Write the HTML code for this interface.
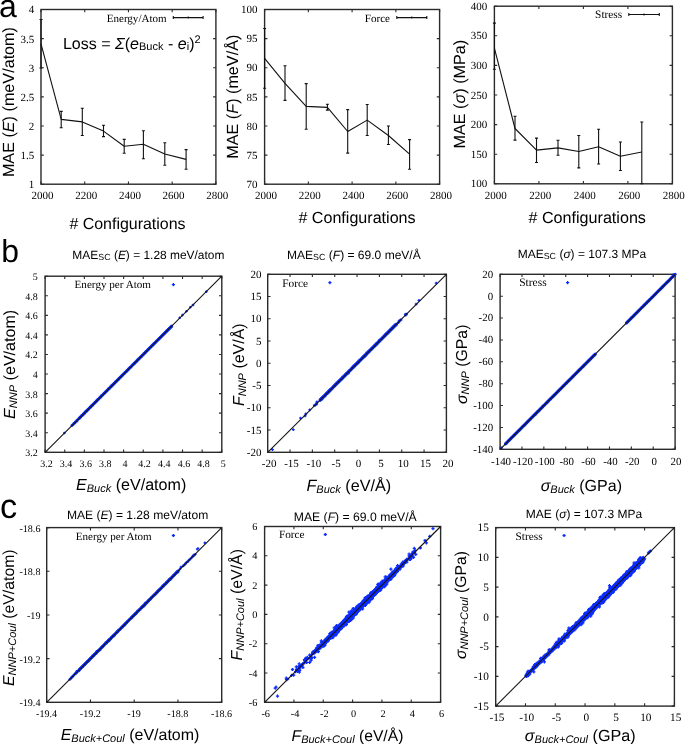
<!DOCTYPE html>
<html><head><meta charset="utf-8"><style>
html,body{margin:0;padding:0;background:#fff;width:685px;height:744px;overflow:hidden}
svg{display:block;will-change:transform} text{text-rendering:geometricPrecision}
</style></head><body>
<svg width="685" height="744" viewBox="0 0 685 744">
<rect width="685" height="744" fill="#fff"/>
<path d="M41.00 184.20v-2.80M41.00 9.50v2.80M84.72 184.20v-2.80M84.72 9.50v2.80M128.45 184.20v-2.80M128.45 9.50v2.80M172.18 184.20v-2.80M172.18 9.50v2.80M215.90 184.20v-2.80M215.90 9.50v2.80M41.00 184.20h2.80M215.90 184.20h-2.80M41.00 155.08h2.80M215.90 155.08h-2.80M41.00 125.97h2.80M215.90 125.97h-2.80M41.00 96.85h2.80M215.90 96.85h-2.80M41.00 67.73h2.80M215.90 67.73h-2.80M41.00 38.62h2.80M215.90 38.62h-2.80M41.00 9.50h2.80M215.90 9.50h-2.80" stroke="#2a2a2a" stroke-width="1.1" fill="none"/>
<rect x="41.00" y="9.50" width="174.90" height="174.70" fill="none" stroke="#2a2a2a" stroke-width="1.40"/>
<text id="a1_x0" x="42.45" y="199.05" font-family='"Liberation Serif", serif' font-size="11.00" text-anchor="middle">2000</text>
<text id="a1_x1" x="86.17" y="199.05" font-family='"Liberation Serif", serif' font-size="11.00" text-anchor="middle">2200</text>
<text id="a1_x2" x="129.90" y="199.05" font-family='"Liberation Serif", serif' font-size="11.00" text-anchor="middle">2400</text>
<text id="a1_x3" x="173.62" y="199.05" font-family='"Liberation Serif", serif' font-size="11.00" text-anchor="middle">2600</text>
<text id="a1_x4" x="217.35" y="199.05" font-family='"Liberation Serif", serif' font-size="11.00" text-anchor="middle">2800</text>
<text id="a1_y0" x="34.15" y="188.15" font-family='"Liberation Serif", serif' font-size="11.00" text-anchor="end">1</text>
<text id="a1_y1" x="34.15" y="159.03" font-family='"Liberation Serif", serif' font-size="11.00" text-anchor="end">1.5</text>
<text id="a1_y2" x="34.15" y="129.92" font-family='"Liberation Serif", serif' font-size="11.00" text-anchor="end">2</text>
<text id="a1_y3" x="34.15" y="100.80" font-family='"Liberation Serif", serif' font-size="11.00" text-anchor="end">2.5</text>
<text id="a1_y4" x="34.15" y="71.68" font-family='"Liberation Serif", serif' font-size="11.00" text-anchor="end">3</text>
<text id="a1_y5" x="34.15" y="42.57" font-family='"Liberation Serif", serif' font-size="11.00" text-anchor="end">3.5</text>
<text id="a1_y6" x="34.15" y="13.45" font-family='"Liberation Serif", serif' font-size="11.00" text-anchor="end">4</text>
<path d="M264.60 184.20v-2.80M264.60 9.50v2.80M308.35 184.20v-2.80M308.35 9.50v2.80M352.10 184.20v-2.80M352.10 9.50v2.80M395.85 184.20v-2.80M395.85 9.50v2.80M439.60 184.20v-2.80M439.60 9.50v2.80M264.60 184.20h2.80M439.60 184.20h-2.80M264.60 155.08h2.80M439.60 155.08h-2.80M264.60 125.97h2.80M439.60 125.97h-2.80M264.60 96.85h2.80M439.60 96.85h-2.80M264.60 67.73h2.80M439.60 67.73h-2.80M264.60 38.62h2.80M439.60 38.62h-2.80M264.60 9.50h2.80M439.60 9.50h-2.80" stroke="#2a2a2a" stroke-width="1.1" fill="none"/>
<rect x="264.60" y="9.50" width="175.00" height="174.70" fill="none" stroke="#2a2a2a" stroke-width="1.40"/>
<text id="a2_x0" x="266.05" y="199.05" font-family='"Liberation Serif", serif' font-size="11.00" text-anchor="middle">2000</text>
<text id="a2_x1" x="309.80" y="199.05" font-family='"Liberation Serif", serif' font-size="11.00" text-anchor="middle">2200</text>
<text id="a2_x2" x="353.55" y="199.05" font-family='"Liberation Serif", serif' font-size="11.00" text-anchor="middle">2400</text>
<text id="a2_x3" x="397.30" y="199.05" font-family='"Liberation Serif", serif' font-size="11.00" text-anchor="middle">2600</text>
<text id="a2_x4" x="441.05" y="199.05" font-family='"Liberation Serif", serif' font-size="11.00" text-anchor="middle">2800</text>
<text id="a2_y0" x="257.45" y="187.95" font-family='"Liberation Serif", serif' font-size="11.00" text-anchor="end">70</text>
<text id="a2_y1" x="257.45" y="158.83" font-family='"Liberation Serif", serif' font-size="11.00" text-anchor="end">75</text>
<text id="a2_y2" x="257.45" y="129.72" font-family='"Liberation Serif", serif' font-size="11.00" text-anchor="end">80</text>
<text id="a2_y3" x="257.45" y="100.60" font-family='"Liberation Serif", serif' font-size="11.00" text-anchor="end">85</text>
<text id="a2_y4" x="257.45" y="71.48" font-family='"Liberation Serif", serif' font-size="11.00" text-anchor="end">90</text>
<text id="a2_y5" x="257.45" y="42.37" font-family='"Liberation Serif", serif' font-size="11.00" text-anchor="end">95</text>
<text id="a2_y6" x="257.45" y="13.25" font-family='"Liberation Serif", serif' font-size="11.00" text-anchor="end">100</text>
<path d="M494.40 183.80v-2.80M494.40 6.20v2.80M538.90 183.80v-2.80M538.90 6.20v2.80M583.40 183.80v-2.80M583.40 6.20v2.80M627.90 183.80v-2.80M627.90 6.20v2.80M672.40 183.80v-2.80M672.40 6.20v2.80M494.40 183.80h2.80M672.40 183.80h-2.80M494.40 154.20h2.80M672.40 154.20h-2.80M494.40 124.60h2.80M672.40 124.60h-2.80M494.40 95.00h2.80M672.40 95.00h-2.80M494.40 65.40h2.80M672.40 65.40h-2.80M494.40 35.80h2.80M672.40 35.80h-2.80M494.40 6.20h2.80M672.40 6.20h-2.80" stroke="#2a2a2a" stroke-width="1.1" fill="none"/>
<rect x="494.40" y="6.20" width="178.00" height="177.60" fill="none" stroke="#2a2a2a" stroke-width="1.40"/>
<text id="a3_x0" x="495.85" y="198.66" font-family='"Liberation Serif", serif' font-size="11.00" text-anchor="middle">2000</text>
<text id="a3_x1" x="540.35" y="198.66" font-family='"Liberation Serif", serif' font-size="11.00" text-anchor="middle">2200</text>
<text id="a3_x2" x="584.85" y="198.66" font-family='"Liberation Serif", serif' font-size="11.00" text-anchor="middle">2400</text>
<text id="a3_x3" x="629.35" y="198.66" font-family='"Liberation Serif", serif' font-size="11.00" text-anchor="middle">2600</text>
<text id="a3_x4" x="673.85" y="198.66" font-family='"Liberation Serif", serif' font-size="11.00" text-anchor="middle">2800</text>
<text id="a3_y0" x="487.30" y="187.35" font-family='"Liberation Serif", serif' font-size="11.00" text-anchor="end">100</text>
<text id="a3_y1" x="487.30" y="157.75" font-family='"Liberation Serif", serif' font-size="11.00" text-anchor="end">150</text>
<text id="a3_y2" x="487.30" y="128.15" font-family='"Liberation Serif", serif' font-size="11.00" text-anchor="end">200</text>
<text id="a3_y3" x="487.30" y="98.55" font-family='"Liberation Serif", serif' font-size="11.00" text-anchor="end">250</text>
<text id="a3_y4" x="487.30" y="68.95" font-family='"Liberation Serif", serif' font-size="11.00" text-anchor="end">300</text>
<text id="a3_y5" x="487.30" y="39.35" font-family='"Liberation Serif", serif' font-size="11.00" text-anchor="end">350</text>
<text id="a3_y6" x="487.30" y="9.75" font-family='"Liberation Serif", serif' font-size="11.00" text-anchor="end">400</text>
<text id="a1_xl" x="127.47" y="228.80" font-family='"Liberation Sans", sans-serif' font-size="15.96" text-anchor="middle"># Configurations</text>
<text id="a2_xl" x="357.02" y="223.10" font-family='"Liberation Sans", sans-serif' font-size="16.10" text-anchor="middle"># Configurations</text>
<text id="a3_xl" x="587.23" y="223.10" font-family='"Liberation Sans", sans-serif' font-size="16.14" text-anchor="middle"># Configurations</text>
<path d="M41.00 19.50V68.00M39.50 19.50h3M39.50 68.00h3M61.20 111.40V127.70M59.70 111.40h3M59.70 127.70h3M82.30 108.20V135.50M80.80 108.20h3M80.80 135.50h3M103.50 125.30V136.60M102.00 125.30h3M102.00 136.60h3M124.20 139.40V153.20M122.70 139.40h3M122.70 153.20h3M143.40 130.70V158.70M141.90 130.70h3M141.90 158.70h3M164.80 142.80V165.30M163.30 142.80h3M163.30 165.30h3M186.10 149.60V169.30M184.60 149.60h3M184.60 169.30h3" stroke="#111" stroke-width="1.1" fill="none"/>
<polyline points="41.00,43.80 61.20,119.40 82.30,121.90 103.50,131.10 124.20,146.30 143.40,144.20 164.80,154.00 186.10,159.40" stroke="#111" stroke-width="1.1" fill="none" stroke-linejoin="round"/>
<path d="M264.60 28.50V88.30M263.10 28.50h3M263.10 88.30h3M285.00 65.80V100.40M283.50 65.80h3M283.50 100.40h3M306.20 83.60V129.30M304.70 83.60h3M304.70 129.30h3M327.40 104.20V110.10M325.90 104.20h3M325.90 110.10h3M347.70 109.60V153.10M346.20 109.60h3M346.20 153.10h3M367.20 104.50V135.50M365.70 104.50h3M365.70 135.50h3M388.40 126.00V144.50M386.90 126.00h3M386.90 144.50h3M409.60 139.60V169.30M408.10 139.60h3M408.10 169.30h3" stroke="#111" stroke-width="1.1" fill="none"/>
<polyline points="264.60,58.40 285.00,83.30 306.20,106.40 327.40,107.40 347.70,131.50 367.20,120.10 388.40,135.50 409.60,154.20" stroke="#111" stroke-width="1.1" fill="none" stroke-linejoin="round"/>
<path d="M494.40 23.10V69.30M492.90 23.10h3M492.90 69.30h3M515.00 116.20V140.10M513.50 116.20h3M513.50 140.10h3M536.50 138.10V162.50M535.00 138.10h3M535.00 162.50h3M558.00 140.30V155.20M556.50 140.30h3M556.50 155.20h3M578.80 135.50V167.90M577.30 135.50h3M577.30 167.90h3M598.60 129.20V164.00M597.10 129.20h3M597.10 164.00h3M620.40 142.00V170.50M618.90 142.00h3M618.90 170.50h3M641.80 122.00V183.80M640.30 122.00h3M640.30 183.80h3" stroke="#111" stroke-width="1.1" fill="none"/>
<polyline points="494.40,48.20 515.00,128.50 536.50,150.10 558.00,147.90 578.80,151.50 598.60,146.70 620.40,156.20 641.80,152.00" stroke="#111" stroke-width="1.1" fill="none" stroke-linejoin="round"/>
<text id="a1_lg" x="166.54" y="21.64" font-family='"Liberation Serif", serif' font-size="11.03" text-anchor="end">Energy/Atom</text>
<path d="M173.30 17.60H203.10 M173.30 16.10v3 M203.10 16.10v3 M188.20 16.60v2" stroke="#111" stroke-width="1.1" fill="none"/>
<text id="a2_lg" x="390.05" y="22.03" font-family='"Liberation Serif", serif' font-size="11.11" text-anchor="end">Force</text>
<path d="M396.80 17.60H426.80 M396.80 16.10v3 M426.80 16.10v3 M411.80 16.60v2" stroke="#111" stroke-width="1.1" fill="none"/>
<text id="a3_lg" x="622.16" y="18.49" font-family='"Liberation Serif", serif' font-size="11.34" text-anchor="end">Stress</text>
<path d="M628.80 14.50H659.30 M628.80 13.00v3 M659.30 13.00v3 M644.05 13.50v2" stroke="#111" stroke-width="1.1" fill="none"/>
<text id="loss" x="62.92" y="48.70" font-family='"Liberation Sans", sans-serif' font-size="16.06" text-anchor="start">Loss = <tspan font-style="italic">&#931;</tspan>(<tspan font-style="italic">e</tspan><tspan font-size="11" dy="1.5">Buck</tspan><tspan dy="-1.5"> - </tspan><tspan font-style="italic">e</tspan><tspan font-size="11" dy="1.5">i</tspan><tspan dy="-1.5">)</tspan><tspan font-size="11" dy="-6">2</tspan></text>
<text id="a1_yl" transform="translate(13.93 177.11) rotate(-90)" font-family='"Liberation Sans", sans-serif' font-size="16.18" text-anchor="start">MAE (<tspan font-style="italic">E</tspan>) (meV/atom)</text>
<text id="a2_yl" transform="translate(237.70 96.70) rotate(-90)" font-family='"Liberation Sans", sans-serif' font-size="16.18" text-anchor="middle">MAE (<tspan font-style="italic">F</tspan>) (meV/&#197;)</text>
<text id="a3_yl" transform="translate(464.56 94.11) rotate(-90)" font-family='"Liberation Sans", sans-serif' font-size="16.21" text-anchor="middle">MAE (<tspan font-style="italic">&#963;</tspan>) (MPa)</text>
<text id="pa" x="-1.00" y="17.00" font-family='"Liberation Sans", sans-serif' font-size="32.00" text-anchor="start">a</text>
<text id="pb" x="1.34" y="262.40" font-family='"Liberation Sans", sans-serif' font-size="31.93" text-anchor="start">b</text>
<text id="pc" x="0.09" y="517.59" font-family='"Liberation Sans", sans-serif' font-size="34.37" text-anchor="start">c</text>
<path d="M45.10 452.30v-2.80M45.10 276.20v2.80M64.73 452.30v-2.80M64.73 276.20v2.80M84.37 452.30v-2.80M84.37 276.20v2.80M104.00 452.30v-2.80M104.00 276.20v2.80M123.63 452.30v-2.80M123.63 276.20v2.80M143.27 452.30v-2.80M143.27 276.20v2.80M162.90 452.30v-2.80M162.90 276.20v2.80M182.53 452.30v-2.80M182.53 276.20v2.80M202.17 452.30v-2.80M202.17 276.20v2.80M221.80 452.30v-2.80M221.80 276.20v2.80M45.10 452.30h2.80M221.80 452.30h-2.80M45.10 432.73h2.80M221.80 432.73h-2.80M45.10 413.17h2.80M221.80 413.17h-2.80M45.10 393.60h2.80M221.80 393.60h-2.80M45.10 374.03h2.80M221.80 374.03h-2.80M45.10 354.47h2.80M221.80 354.47h-2.80M45.10 334.90h2.80M221.80 334.90h-2.80M45.10 315.33h2.80M221.80 315.33h-2.80M45.10 295.77h2.80M221.80 295.77h-2.80M45.10 276.20h2.80M221.80 276.20h-2.80" stroke="#2a2a2a" stroke-width="1.1" fill="none"/>
<rect x="45.10" y="276.20" width="176.70" height="176.10" fill="none" stroke="#2a2a2a" stroke-width="1.40"/>
<path d="M267.70 452.30v-2.80M267.70 274.30v2.80M290.04 452.30v-2.80M290.04 274.30v2.80M312.38 452.30v-2.80M312.38 274.30v2.80M334.71 452.30v-2.80M334.71 274.30v2.80M357.05 452.30v-2.80M357.05 274.30v2.80M379.39 452.30v-2.80M379.39 274.30v2.80M401.72 452.30v-2.80M401.72 274.30v2.80M424.06 452.30v-2.80M424.06 274.30v2.80M446.40 452.30v-2.80M446.40 274.30v2.80M267.70 452.30h2.80M446.40 452.30h-2.80M267.70 430.05h2.80M446.40 430.05h-2.80M267.70 407.80h2.80M446.40 407.80h-2.80M267.70 385.55h2.80M446.40 385.55h-2.80M267.70 363.30h2.80M446.40 363.30h-2.80M267.70 341.05h2.80M446.40 341.05h-2.80M267.70 318.80h2.80M446.40 318.80h-2.80M267.70 296.55h2.80M446.40 296.55h-2.80M267.70 274.30h2.80M446.40 274.30h-2.80" stroke="#2a2a2a" stroke-width="1.1" fill="none"/>
<rect x="267.70" y="274.30" width="178.70" height="178.00" fill="none" stroke="#2a2a2a" stroke-width="1.40"/>
<path d="M500.10 449.30v-2.80M500.10 274.30v2.80M521.98 449.30v-2.80M521.98 274.30v2.80M543.85 449.30v-2.80M543.85 274.30v2.80M565.73 449.30v-2.80M565.73 274.30v2.80M587.60 449.30v-2.80M587.60 274.30v2.80M609.48 449.30v-2.80M609.48 274.30v2.80M631.35 449.30v-2.80M631.35 274.30v2.80M653.23 449.30v-2.80M653.23 274.30v2.80M675.10 449.30v-2.80M675.10 274.30v2.80M500.10 449.30h2.80M675.10 449.30h-2.80M500.10 427.43h2.80M675.10 427.43h-2.80M500.10 405.55h2.80M675.10 405.55h-2.80M500.10 383.68h2.80M675.10 383.68h-2.80M500.10 361.80h2.80M675.10 361.80h-2.80M500.10 339.93h2.80M675.10 339.93h-2.80M500.10 318.05h2.80M675.10 318.05h-2.80M500.10 296.18h2.80M675.10 296.18h-2.80M500.10 274.30h2.80M675.10 274.30h-2.80" stroke="#2a2a2a" stroke-width="1.1" fill="none"/>
<rect x="500.10" y="274.30" width="175.00" height="175.00" fill="none" stroke="#2a2a2a" stroke-width="1.40"/>
<path d="M46.70 702.30v-2.80M46.70 527.60v2.80M90.45 702.30v-2.80M90.45 527.60v2.80M134.20 702.30v-2.80M134.20 527.60v2.80M177.95 702.30v-2.80M177.95 527.60v2.80M221.70 702.30v-2.80M221.70 527.60v2.80M46.70 702.30h2.80M221.70 702.30h-2.80M46.70 658.62h2.80M221.70 658.62h-2.80M46.70 614.95h2.80M221.70 614.95h-2.80M46.70 571.27h2.80M221.70 571.27h-2.80M46.70 527.60h2.80M221.70 527.60h-2.80" stroke="#2a2a2a" stroke-width="1.1" fill="none"/>
<rect x="46.70" y="527.60" width="175.00" height="174.70" fill="none" stroke="#2a2a2a" stroke-width="1.40"/>
<path d="M264.60 702.30v-2.80M264.60 526.50v2.80M293.93 702.30v-2.80M293.93 526.50v2.80M323.27 702.30v-2.80M323.27 526.50v2.80M352.60 702.30v-2.80M352.60 526.50v2.80M381.93 702.30v-2.80M381.93 526.50v2.80M411.27 702.30v-2.80M411.27 526.50v2.80M440.60 702.30v-2.80M440.60 526.50v2.80M264.60 702.30h2.80M440.60 702.30h-2.80M264.60 673.00h2.80M440.60 673.00h-2.80M264.60 643.70h2.80M440.60 643.70h-2.80M264.60 614.40h2.80M440.60 614.40h-2.80M264.60 585.10h2.80M440.60 585.10h-2.80M264.60 555.80h2.80M440.60 555.80h-2.80M264.60 526.50h2.80M440.60 526.50h-2.80" stroke="#2a2a2a" stroke-width="1.1" fill="none"/>
<rect x="264.60" y="526.50" width="176.00" height="175.80" fill="none" stroke="#2a2a2a" stroke-width="1.40"/>
<path d="M495.70 706.10v-2.80M495.70 527.60v2.80M525.48 706.10v-2.80M525.48 527.60v2.80M555.27 706.10v-2.80M555.27 527.60v2.80M585.05 706.10v-2.80M585.05 527.60v2.80M614.83 706.10v-2.80M614.83 527.60v2.80M644.62 706.10v-2.80M644.62 527.60v2.80M674.40 706.10v-2.80M674.40 527.60v2.80M495.70 706.10h2.80M674.40 706.10h-2.80M495.70 676.35h2.80M674.40 676.35h-2.80M495.70 646.60h2.80M674.40 646.60h-2.80M495.70 616.85h2.80M674.40 616.85h-2.80M495.70 587.10h2.80M674.40 587.10h-2.80M495.70 557.35h2.80M674.40 557.35h-2.80M495.70 527.60h2.80M674.40 527.60h-2.80" stroke="#2a2a2a" stroke-width="1.1" fill="none"/>
<rect x="495.70" y="527.60" width="178.70" height="178.50" fill="none" stroke="#2a2a2a" stroke-width="1.40"/>
<polygon points="312.22,653.18 322.06,642.50 333.23,630.21 377.02,586.05 389.11,574.68 399.94,564.99 407.56,557.95 409.11,559.51 402.06,567.12 392.36,577.94 380.98,590.01 336.77,633.75 324.47,644.90 313.78,654.73" fill="#0c2cff" stroke="#0c2cff" stroke-width="0.8" stroke-linejoin="round"/>
<polygon points="524.63,675.50 548.25,651.49 571.58,627.19 595.05,603.04 630.65,567.20 640.47,557.96 643.38,556.11 645.85,558.59 644.00,561.50 634.75,571.30 598.87,606.86 574.69,630.31 550.37,653.61 526.33,677.20" fill="#0c2cff" stroke="#0c2cff" stroke-width="0.8" stroke-linejoin="round"/>
<line x1="79.46" y1="418.06" x2="171.74" y2="326.09" stroke="#0c2cff" stroke-width="3.00" stroke-linecap="round"/>
<line x1="320.19" y1="400.01" x2="396.36" y2="324.14" stroke="#0c2cff" stroke-width="3.20" stroke-linecap="round"/>
<line x1="505.57" y1="443.83" x2="595.26" y2="354.14" stroke="#0c2cff" stroke-width="3.00" stroke-linecap="round"/>
<line x1="626.43" y1="322.97" x2="675.10" y2="274.30" stroke="#0c2cff" stroke-width="3.00" stroke-linecap="round"/>
<line x1="79.51" y1="669.54" x2="177.95" y2="571.27" stroke="#0c2cff" stroke-width="3.00" stroke-linecap="round"/>
<path d="M102.8 393.7h2.6M104.1 392.4v2.6M77.7 418.8h2.6M79.0 417.5v2.6M123.9 372.4h2.6M125.2 371.1v2.6M121.1 375.3h2.6M122.4 374.0v2.6M74.0 422.1h2.6M75.3 420.8v2.6M79.4 416.8h2.6M80.7 415.5v2.6M112.8 383.5h2.6M114.1 382.2v2.6M92.6 403.6h2.6M93.9 402.3v2.6M133.3 363.4h2.6M134.6 362.1v2.6M110.0 386.3h2.6M111.3 385.0v2.6M168.3 328.7h2.6M169.6 327.4v2.6M99.4 397.0h2.6M100.7 395.7v2.6M84.8 411.6h2.6M86.1 410.3v2.6M152.1 344.5h2.6M153.4 343.2v2.6M88.3 407.7h2.6M89.6 406.4v2.6M107.5 388.6h2.6M108.8 387.3v2.6M125.2 371.3h2.6M126.5 370.0v2.6M90.9 405.3h2.6M92.2 404.0v2.6M138.4 357.9h2.6M139.7 356.6v2.6M129.0 367.5h2.6M130.3 366.2v2.6M115.6 380.6h2.6M116.9 379.3v2.6M140.5 356.3h2.6M141.8 355.0v2.6M94.6 401.4h2.6M95.9 400.1v2.6M157.9 338.5h2.6M159.2 337.2v2.6M143.3 353.0h2.6M144.6 351.7v2.6M82.4 414.4h2.6M83.7 413.1v2.6M112.2 384.2h2.6M113.5 382.9v2.6M119.2 377.0h2.6M120.5 375.7v2.6M74.1 421.9h2.6M75.4 420.6v2.6M127.5 368.5h2.6M128.8 367.2v2.6M157.9 338.5h2.6M159.2 337.2v2.6M130.0 366.7h2.6M131.3 365.4v2.6M128.2 367.8h2.6M129.5 366.5v2.6M165.0 331.7h2.6M166.3 330.4v2.6M117.8 378.6h2.6M119.1 377.3v2.6M140.5 355.9h2.6M141.8 354.6v2.6M135.3 361.5h2.6M136.6 360.2v2.6M98.8 397.5h2.6M100.1 396.2v2.6M108.9 387.4h2.6M110.2 386.1v2.6M116.5 379.8h2.6M117.8 378.5v2.6M87.2 409.1h2.6M88.5 407.8v2.6M147.3 349.2h2.6M148.6 347.9v2.6M83.3 413.0h2.6M84.6 411.7v2.6M157.7 339.0h2.6M159.0 337.7v2.6M78.2 417.7h2.6M79.5 416.4v2.6M158.8 337.8h2.6M160.1 336.5v2.6M152.4 344.2h2.6M153.7 342.9v2.6M111.8 384.4h2.6M113.1 383.1v2.6M106.4 390.3h2.6M107.7 389.0v2.6M85.2 410.6h2.6M86.5 409.3v2.6M88.0 408.3h2.6M89.3 407.0v2.6M118.9 377.6h2.6M120.2 376.3v2.6M129.3 367.1h2.6M130.6 365.8v2.6M112.3 384.1h2.6M113.6 382.8v2.6M107.0 388.8h2.6M108.3 387.5v2.6M139.3 356.9h2.6M140.6 355.6v2.6M121.8 374.3h2.6M123.1 373.0v2.6M75.6 420.4h2.6M76.9 419.1v2.6M160.4 336.2h2.6M161.7 334.9v2.6M150.0 346.1h2.6M151.3 344.8v2.6M109.6 386.7h2.6M110.9 385.4v2.6M133.8 362.6h2.6M135.1 361.3v2.6M76.6 419.7h2.6M77.9 418.4v2.6M86.6 409.7h2.6M87.9 408.4v2.6M104.4 392.0h2.6M105.7 390.7v2.6M85.5 410.8h2.6M86.8 409.5v2.6M80.4 415.7h2.6M81.7 414.4v2.6M157.9 338.7h2.6M159.2 337.4v2.6M131.8 364.7h2.6M133.1 363.4v2.6M105.2 391.3h2.6M106.5 390.0v2.6M106.9 389.7h2.6M108.2 388.4v2.6M169.9 326.9h2.6M171.2 325.6v2.6M116.9 379.3h2.6M118.2 378.0v2.6M80.5 415.7h2.6M81.8 414.4v2.6M104.6 391.7h2.6M105.9 390.4v2.6M86.7 410.0h2.6M88.0 408.7v2.6M72.7 423.7h2.6M74.0 422.4v2.6M84.9 411.2h2.6M86.2 409.9v2.6M124.8 371.8h2.6M126.1 370.5v2.6M168.3 328.3h2.6M169.6 327.0v2.6M156.7 339.7h2.6M158.0 338.4v2.6M106.9 389.2h2.6M108.2 387.9v2.6M87.0 409.2h2.6M88.3 407.9v2.6M148.2 348.0h2.6M149.5 346.7v2.6M103.3 393.0h2.6M104.6 391.7v2.6M169.1 327.8h2.6M170.4 326.5v2.6M155.7 340.9h2.6M157.0 339.6v2.6M144.2 351.9h2.6M145.5 350.6v2.6M92.9 403.2h2.6M94.2 401.9v2.6M73.2 423.0h2.6M74.5 421.7v2.6M73.1 423.1h2.6M74.4 421.8v2.6M139.7 356.9h2.6M141.0 355.6v2.6M165.8 330.2h2.6M167.1 328.9v2.6M169.3 327.4h2.6M170.6 326.1v2.6M165.9 330.5h2.6M167.2 329.2v2.6M93.1 403.3h2.6M94.4 402.0v2.6M90.0 406.3h2.6M91.3 405.0v2.6M160.6 336.2h2.6M161.9 334.9v2.6M154.3 341.9h2.6M155.6 340.6v2.6M150.4 346.1h2.6M151.7 344.8v2.6M78.7 417.3h2.6M80.0 416.0v2.6M148.4 347.6h2.6M149.7 346.3v2.6M145.4 351.0h2.6M146.7 349.7v2.6M149.3 347.1h2.6M150.6 345.8v2.6M103.7 392.8h2.6M105.0 391.5v2.6M109.7 386.1h2.6M111.0 384.8v2.6M110.7 386.0h2.6M112.0 384.7v2.6M87.3 408.9h2.6M88.6 407.6v2.6M83.2 413.3h2.6M84.5 412.0v2.6M151.2 345.6h2.6M152.5 344.3v2.6M85.1 411.4h2.6M86.4 410.1v2.6M135.9 360.0h2.6M137.2 358.7v2.6M105.3 390.9h2.6M106.6 389.6v2.6M71.7 424.4h2.6M73.0 423.1v2.6M167.4 328.9h2.6M168.7 327.6v2.6M163.7 332.6h2.6M165.0 331.3v2.6M113.9 382.7h2.6M115.2 381.4v2.6M91.3 404.7h2.6M92.6 403.4v2.6M95.5 400.7h2.6M96.8 399.4v2.6M129.1 367.4h2.6M130.4 366.1v2.6M96.2 400.0h2.6M97.5 398.7v2.6M161.5 335.1h2.6M162.8 333.8v2.6M105.6 390.4h2.6M106.9 389.1v2.6M160.9 335.7h2.6M162.2 334.4v2.6M112.5 384.0h2.6M113.8 382.7v2.6M123.5 372.8h2.6M124.8 371.5v2.6M122.8 373.8h2.6M124.1 372.5v2.6M88.7 407.6h2.6M90.0 406.3v2.6M70.7 425.5h2.6M72.0 424.2v2.6M117.7 378.6h2.6M119.0 377.3v2.6M142.8 353.4h2.6M144.1 352.1v2.6M122.2 374.1h2.6M123.5 372.8v2.6M125.9 370.5h2.6M127.2 369.2v2.6M126.4 369.9h2.6M127.7 368.6v2.6M95.2 401.1h2.6M96.5 399.8v2.6M121.3 375.4h2.6M122.6 374.1v2.6M126.6 369.8h2.6M127.9 368.5v2.6M114.5 381.4h2.6M115.8 380.1v2.6M131.5 364.6h2.6M132.8 363.3v2.6M139.7 356.8h2.6M141.0 355.5v2.6M115.5 380.6h2.6M116.8 379.3v2.6M164.6 331.9h2.6M165.9 330.6v2.6M140.5 356.3h2.6M141.8 355.0v2.6M96.1 399.8h2.6M97.4 398.5v2.6M126.5 370.2h2.6M127.8 368.9v2.6M84.0 412.1h2.6M85.3 410.8v2.6M82.4 413.7h2.6M83.7 412.4v2.6M94.4 401.9h2.6M95.7 400.6v2.6M77.5 418.5h2.6M78.8 417.2v2.6M160.0 336.2h2.6M161.3 334.9v2.6M85.7 410.4h2.6M87.0 409.1v2.6M84.5 411.5h2.6M85.8 410.2v2.6M158.8 337.9h2.6M160.1 336.6v2.6M165.7 330.8h2.6M167.0 329.5v2.6M109.9 385.8h2.6M111.2 384.5v2.6M153.7 342.8h2.6M155.0 341.5v2.6M86.4 409.7h2.6M87.7 408.4v2.6M104.3 392.1h2.6M105.6 390.8v2.6M89.8 406.3h2.6M91.1 405.0v2.6M72.4 424.1h2.6M73.7 422.8v2.6M125.8 370.6h2.6M127.1 369.3v2.6M103.5 392.8h2.6M104.8 391.5v2.6M132.7 363.6h2.6M134.0 362.3v2.6M168.9 327.6h2.6M170.2 326.3v2.6M149.3 347.3h2.6M150.6 346.0v2.6M96.9 399.4h2.6M98.2 398.1v2.6M74.3 421.9h2.6M75.6 420.6v2.6M83.2 412.9h2.6M84.5 411.6v2.6M112.8 383.9h2.6M114.1 382.6v2.6M96.1 400.0h2.6M97.4 398.7v2.6M85.4 411.1h2.6M86.7 409.8v2.6M140.4 355.9h2.6M141.7 354.6v2.6M79.4 417.1h2.6M80.7 415.8v2.6M112.9 383.5h2.6M114.2 382.2v2.6M77.7 418.8h2.6M79.0 417.5v2.6M150.5 345.8h2.6M151.8 344.5v2.6M78.7 417.6h2.6M80.0 416.3v2.6M156.7 339.8h2.6M158.0 338.5v2.6M115.7 380.5h2.6M117.0 379.2v2.6M163.2 333.5h2.6M164.5 332.2v2.6M97.2 399.2h2.6M98.5 397.9v2.6M94.3 402.2h2.6M95.6 400.9v2.6M81.3 415.0h2.6M82.6 413.7v2.6M90.5 405.8h2.6M91.8 404.5v2.6M101.5 394.7h2.6M102.8 393.4v2.6M99.5 397.1h2.6M100.8 395.8v2.6M120.4 376.0h2.6M121.7 374.7v2.6M72.2 424.2h2.6M73.5 422.9v2.6M95.6 401.1h2.6M96.9 399.8v2.6M125.5 370.9h2.6M126.8 369.6v2.6M89.0 406.7h2.6M90.3 405.4v2.6M81.0 415.3h2.6M82.3 414.0v2.6M152.2 344.1h2.6M153.5 342.8v2.6M153.9 342.7h2.6M155.2 341.4v2.6M109.5 386.5h2.6M110.8 385.2v2.6M168.7 327.8h2.6M170.0 326.5v2.6M104.7 391.8h2.6M106.0 390.5v2.6M133.8 362.3h2.6M135.1 361.0v2.6M110.8 385.5h2.6M112.1 384.2v2.6M83.3 413.0h2.6M84.6 411.7v2.6M77.4 418.8h2.6M78.7 417.5v2.6M86.6 409.5h2.6M87.9 408.2v2.6M78.9 417.6h2.6M80.2 416.3v2.6M137.3 358.8h2.6M138.6 357.5v2.6M98.5 397.8h2.6M99.8 396.5v2.6M116.4 380.1h2.6M117.7 378.8v2.6M86.0 410.1h2.6M87.3 408.8v2.6M166.6 329.9h2.6M167.9 328.6v2.6M167.6 328.8h2.6M168.9 327.5v2.6M167.0 329.5h2.6M168.3 328.2v2.6M101.3 395.0h2.6M102.6 393.7v2.6M108.5 387.8h2.6M109.8 386.5v2.6M117.8 378.4h2.6M119.1 377.1v2.6M120.8 375.5h2.6M122.1 374.2v2.6M70.8 425.4h2.6M72.1 424.1v2.6M110.4 386.1h2.6M111.7 384.8v2.6M74.6 421.8h2.6M75.9 420.5v2.6M93.6 402.7h2.6M94.9 401.4v2.6M128.8 367.3h2.6M130.1 366.0v2.6M136.1 360.2h2.6M137.4 358.9v2.6M142.1 354.5h2.6M143.4 353.2v2.6M102.9 393.3h2.6M104.2 392.0v2.6M169.0 327.7h2.6M170.3 326.4v2.6M134.8 361.8h2.6M136.1 360.5v2.6M74.8 421.6h2.6M76.1 420.3v2.6M132.9 363.1h2.6M134.2 361.8v2.6M143.8 352.7h2.6M145.1 351.4v2.6M122.7 373.6h2.6M124.0 372.3v2.6M120.9 375.7h2.6M122.2 374.4v2.6M152.9 343.3h2.6M154.2 342.0v2.6M128.9 367.7h2.6M130.2 366.4v2.6M139.6 356.6h2.6M140.9 355.3v2.6M93.4 403.0h2.6M94.7 401.7v2.6M106.4 389.9h2.6M107.7 388.6v2.6M80.9 415.5h2.6M82.2 414.2v2.6M133.0 363.1h2.6M134.3 361.8v2.6M133.0 363.3h2.6M134.3 362.0v2.6M70.5 425.4h2.6M71.8 424.1v2.6M150.2 346.3h2.6M151.5 345.0v2.6M123.8 372.4h2.6M125.1 371.1v2.6M136.5 360.3h2.6M137.8 359.0v2.6M95.6 400.8h2.6M96.9 399.5v2.6M77.7 418.4h2.6M79.0 417.1v2.6M91.0 405.6h2.6M92.3 404.3v2.6M144.5 352.2h2.6M145.8 350.9v2.6M108.6 387.7h2.6M109.9 386.4v2.6M118.2 378.0h2.6M119.5 376.7v2.6M131.9 364.2h2.6M133.2 362.9v2.6M134.7 361.8h2.6M136.0 360.5v2.6M95.8 400.6h2.6M97.1 399.3v2.6M144.7 351.7h2.6M146.0 350.4v2.6M71.7 424.8h2.6M73.0 423.5v2.6M76.4 419.8h2.6M77.7 418.5v2.6M139.8 357.0h2.6M141.1 355.7v2.6M137.9 358.4h2.6M139.2 357.1v2.6M117.0 379.6h2.6M118.3 378.3v2.6M117.2 379.5h2.6M118.5 378.2v2.6M90.4 406.2h2.6M91.7 404.9v2.6M168.3 328.3h2.6M169.6 327.0v2.6M116.3 380.1h2.6M117.6 378.8v2.6M152.5 344.2h2.6M153.8 342.9v2.6M97.2 399.1h2.6M98.5 397.8v2.6M91.4 405.0h2.6M92.7 403.7v2.6M128.5 367.8h2.6M129.8 366.5v2.6M84.2 411.5h2.6M85.5 410.2v2.6M83.5 412.6h2.6M84.8 411.3v2.6M152.2 343.8h2.6M153.5 342.5v2.6M140.7 355.7h2.6M142.0 354.4v2.6M93.6 402.9h2.6M94.9 401.6v2.6M72.7 423.3h2.6M74.0 422.0v2.6M70.5 425.4h2.6M71.8 424.1v2.6M100.5 395.8h2.6M101.8 394.5v2.6M84.3 411.8h2.6M85.6 410.5v2.6M154.5 342.1h2.6M155.8 340.8v2.6M70.5 425.7h2.6M71.8 424.4v2.6M82.1 413.7h2.6M83.4 412.4v2.6M163.0 333.4h2.6M164.3 332.1v2.6M99.1 396.7h2.6M100.4 395.4v2.6M107.3 388.4h2.6M108.6 387.1v2.6M129.5 367.3h2.6M130.8 366.0v2.6M106.3 389.8h2.6M107.6 388.5v2.6M75.2 421.1h2.6M76.5 419.8v2.6M80.5 415.8h2.6M81.8 414.5v2.6M163.9 332.4h2.6M165.2 331.1v2.6M95.3 401.0h2.6M96.6 399.7v2.6M89.4 407.1h2.6M90.7 405.8v2.6M107.9 388.8h2.6M109.2 387.5v2.6M151.5 344.8h2.6M152.8 343.5v2.6M133.7 363.1h2.6M135.0 361.8v2.6M125.2 370.9h2.6M126.5 369.6v2.6M142.5 354.2h2.6M143.8 352.9v2.6M115.5 380.9h2.6M116.8 379.6v2.6M145.6 350.7h2.6M146.9 349.4v2.6M75.1 420.9h2.6M76.4 419.6v2.6M163.2 333.5h2.6M164.5 332.2v2.6M104.8 391.7h2.6M106.1 390.4v2.6M100.1 396.2h2.6M101.4 394.9v2.6M96.1 399.6h2.6M97.4 398.3v2.6M135.9 360.4h2.6M137.2 359.1v2.6M109.9 386.7h2.6M111.2 385.4v2.6M87.1 409.2h2.6M88.4 407.9v2.6M161.1 335.5h2.6M162.4 334.2v2.6M120.1 376.3h2.6M121.4 375.0v2.6M170.3 326.7h2.6M171.6 325.4v2.6M115.4 381.0h2.6M116.7 379.7v2.6M79.4 416.9h2.6M80.7 415.6v2.6M104.6 391.8h2.6M105.9 390.5v2.6M96.2 400.1h2.6M97.5 398.8v2.6M127.5 369.2h2.6M128.8 367.9v2.6M111.5 384.6h2.6M112.8 383.3v2.6M111.6 384.5h2.6M112.9 383.2v2.6M104.2 392.1h2.6M105.5 390.8v2.6M76.5 419.6h2.6M77.8 418.3v2.6M83.2 413.6h2.6M84.5 412.3v2.6M120.6 375.5h2.6M121.9 374.2v2.6M91.8 404.2h2.6M93.1 402.9v2.6M97.4 398.8h2.6M98.7 397.5v2.6M115.1 381.5h2.6M116.4 380.2v2.6M165.9 330.8h2.6M167.2 329.5v2.6M72.3 423.5h2.6M73.6 422.2v2.6M73.5 422.6h2.6M74.8 421.3v2.6M117.5 378.4h2.6M118.8 377.1v2.6M129.2 367.4h2.6M130.5 366.1v2.6M163.1 333.4h2.6M164.4 332.1v2.6M153.1 343.7h2.6M154.4 342.4v2.6M95.0 400.9h2.6M96.3 399.6v2.6M81.3 415.1h2.6M82.6 413.8v2.6M138.7 357.9h2.6M140.0 356.6v2.6M164.5 331.9h2.6M165.8 330.6v2.6M146.7 349.4h2.6M148.0 348.1v2.6M116.1 380.2h2.6M117.4 378.9v2.6M148.6 347.8h2.6M149.9 346.5v2.6M93.7 402.8h2.6M95.0 401.5v2.6M100.6 395.5h2.6M101.9 394.2v2.6M83.1 413.1h2.6M84.4 411.8v2.6M140.4 356.3h2.6M141.7 355.0v2.6M81.6 414.8h2.6M82.9 413.5v2.6M128.7 367.8h2.6M130.0 366.5v2.6M109.2 387.2h2.6M110.5 385.9v2.6M71.5 425.0h2.6M72.8 423.7v2.6M100.2 395.5h2.6M101.5 394.2v2.6M134.9 361.6h2.6M136.2 360.3v2.6M158.7 337.6h2.6M160.0 336.3v2.6M95.1 401.2h2.6M96.4 399.9v2.6M166.5 330.0h2.6M167.8 328.7v2.6M72.4 423.6h2.6M73.7 422.3v2.6M120.2 376.1h2.6M121.5 374.8v2.6M96.0 400.1h2.6M97.3 398.8v2.6M137.2 359.4h2.6M138.5 358.1v2.6M73.7 422.4h2.6M75.0 421.1v2.6M104.0 392.0h2.6M105.3 390.7v2.6M90.2 406.2h2.6M91.5 404.9v2.6M150.1 346.3h2.6M151.4 345.0v2.6M90.7 405.3h2.6M92.0 404.0v2.6M167.3 329.0h2.6M168.6 327.7v2.6M93.6 403.0h2.6M94.9 401.7v2.6M92.5 403.8h2.6M93.8 402.5v2.6M165.5 330.8h2.6M166.8 329.5v2.6M120.0 376.4h2.6M121.3 375.1v2.6M112.1 384.3h2.6M113.4 383.0v2.6M137.0 359.6h2.6M138.3 358.3v2.6M109.7 386.6h2.6M111.0 385.3v2.6M91.7 404.7h2.6M93.0 403.4v2.6M75.5 420.7h2.6M76.8 419.4v2.6M76.1 419.7h2.6M77.4 418.4v2.6M158.9 337.9h2.6M160.2 336.6v2.6M143.9 353.0h2.6M145.2 351.7v2.6M103.3 393.0h2.6M104.6 391.7v2.6M89.0 407.5h2.6M90.3 406.2v2.6M73.4 422.6h2.6M74.7 421.3v2.6M136.8 359.5h2.6M138.1 358.2v2.6M103.6 392.9h2.6M104.9 391.6v2.6M87.3 409.1h2.6M88.6 407.8v2.6M105.5 390.8h2.6M106.8 389.5v2.6M166.2 330.7h2.6M167.5 329.4v2.6M91.3 405.4h2.6M92.6 404.1v2.6M106.1 390.4h2.6M107.4 389.1v2.6M113.4 382.6h2.6M114.7 381.3v2.6M75.1 420.9h2.6M76.4 419.6v2.6M162.4 334.1h2.6M163.7 332.8v2.6M89.5 406.5h2.6M90.8 405.2v2.6M73.5 423.0h2.6M74.8 421.7v2.6M111.5 385.0h2.6M112.8 383.7v2.6M74.2 421.7h2.6M75.5 420.4v2.6M74.0 422.6h2.6M75.3 421.3v2.6M96.1 400.3h2.6M97.4 399.0v2.6M145.2 351.4h2.6M146.5 350.1v2.6M97.5 398.7h2.6M98.8 397.4v2.6M166.1 330.3h2.6M167.4 329.0v2.6M142.0 354.3h2.6M143.3 353.0v2.6M102.0 394.3h2.6M103.3 393.0v2.6M146.0 350.5h2.6M147.3 349.2v2.6M161.9 334.3h2.6M163.2 333.0v2.6M72.5 423.3h2.6M73.8 422.0v2.6M93.5 402.3h2.6M94.8 401.0v2.6M165.9 330.7h2.6M167.2 329.4v2.6M109.0 387.3h2.6M110.3 386.0v2.6M119.8 376.8h2.6M121.1 375.5v2.6M163.3 333.3h2.6M164.6 332.0v2.6M144.4 352.4h2.6M145.7 351.1v2.6M152.7 343.8h2.6M154.0 342.5v2.6M103.0 393.0h2.6M104.3 391.7v2.6M102.2 393.9h2.6M103.5 392.6v2.6M78.4 418.1h2.6M79.7 416.8v2.6M90.1 406.2h2.6M91.4 404.9v2.6M76.7 419.3h2.6M78.0 418.0v2.6M73.6 422.4h2.6M74.9 421.1v2.6M168.4 328.0h2.6M169.7 326.7v2.6M158.9 337.8h2.6M160.2 336.5v2.6M78.7 417.5h2.6M80.0 416.2v2.6M79.8 416.1h2.6M81.1 414.8v2.6M115.1 381.3h2.6M116.4 380.0v2.6M93.6 402.4h2.6M94.9 401.1v2.6M137.9 358.7h2.6M139.2 357.4v2.6M145.3 351.3h2.6M146.6 350.0v2.6M82.3 413.7h2.6M83.6 412.4v2.6M154.5 341.9h2.6M155.8 340.6v2.6M107.8 388.8h2.6M109.1 387.5v2.6M144.2 352.3h2.6M145.5 351.0v2.6M94.9 401.5h2.6M96.2 400.2v2.6M85.8 410.7h2.6M87.1 409.4v2.6M102.9 393.2h2.6M104.2 391.9v2.6M110.1 386.5h2.6M111.4 385.2v2.6M93.5 402.8h2.6M94.8 401.5v2.6M151.1 345.0h2.6M152.4 343.7v2.6M80.3 415.4h2.6M81.6 414.1v2.6M117.9 378.6h2.6M119.2 377.3v2.6M161.7 334.5h2.6M163.0 333.2v2.6M74.3 421.8h2.6M75.6 420.5v2.6M89.3 407.0h2.6M90.6 405.7v2.6M167.5 328.6h2.6M168.8 327.3v2.6M107.5 388.6h2.6M108.8 387.3v2.6M157.0 339.4h2.6M158.3 338.1v2.6M148.2 348.3h2.6M149.5 347.0v2.6M165.1 331.6h2.6M166.4 330.3v2.6M132.5 364.1h2.6M133.8 362.8v2.6M92.1 404.1h2.6M93.4 402.8v2.6M90.8 405.6h2.6M92.1 404.3v2.6M95.7 400.3h2.6M97.0 399.0v2.6M90.6 405.5h2.6M91.9 404.2v2.6M71.4 424.7h2.6M72.7 423.4v2.6M89.0 407.6h2.6M90.3 406.3v2.6M101.6 394.8h2.6M102.9 393.5v2.6M125.4 371.4h2.6M126.7 370.1v2.6M76.7 419.7h2.6M78.0 418.4v2.6M125.5 371.1h2.6M126.8 369.8v2.6M134.4 362.2h2.6M135.7 360.9v2.6M140.0 356.5h2.6M141.3 355.2v2.6M111.3 385.0h2.6M112.6 383.7v2.6M165.8 330.9h2.6M167.1 329.6v2.6M63.1 433.0h2.6M64.4 431.7v2.6M71.0 425.1h2.6M72.3 423.8v2.6M73.2 423.2h2.6M74.5 421.9v2.6M75.8 421.2h2.6M77.1 419.9v2.6M178.4 317.8h2.6M179.7 316.5v2.6M181.1 315.1h2.6M182.4 313.8v2.6M185.1 311.3h2.6M186.4 310.0v2.6M189.0 307.2h2.6M190.3 305.9v2.6M191.7 305.0h2.6M193.0 303.7v2.6M205.0 291.6h2.6M206.3 290.3v2.6" stroke="#0c2cff" stroke-width="1.3" fill="none"/>
<path d="M342.4 376.2h2.8M343.8 374.8v2.8M350.4 368.3h2.8M351.8 366.9v2.8M384.8 334.6h2.8M386.2 333.2v2.8M333.8 385.0h2.8M335.2 383.6v2.8M374.3 344.8h2.8M375.7 343.4v2.8M387.5 331.6h2.8M388.9 330.2v2.8M351.1 367.9h2.8M352.5 366.5v2.8M385.9 332.9h2.8M387.3 331.5v2.8M353.9 365.1h2.8M355.3 363.7v2.8M360.8 358.2h2.8M362.2 356.8v2.8M367.7 351.5h2.8M369.1 350.1v2.8M366.1 352.8h2.8M367.5 351.4v2.8M346.9 371.8h2.8M348.3 370.4v2.8M340.4 378.5h2.8M341.8 377.1v2.8M358.6 360.5h2.8M360.0 359.1v2.8M356.1 362.8h2.8M357.5 361.4v2.8M380.2 339.1h2.8M381.6 337.7v2.8M328.4 390.4h2.8M329.8 389.0v2.8M390.8 328.7h2.8M392.2 327.3v2.8M322.8 395.9h2.8M324.2 394.5v2.8M389.0 329.5h2.8M390.4 328.1v2.8M366.3 353.2h2.8M367.7 351.8v2.8M381.8 337.6h2.8M383.2 336.2v2.8M336.0 383.4h2.8M337.4 382.0v2.8M349.8 369.5h2.8M351.2 368.1v2.8M332.5 385.9h2.8M333.9 384.5v2.8M335.2 383.3h2.8M336.6 381.9v2.8M348.1 371.0h2.8M349.5 369.6v2.8M328.2 390.7h2.8M329.6 389.3v2.8M387.4 332.2h2.8M388.8 330.8v2.8M321.6 396.6h2.8M323.0 395.2v2.8M321.6 397.0h2.8M323.0 395.6v2.8M382.8 336.6h2.8M384.2 335.2v2.8M360.9 358.4h2.8M362.3 357.0v2.8M366.5 352.4h2.8M367.9 351.0v2.8M363.3 356.0h2.8M364.7 354.6v2.8M351.1 367.6h2.8M352.5 366.2v2.8M352.0 366.6h2.8M353.4 365.2v2.8M320.4 398.1h2.8M321.8 396.7v2.8M336.6 382.0h2.8M338.0 380.6v2.8M377.0 342.1h2.8M378.4 340.7v2.8M332.3 386.2h2.8M333.7 384.8v2.8M354.9 364.2h2.8M356.3 362.8v2.8M351.7 367.4h2.8M353.1 366.0v2.8M325.6 392.9h2.8M327.0 391.5v2.8M322.0 397.0h2.8M323.4 395.6v2.8M367.5 352.0h2.8M368.9 350.6v2.8M378.2 341.2h2.8M379.6 339.8v2.8M358.0 361.4h2.8M359.4 360.0v2.8M347.6 371.4h2.8M349.0 370.0v2.8M391.5 328.1h2.8M392.9 326.7v2.8M394.9 324.7h2.8M396.3 323.3v2.8M374.6 344.5h2.8M376.0 343.1v2.8M393.5 325.4h2.8M394.9 324.0v2.8M356.6 363.1h2.8M358.0 361.7v2.8M331.3 387.4h2.8M332.7 386.0v2.8M378.9 340.3h2.8M380.3 338.9v2.8M345.5 373.4h2.8M346.9 372.0v2.8M376.6 342.8h2.8M378.0 341.4v2.8M340.1 379.5h2.8M341.5 378.1v2.8M381.0 338.3h2.8M382.4 336.9v2.8M389.0 330.4h2.8M390.4 329.0v2.8M334.6 384.2h2.8M336.0 382.8v2.8M343.3 376.0h2.8M344.7 374.6v2.8M321.6 397.3h2.8M323.0 395.9v2.8M390.2 329.1h2.8M391.6 327.7v2.8M370.7 348.5h2.8M372.1 347.1v2.8M378.5 340.4h2.8M379.9 339.0v2.8M327.3 391.0h2.8M328.7 389.6v2.8M346.1 372.7h2.8M347.5 371.3v2.8M385.1 333.6h2.8M386.5 332.2v2.8M385.9 333.0h2.8M387.3 331.6v2.8M327.0 392.3h2.8M328.4 390.9v2.8M348.8 370.1h2.8M350.2 368.7v2.8M379.5 339.4h2.8M380.9 338.0v2.8M363.3 356.7h2.8M364.7 355.3v2.8M346.3 372.7h2.8M347.7 371.3v2.8M332.1 386.4h2.8M333.5 385.0v2.8M375.7 343.9h2.8M377.1 342.5v2.8M338.2 380.9h2.8M339.6 379.5v2.8M367.7 351.7h2.8M369.1 350.3v2.8M369.3 349.6h2.8M370.7 348.2v2.8M342.7 376.3h2.8M344.1 374.9v2.8M330.2 388.7h2.8M331.6 387.3v2.8M365.5 353.1h2.8M366.9 351.7v2.8M387.1 332.2h2.8M388.5 330.8v2.8M328.9 390.0h2.8M330.3 388.6v2.8M320.7 398.6h2.8M322.1 397.2v2.8M318.9 399.8h2.8M320.3 398.4v2.8M346.1 373.0h2.8M347.5 371.6v2.8M335.7 382.8h2.8M337.1 381.4v2.8M334.2 384.4h2.8M335.6 383.0v2.8M366.2 352.6h2.8M367.6 351.2v2.8M390.1 329.0h2.8M391.5 327.6v2.8M337.4 381.6h2.8M338.8 380.2v2.8M367.5 351.7h2.8M368.9 350.3v2.8M385.2 333.9h2.8M386.6 332.5v2.8M338.7 379.8h2.8M340.1 378.4v2.8M319.5 399.0h2.8M320.9 397.6v2.8M345.3 373.3h2.8M346.7 371.9v2.8M367.6 350.6h2.8M369.0 349.2v2.8M374.8 344.5h2.8M376.2 343.1v2.8M337.8 381.2h2.8M339.2 379.8v2.8M359.2 359.7h2.8M360.6 358.3v2.8M349.7 369.2h2.8M351.1 367.8v2.8M378.2 341.0h2.8M379.6 339.6v2.8M319.3 398.7h2.8M320.7 397.3v2.8M329.5 389.1h2.8M330.9 387.7v2.8M333.8 384.7h2.8M335.2 383.3v2.8M367.5 351.2h2.8M368.9 349.8v2.8M380.8 338.4h2.8M382.2 337.0v2.8M341.8 377.4h2.8M343.2 376.0v2.8M322.7 396.6h2.8M324.1 395.2v2.8M373.1 345.5h2.8M374.5 344.1v2.8M319.4 399.7h2.8M320.8 398.3v2.8M354.0 364.5h2.8M355.4 363.1v2.8M375.2 343.6h2.8M376.6 342.2v2.8M326.8 392.1h2.8M328.2 390.7v2.8M336.6 382.5h2.8M338.0 381.1v2.8M375.9 343.2h2.8M377.3 341.8v2.8M371.9 347.4h2.8M373.3 346.0v2.8M338.8 379.6h2.8M340.2 378.2v2.8M360.7 357.7h2.8M362.1 356.3v2.8M358.8 360.4h2.8M360.2 359.0v2.8M338.7 379.6h2.8M340.1 378.2v2.8M335.0 383.2h2.8M336.4 381.8v2.8M386.0 333.4h2.8M387.4 332.0v2.8M336.8 382.1h2.8M338.2 380.7v2.8M375.7 343.8h2.8M377.1 342.4v2.8M343.6 375.1h2.8M345.0 373.7v2.8M385.8 333.2h2.8M387.2 331.8v2.8M388.0 331.3h2.8M389.4 329.9v2.8M366.7 352.1h2.8M368.1 350.7v2.8M393.1 325.5h2.8M394.5 324.1v2.8M354.7 364.5h2.8M356.1 363.1v2.8M383.9 334.7h2.8M385.3 333.3v2.8M352.1 366.8h2.8M353.5 365.4v2.8M342.0 376.4h2.8M343.4 375.0v2.8M334.9 383.9h2.8M336.3 382.5v2.8M388.1 330.9h2.8M389.5 329.5v2.8M329.9 389.1h2.8M331.3 387.7v2.8M389.6 329.5h2.8M391.0 328.1v2.8M345.1 373.9h2.8M346.5 372.5v2.8M322.0 396.9h2.8M323.4 395.5v2.8M371.4 347.3h2.8M372.8 345.9v2.8M374.7 343.9h2.8M376.1 342.5v2.8M323.7 394.9h2.8M325.1 393.5v2.8M381.0 337.9h2.8M382.4 336.5v2.8M381.3 337.9h2.8M382.7 336.5v2.8M384.9 334.1h2.8M386.3 332.7v2.8M388.5 330.7h2.8M389.9 329.3v2.8M334.4 384.4h2.8M335.8 383.0v2.8M327.7 391.9h2.8M329.1 390.5v2.8M380.7 338.5h2.8M382.1 337.1v2.8M367.2 352.0h2.8M368.6 350.6v2.8M340.5 378.0h2.8M341.9 376.6v2.8M326.6 392.7h2.8M328.0 391.3v2.8M334.6 384.6h2.8M336.0 383.2v2.8M343.1 375.8h2.8M344.5 374.4v2.8M338.4 380.6h2.8M339.8 379.2v2.8M340.3 378.5h2.8M341.7 377.1v2.8M343.1 375.5h2.8M344.5 374.1v2.8M391.9 326.5h2.8M393.3 325.1v2.8M365.9 353.1h2.8M367.3 351.7v2.8M321.0 397.5h2.8M322.4 396.1v2.8M377.8 341.5h2.8M379.2 340.1v2.8M345.1 373.6h2.8M346.5 372.2v2.8M335.1 383.4h2.8M336.5 382.0v2.8M384.7 334.9h2.8M386.1 333.5v2.8M331.9 387.3h2.8M333.3 385.9v2.8M319.0 400.0h2.8M320.4 398.6v2.8M393.6 326.1h2.8M395.0 324.7v2.8M318.9 399.5h2.8M320.3 398.1v2.8M379.5 339.6h2.8M380.9 338.2v2.8M332.7 385.8h2.8M334.1 384.4v2.8M382.2 336.9h2.8M383.6 335.5v2.8M338.8 380.4h2.8M340.2 379.0v2.8M335.1 383.7h2.8M336.5 382.3v2.8M372.0 346.9h2.8M373.4 345.5v2.8M367.3 351.7h2.8M368.7 350.3v2.8M325.0 393.9h2.8M326.4 392.5v2.8M378.5 340.0h2.8M379.9 338.6v2.8M366.5 352.3h2.8M367.9 350.9v2.8M349.0 370.2h2.8M350.4 368.8v2.8M386.9 332.8h2.8M388.3 331.4v2.8M320.9 398.3h2.8M322.3 396.9v2.8M334.5 384.3h2.8M335.9 382.9v2.8M357.3 362.4h2.8M358.7 361.0v2.8M347.8 371.3h2.8M349.2 369.9v2.8M353.8 365.0h2.8M355.2 363.6v2.8M359.3 359.7h2.8M360.7 358.3v2.8M367.7 350.7h2.8M369.1 349.3v2.8M345.3 373.5h2.8M346.7 372.1v2.8M383.1 336.1h2.8M384.5 334.7v2.8M369.2 349.8h2.8M370.6 348.4v2.8M352.1 366.6h2.8M353.5 365.2v2.8M377.6 341.2h2.8M379.0 339.8v2.8M353.9 364.9h2.8M355.3 363.5v2.8M386.2 332.9h2.8M387.6 331.5v2.8M341.9 377.3h2.8M343.3 375.9v2.8M372.4 346.7h2.8M373.8 345.3v2.8M330.6 388.1h2.8M332.0 386.7v2.8M337.6 381.1h2.8M339.0 379.7v2.8M331.2 388.0h2.8M332.6 386.6v2.8M344.0 375.3h2.8M345.4 373.9v2.8M374.7 345.2h2.8M376.1 343.8v2.8M326.6 392.4h2.8M328.0 391.0v2.8M348.0 370.8h2.8M349.4 369.4v2.8M393.8 325.4h2.8M395.2 324.0v2.8M351.6 366.7h2.8M353.0 365.3v2.8M333.7 385.1h2.8M335.1 383.7v2.8M334.5 384.3h2.8M335.9 382.9v2.8M348.5 370.7h2.8M349.9 369.3v2.8M379.1 340.0h2.8M380.5 338.6v2.8M371.4 347.1h2.8M372.8 345.7v2.8M354.1 364.9h2.8M355.5 363.5v2.8M329.5 389.1h2.8M330.9 387.7v2.8M375.1 343.7h2.8M376.5 342.3v2.8M387.7 330.9h2.8M389.1 329.5v2.8M376.0 343.3h2.8M377.4 341.9v2.8M350.9 368.1h2.8M352.3 366.7v2.8M386.1 333.5h2.8M387.5 332.1v2.8M377.6 341.2h2.8M379.0 339.8v2.8M370.2 348.1h2.8M371.6 346.7v2.8M367.5 351.2h2.8M368.9 349.8v2.8M366.7 352.4h2.8M368.1 351.0v2.8M326.0 392.3h2.8M327.4 390.9v2.8M373.3 346.1h2.8M374.7 344.7v2.8M366.8 352.2h2.8M368.2 350.8v2.8M353.7 365.7h2.8M355.1 364.3v2.8M365.9 352.6h2.8M367.3 351.2v2.8M389.8 329.6h2.8M391.2 328.2v2.8M332.6 385.9h2.8M334.0 384.5v2.8M348.1 370.3h2.8M349.5 368.9v2.8M356.2 362.9h2.8M357.6 361.5v2.8M360.2 358.8h2.8M361.6 357.4v2.8M331.1 387.9h2.8M332.5 386.5v2.8M357.9 360.2h2.8M359.3 358.8v2.8M326.3 392.1h2.8M327.7 390.7v2.8M373.3 345.5h2.8M374.7 344.1v2.8M357.6 360.9h2.8M359.0 359.5v2.8M358.3 360.2h2.8M359.7 358.8v2.8M350.2 369.0h2.8M351.6 367.6v2.8M370.9 348.0h2.8M372.3 346.6v2.8M348.7 370.2h2.8M350.1 368.8v2.8M393.7 325.2h2.8M395.1 323.8v2.8M346.0 373.2h2.8M347.4 371.8v2.8M349.3 369.7h2.8M350.7 368.3v2.8M319.6 398.8h2.8M321.0 397.4v2.8M372.1 347.1h2.8M373.5 345.7v2.8M345.6 373.3h2.8M347.0 371.9v2.8M375.4 343.9h2.8M376.8 342.5v2.8M390.3 328.6h2.8M391.7 327.2v2.8M379.8 339.2h2.8M381.2 337.8v2.8M348.7 370.3h2.8M350.1 368.9v2.8M378.0 341.2h2.8M379.4 339.8v2.8M380.3 338.5h2.8M381.7 337.1v2.8M361.5 357.2h2.8M362.9 355.8v2.8M336.2 383.0h2.8M337.6 381.6v2.8M367.4 351.5h2.8M368.8 350.1v2.8M381.2 338.0h2.8M382.6 336.6v2.8M341.0 377.5h2.8M342.4 376.1v2.8M360.8 358.7h2.8M362.2 357.3v2.8M346.1 373.3h2.8M347.5 371.9v2.8M383.6 335.5h2.8M385.0 334.1v2.8M338.3 380.9h2.8M339.7 379.5v2.8M351.3 367.7h2.8M352.7 366.3v2.8M373.8 345.3h2.8M375.2 343.9v2.8M340.2 378.7h2.8M341.6 377.3v2.8M355.5 363.8h2.8M356.9 362.4v2.8M351.3 367.3h2.8M352.7 365.9v2.8M346.2 372.3h2.8M347.6 370.9v2.8M389.6 329.6h2.8M391.0 328.2v2.8M381.8 337.1h2.8M383.2 335.7v2.8M387.8 331.3h2.8M389.2 329.9v2.8M382.0 336.8h2.8M383.4 335.4v2.8M367.0 352.0h2.8M368.4 350.6v2.8M391.3 327.8h2.8M392.7 326.4v2.8M368.8 350.2h2.8M370.2 348.8v2.8M329.7 389.3h2.8M331.1 387.9v2.8M336.6 382.3h2.8M338.0 380.9v2.8M330.3 388.3h2.8M331.7 386.9v2.8M387.7 331.4h2.8M389.1 330.0v2.8M386.6 332.3h2.8M388.0 330.9v2.8M365.2 353.9h2.8M366.6 352.5v2.8M386.6 331.9h2.8M388.0 330.5v2.8M378.9 340.3h2.8M380.3 338.9v2.8M371.5 347.3h2.8M372.9 345.9v2.8M359.2 359.7h2.8M360.6 358.3v2.8M385.8 332.9h2.8M387.2 331.5v2.8M361.1 357.9h2.8M362.5 356.5v2.8M329.5 389.6h2.8M330.9 388.2v2.8M356.5 362.8h2.8M357.9 361.4v2.8M329.9 389.1h2.8M331.3 387.7v2.8M356.0 362.5h2.8M357.4 361.1v2.8M384.5 334.5h2.8M385.9 333.1v2.8M319.4 399.6h2.8M320.8 398.2v2.8M361.5 357.2h2.8M362.9 355.8v2.8M369.6 349.6h2.8M371.0 348.2v2.8M350.6 368.1h2.8M352.0 366.7v2.8M392.2 327.4h2.8M393.6 326.0v2.8M367.4 351.9h2.8M368.8 350.5v2.8M320.8 397.6h2.8M322.2 396.2v2.8M389.6 329.2h2.8M391.0 327.8v2.8M344.2 375.1h2.8M345.6 373.7v2.8M355.7 363.2h2.8M357.1 361.8v2.8M387.4 332.2h2.8M388.8 330.8v2.8M366.5 352.6h2.8M367.9 351.2v2.8M344.7 374.4h2.8M346.1 373.0v2.8M354.8 363.9h2.8M356.2 362.5v2.8M358.8 360.2h2.8M360.2 358.8v2.8M351.8 366.9h2.8M353.2 365.5v2.8M350.7 367.7h2.8M352.1 366.3v2.8M341.0 377.7h2.8M342.4 376.3v2.8M381.7 337.0h2.8M383.1 335.6v2.8M339.6 379.5h2.8M341.0 378.1v2.8M357.6 361.8h2.8M359.0 360.4v2.8M379.1 339.9h2.8M380.5 338.5v2.8M343.9 374.8h2.8M345.3 373.4v2.8M363.6 355.7h2.8M365.0 354.3v2.8M367.2 351.9h2.8M368.6 350.5v2.8M373.8 345.1h2.8M375.2 343.7v2.8M386.2 332.8h2.8M387.6 331.4v2.8M341.7 377.2h2.8M343.1 375.8v2.8M319.4 399.7h2.8M320.8 398.3v2.8M365.5 354.2h2.8M366.9 352.8v2.8M369.0 350.2h2.8M370.4 348.8v2.8M365.0 353.2h2.8M366.4 351.8v2.8M365.6 353.0h2.8M367.0 351.6v2.8M364.0 354.6h2.8M365.4 353.2v2.8M370.7 348.4h2.8M372.1 347.0v2.8M353.9 365.5h2.8M355.3 364.1v2.8M377.0 342.2h2.8M378.4 340.8v2.8M321.7 397.3h2.8M323.1 395.9v2.8M378.0 341.5h2.8M379.4 340.1v2.8M346.8 371.9h2.8M348.2 370.5v2.8M381.5 337.7h2.8M382.9 336.3v2.8M338.2 380.2h2.8M339.6 378.8v2.8M341.7 377.0h2.8M343.1 375.6v2.8M351.7 367.4h2.8M353.1 366.0v2.8M367.7 351.4h2.8M369.1 350.0v2.8M362.0 356.9h2.8M363.4 355.5v2.8M322.0 397.3h2.8M323.4 395.9v2.8M362.8 356.6h2.8M364.2 355.2v2.8M388.7 330.3h2.8M390.1 328.9v2.8M348.3 370.6h2.8M349.7 369.2v2.8M364.3 355.6h2.8M365.7 354.2v2.8M354.8 363.7h2.8M356.2 362.3v2.8M350.4 368.9h2.8M351.8 367.5v2.8M335.1 384.1h2.8M336.5 382.7v2.8M330.4 388.5h2.8M331.8 387.1v2.8M370.9 348.1h2.8M372.3 346.7v2.8M328.1 390.9h2.8M329.5 389.5v2.8M385.0 334.0h2.8M386.4 332.6v2.8M328.9 390.5h2.8M330.3 389.1v2.8M337.3 381.7h2.8M338.7 380.3v2.8M374.7 344.4h2.8M376.1 343.0v2.8M377.8 341.3h2.8M379.2 339.9v2.8M373.3 346.0h2.8M374.7 344.6v2.8M325.0 393.4h2.8M326.4 392.0v2.8M366.6 352.3h2.8M368.0 350.9v2.8M389.6 329.1h2.8M391.0 327.7v2.8M338.4 381.0h2.8M339.8 379.6v2.8M319.6 399.1h2.8M321.0 397.7v2.8M319.7 398.7h2.8M321.1 397.3v2.8M324.6 393.7h2.8M326.0 392.3v2.8M342.5 376.4h2.8M343.9 375.0v2.8M384.3 334.6h2.8M385.7 333.2v2.8M356.0 363.3h2.8M357.4 361.9v2.8M362.7 356.5h2.8M364.1 355.1v2.8M352.2 366.7h2.8M353.6 365.3v2.8M379.4 339.4h2.8M380.8 338.0v2.8M346.3 372.3h2.8M347.7 370.9v2.8M350.4 368.1h2.8M351.8 366.7v2.8M348.3 370.8h2.8M349.7 369.4v2.8M378.1 340.1h2.8M379.5 338.7v2.8M362.0 357.0h2.8M363.4 355.6v2.8M393.0 326.2h2.8M394.4 324.8v2.8M372.4 346.7h2.8M373.8 345.3v2.8M364.8 353.9h2.8M366.2 352.5v2.8M393.4 326.0h2.8M394.8 324.6v2.8M342.1 376.4h2.8M343.5 375.0v2.8M351.6 367.6h2.8M353.0 366.2v2.8M370.8 347.9h2.8M372.2 346.5v2.8M364.9 354.6h2.8M366.3 353.2v2.8M340.2 378.3h2.8M341.6 376.9v2.8M318.9 399.9h2.8M320.3 398.5v2.8M363.7 355.7h2.8M365.1 354.3v2.8M381.0 338.1h2.8M382.4 336.7v2.8M382.2 336.8h2.8M383.6 335.4v2.8M380.8 338.6h2.8M382.2 337.2v2.8M339.5 379.1h2.8M340.9 377.7v2.8M383.7 335.5h2.8M385.1 334.1v2.8M388.1 330.4h2.8M389.5 329.0v2.8M345.4 373.9h2.8M346.8 372.5v2.8M379.6 339.6h2.8M381.0 338.2v2.8M334.1 384.8h2.8M335.5 383.4v2.8M336.2 381.8h2.8M337.6 380.4v2.8M364.9 353.9h2.8M366.3 352.5v2.8M334.4 384.2h2.8M335.8 382.8v2.8M338.2 380.7h2.8M339.6 379.3v2.8M353.5 364.8h2.8M354.9 363.4v2.8M325.6 393.5h2.8M327.0 392.1v2.8M336.2 382.1h2.8M337.6 380.7v2.8M363.2 356.3h2.8M364.6 354.9v2.8M358.3 360.2h2.8M359.7 358.8v2.8M355.0 363.8h2.8M356.4 362.4v2.8M333.4 385.4h2.8M334.8 384.0v2.8M332.5 386.3h2.8M333.9 384.9v2.8M361.6 357.0h2.8M363.0 355.6v2.8M349.4 369.4h2.8M350.8 368.0v2.8M322.2 396.6h2.8M323.6 395.2v2.8M394.7 324.3h2.8M396.1 322.9v2.8M367.0 352.1h2.8M368.4 350.7v2.8M378.9 340.4h2.8M380.3 339.0v2.8M345.3 374.0h2.8M346.7 372.6v2.8M358.4 360.6h2.8M359.8 359.2v2.8M394.2 324.9h2.8M395.6 323.5v2.8M384.5 334.1h2.8M385.9 332.7v2.8M338.7 380.2h2.8M340.1 378.8v2.8M377.8 340.5h2.8M379.2 339.1v2.8M377.4 342.0h2.8M378.8 340.6v2.8M381.3 338.0h2.8M382.7 336.6v2.8M321.6 397.1h2.8M323.0 395.7v2.8M334.1 384.8h2.8M335.5 383.4v2.8M322.7 396.2h2.8M324.1 394.8v2.8M361.4 357.9h2.8M362.8 356.5v2.8M390.8 328.0h2.8M392.2 326.6v2.8M388.3 331.2h2.8M389.7 329.8v2.8M349.2 370.0h2.8M350.6 368.6v2.8M328.1 391.0h2.8M329.5 389.6v2.8M361.8 357.1h2.8M363.2 355.7v2.8M367.8 351.7h2.8M369.2 350.3v2.8M348.7 370.1h2.8M350.1 368.7v2.8M353.2 366.2h2.8M354.6 364.8v2.8M394.7 325.2h2.8M396.1 323.8v2.8M335.8 383.3h2.8M337.2 381.9v2.8M345.6 373.3h2.8M347.0 371.9v2.8M387.8 331.8h2.8M389.2 330.4v2.8M322.2 396.3h2.8M323.6 394.9v2.8M378.6 340.3h2.8M380.0 338.9v2.8M393.6 325.0h2.8M395.0 323.6v2.8M323.2 396.0h2.8M324.6 394.6v2.8M390.6 329.0h2.8M392.0 327.6v2.8M370.3 348.6h2.8M371.7 347.2v2.8M376.7 342.7h2.8M378.1 341.3v2.8M326.8 392.0h2.8M328.2 390.6v2.8M328.4 390.7h2.8M329.8 389.3v2.8M355.5 363.6h2.8M356.9 362.2v2.8M329.8 389.3h2.8M331.2 387.9v2.8M370.7 348.9h2.8M372.1 347.5v2.8M333.7 385.2h2.8M335.1 383.8v2.8M321.6 397.4h2.8M323.0 396.0v2.8M389.9 329.1h2.8M391.3 327.7v2.8M384.9 334.3h2.8M386.3 332.9v2.8M352.8 366.0h2.8M354.2 364.6v2.8M326.5 393.0h2.8M327.9 391.6v2.8M366.5 352.2h2.8M367.9 350.8v2.8M353.1 365.5h2.8M354.5 364.1v2.8M355.4 364.1h2.8M356.8 362.7v2.8M366.7 352.4h2.8M368.1 351.0v2.8M323.2 395.8h2.8M324.6 394.4v2.8M373.1 345.8h2.8M374.5 344.4v2.8M385.1 333.9h2.8M386.5 332.5v2.8M339.0 379.7h2.8M340.4 378.3v2.8M339.5 379.5h2.8M340.9 378.1v2.8M382.7 336.3h2.8M384.1 334.9v2.8M356.3 362.9h2.8M357.7 361.5v2.8M343.1 376.0h2.8M344.5 374.6v2.8M393.3 325.7h2.8M394.7 324.3v2.8M323.3 395.9h2.8M324.7 394.5v2.8M334.7 383.8h2.8M336.1 382.4v2.8M355.1 363.8h2.8M356.5 362.4v2.8M334.3 384.8h2.8M335.7 383.4v2.8M347.2 373.0h2.8M348.6 371.6v2.8M389.2 329.8h2.8M390.6 328.4v2.8M326.1 392.5h2.8M327.5 391.1v2.8M323.5 396.0h2.8M324.9 394.6v2.8M374.0 344.8h2.8M375.4 343.4v2.8M320.5 399.3h2.8M321.9 397.9v2.8M380.2 338.7h2.8M381.6 337.3v2.8M319.0 399.9h2.8M320.4 398.5v2.8M382.1 336.8h2.8M383.5 335.4v2.8M351.9 367.0h2.8M353.3 365.6v2.8M388.3 330.9h2.8M389.7 329.5v2.8M329.5 389.8h2.8M330.9 388.4v2.8M332.5 386.4h2.8M333.9 385.0v2.8M333.5 384.8h2.8M334.9 383.4v2.8M325.0 394.2h2.8M326.4 392.8v2.8M356.7 362.5h2.8M358.1 361.1v2.8M339.7 379.3h2.8M341.1 377.9v2.8M372.9 346.5h2.8M374.3 345.1v2.8M380.5 338.3h2.8M381.9 336.9v2.8M323.7 395.0h2.8M325.1 393.6v2.8M374.4 344.2h2.8M375.8 342.8v2.8M323.2 396.0h2.8M324.6 394.6v2.8M380.4 338.3h2.8M381.8 336.9v2.8M384.9 334.7h2.8M386.3 333.3v2.8M356.7 363.0h2.8M358.1 361.6v2.8M355.1 363.9h2.8M356.5 362.5v2.8M385.2 333.8h2.8M386.6 332.4v2.8M382.3 337.0h2.8M383.7 335.6v2.8M346.8 372.2h2.8M348.2 370.8v2.8M364.3 355.0h2.8M365.7 353.6v2.8M319.0 399.5h2.8M320.4 398.1v2.8M358.0 360.9h2.8M359.4 359.5v2.8M327.9 390.8h2.8M329.3 389.4v2.8M384.4 334.0h2.8M385.8 332.6v2.8M343.2 375.6h2.8M344.6 374.2v2.8M375.9 342.8h2.8M377.3 341.4v2.8M323.8 395.7h2.8M325.2 394.3v2.8M356.2 362.2h2.8M357.6 360.8v2.8M357.7 360.9h2.8M359.1 359.5v2.8M320.3 398.4h2.8M321.7 397.0v2.8M392.5 326.6h2.8M393.9 325.2v2.8M326.7 392.3h2.8M328.1 390.9v2.8M337.9 381.0h2.8M339.3 379.6v2.8M326.1 392.7h2.8M327.5 391.3v2.8M372.0 347.0h2.8M373.4 345.6v2.8M364.5 354.6h2.8M365.9 353.2v2.8M362.4 356.0h2.8M363.8 354.6v2.8M326.6 392.2h2.8M328.0 390.8v2.8M385.0 334.0h2.8M386.4 332.6v2.8M328.1 390.6h2.8M329.5 389.2v2.8M356.2 362.4h2.8M357.6 361.0v2.8M328.1 390.8h2.8M329.5 389.4v2.8M349.8 369.4h2.8M351.2 368.0v2.8M384.6 334.9h2.8M386.0 333.5v2.8M329.7 388.6h2.8M331.1 387.2v2.8M331.2 387.4h2.8M332.6 386.0v2.8M381.9 337.5h2.8M383.3 336.1v2.8M350.8 368.0h2.8M352.2 366.6v2.8M382.6 336.1h2.8M384.0 334.7v2.8M390.5 328.6h2.8M391.9 327.2v2.8M377.9 341.0h2.8M379.3 339.6v2.8M344.4 374.7h2.8M345.8 373.3v2.8M352.3 367.3h2.8M353.7 365.9v2.8M388.3 330.7h2.8M389.7 329.3v2.8M380.9 338.2h2.8M382.3 336.8v2.8M358.2 360.7h2.8M359.6 359.3v2.8M391.9 327.5h2.8M393.3 326.1v2.8M350.9 367.9h2.8M352.3 366.5v2.8M366.8 351.9h2.8M368.2 350.5v2.8M324.2 394.9h2.8M325.6 393.5v2.8M351.7 367.1h2.8M353.1 365.7v2.8M329.4 389.4h2.8M330.8 388.0v2.8M392.7 326.5h2.8M394.1 325.1v2.8M366.6 351.6h2.8M368.0 350.2v2.8M380.7 338.9h2.8M382.1 337.5v2.8M321.2 397.2h2.8M322.6 395.8v2.8M367.6 351.3h2.8M369.0 349.9v2.8M339.9 379.5h2.8M341.3 378.1v2.8M360.3 359.1h2.8M361.7 357.7v2.8M337.8 380.9h2.8M339.2 379.5v2.8M358.0 360.1h2.8M359.4 358.7v2.8M340.9 378.4h2.8M342.3 377.0v2.8M342.0 376.8h2.8M343.4 375.4v2.8M364.0 354.9h2.8M365.4 353.5v2.8M391.5 327.3h2.8M392.9 325.9v2.8M354.3 364.6h2.8M355.7 363.2v2.8M359.5 359.6h2.8M360.9 358.2v2.8M328.9 390.1h2.8M330.3 388.7v2.8M341.0 377.6h2.8M342.4 376.2v2.8M337.4 381.6h2.8M338.8 380.2v2.8M325.2 393.0h2.8M326.6 391.6v2.8M365.2 353.6h2.8M366.6 352.2v2.8M362.2 356.7h2.8M363.6 355.3v2.8M372.8 346.0h2.8M374.2 344.6v2.8M353.7 364.8h2.8M355.1 363.4v2.8M354.4 364.4h2.8M355.8 363.0v2.8M342.5 376.5h2.8M343.9 375.1v2.8M358.0 361.3h2.8M359.4 359.9v2.8M348.0 370.9h2.8M349.4 369.5v2.8M345.6 373.2h2.8M347.0 371.8v2.8M384.5 334.6h2.8M385.9 333.2v2.8M356.4 363.0h2.8M357.8 361.6v2.8M340.6 378.6h2.8M342.0 377.2v2.8M377.6 341.4h2.8M379.0 340.0v2.8M331.2 388.3h2.8M332.6 386.9v2.8M352.5 366.8h2.8M353.9 365.4v2.8M323.4 395.2h2.8M324.8 393.8v2.8M374.9 344.3h2.8M376.3 342.9v2.8M327.2 391.8h2.8M328.6 390.4v2.8M375.5 344.4h2.8M376.9 343.0v2.8M330.5 388.2h2.8M331.9 386.8v2.8M370.4 348.9h2.8M371.8 347.5v2.8M365.9 353.4h2.8M367.3 352.0v2.8M358.0 360.5h2.8M359.4 359.1v2.8M375.1 343.9h2.8M376.5 342.5v2.8M354.7 363.7h2.8M356.1 362.3v2.8M378.5 340.4h2.8M379.9 339.0v2.8M328.1 390.0h2.8M329.5 388.6v2.8M385.4 334.2h2.8M386.8 332.8v2.8M363.4 355.6h2.8M364.8 354.2v2.8M356.9 362.5h2.8M358.3 361.1v2.8M350.6 368.3h2.8M352.0 366.9v2.8M378.7 340.7h2.8M380.1 339.3v2.8M347.5 371.0h2.8M348.9 369.6v2.8M353.0 365.4h2.8M354.4 364.0v2.8M341.2 377.9h2.8M342.6 376.5v2.8M348.4 370.2h2.8M349.8 368.8v2.8M343.3 375.5h2.8M344.7 374.1v2.8M378.9 340.4h2.8M380.3 339.0v2.8M352.4 366.2h2.8M353.8 364.8v2.8M332.8 386.0h2.8M334.2 384.6v2.8M362.7 356.4h2.8M364.1 355.0v2.8M363.4 356.2h2.8M364.8 354.8v2.8M343.7 375.6h2.8M345.1 374.2v2.8M383.3 336.3h2.8M384.7 334.9v2.8M334.0 384.1h2.8M335.4 382.7v2.8M351.3 367.7h2.8M352.7 366.3v2.8M322.4 396.4h2.8M323.8 395.0v2.8M361.4 356.8h2.8M362.8 355.4v2.8M377.7 341.3h2.8M379.1 339.9v2.8M360.0 359.4h2.8M361.4 358.0v2.8M358.2 360.8h2.8M359.6 359.4v2.8M370.9 347.9h2.8M372.3 346.5v2.8M364.2 355.0h2.8M365.6 353.6v2.8M345.8 373.6h2.8M347.2 372.2v2.8M358.7 360.1h2.8M360.1 358.7v2.8M326.2 392.4h2.8M327.6 391.0v2.8M361.7 357.5h2.8M363.1 356.1v2.8M362.9 356.8h2.8M364.3 355.4v2.8M355.6 362.8h2.8M357.0 361.4v2.8M351.9 366.2h2.8M353.3 364.8v2.8M344.5 373.6h2.8M345.9 372.2v2.8M359.2 359.8h2.8M360.6 358.4v2.8M342.9 375.8h2.8M344.3 374.4v2.8M393.4 325.9h2.8M394.8 324.5v2.8M327.0 391.4h2.8M328.4 390.0v2.8M386.8 332.0h2.8M388.2 330.6v2.8M393.9 324.6h2.8M395.3 323.2v2.8M386.4 332.5h2.8M387.8 331.1v2.8M340.9 378.1h2.8M342.3 376.7v2.8M357.6 361.1h2.8M359.0 359.7v2.8M332.7 386.2h2.8M334.1 384.8v2.8M366.7 352.1h2.8M368.1 350.7v2.8M394.4 324.5h2.8M395.8 323.1v2.8M367.5 351.9h2.8M368.9 350.5v2.8M378.8 340.3h2.8M380.2 338.9v2.8M342.2 376.7h2.8M343.6 375.3v2.8M342.0 376.9h2.8M343.4 375.5v2.8M382.7 335.9h2.8M384.1 334.5v2.8M333.6 385.0h2.8M335.0 383.6v2.8M356.6 362.1h2.8M358.0 360.7v2.8M368.0 350.9h2.8M369.4 349.5v2.8M359.5 359.9h2.8M360.9 358.5v2.8M350.1 368.8h2.8M351.5 367.4v2.8M328.2 391.0h2.8M329.6 389.6v2.8M327.2 392.2h2.8M328.6 390.8v2.8M326.5 392.5h2.8M327.9 391.1v2.8M381.7 337.7h2.8M383.1 336.3v2.8M365.5 353.5h2.8M366.9 352.1v2.8M319.7 399.0h2.8M321.1 397.6v2.8M377.4 341.4h2.8M378.8 340.0v2.8M346.0 373.4h2.8M347.4 372.0v2.8M331.7 387.2h2.8M333.1 385.8v2.8M387.7 331.5h2.8M389.1 330.1v2.8M363.0 355.7h2.8M364.4 354.3v2.8M348.3 370.9h2.8M349.7 369.5v2.8M323.1 396.0h2.8M324.5 394.6v2.8M391.7 327.1h2.8M393.1 325.7v2.8M352.2 366.6h2.8M353.6 365.2v2.8M322.1 396.6h2.8M323.5 395.2v2.8M389.8 329.5h2.8M391.2 328.1v2.8M387.1 331.7h2.8M388.5 330.3v2.8M380.9 338.0h2.8M382.3 336.6v2.8M392.1 327.4h2.8M393.5 326.0v2.8M356.7 362.5h2.8M358.1 361.1v2.8M348.4 370.4h2.8M349.8 369.0v2.8M373.5 345.5h2.8M374.9 344.1v2.8M385.6 333.8h2.8M387.0 332.4v2.8M355.7 363.3h2.8M357.1 361.9v2.8M331.9 386.7h2.8M333.3 385.3v2.8M346.3 373.0h2.8M347.7 371.6v2.8M341.4 378.4h2.8M342.8 377.0v2.8M361.7 357.6h2.8M363.1 356.2v2.8M348.3 370.9h2.8M349.7 369.5v2.8M349.6 369.5h2.8M351.0 368.1v2.8M381.7 337.4h2.8M383.1 336.0v2.8M345.6 373.4h2.8M347.0 372.0v2.8M340.5 378.6h2.8M341.9 377.2v2.8M337.1 382.3h2.8M338.5 380.9v2.8M344.9 374.2h2.8M346.3 372.8v2.8M330.6 388.2h2.8M332.0 386.8v2.8M339.3 379.5h2.8M340.7 378.1v2.8M382.5 336.8h2.8M383.9 335.4v2.8M382.6 336.7h2.8M384.0 335.3v2.8M380.2 339.0h2.8M381.6 337.6v2.8M374.0 345.3h2.8M375.4 343.9v2.8M347.6 371.5h2.8M349.0 370.1v2.8M391.2 327.8h2.8M392.6 326.4v2.8M357.3 361.7h2.8M358.7 360.3v2.8M329.0 390.3h2.8M330.4 388.9v2.8M372.6 346.4h2.8M374.0 345.0v2.8M363.9 355.8h2.8M365.3 354.4v2.8M346.8 372.1h2.8M348.2 370.7v2.8M335.2 384.1h2.8M336.6 382.7v2.8M385.4 334.0h2.8M386.8 332.6v2.8M360.3 359.0h2.8M361.7 357.6v2.8M339.4 379.5h2.8M340.8 378.1v2.8M368.7 350.0h2.8M370.1 348.6v2.8M362.0 356.9h2.8M363.4 355.5v2.8M325.5 393.6h2.8M326.9 392.2v2.8M332.4 386.7h2.8M333.8 385.3v2.8M369.1 349.6h2.8M370.5 348.2v2.8M326.9 391.6h2.8M328.3 390.2v2.8M356.8 362.0h2.8M358.2 360.6v2.8M341.6 377.6h2.8M343.0 376.2v2.8M336.1 382.9h2.8M337.5 381.5v2.8M328.4 390.4h2.8M329.8 389.0v2.8M349.4 369.3h2.8M350.8 367.9v2.8M388.1 331.1h2.8M389.5 329.7v2.8M384.0 334.3h2.8M385.4 332.9v2.8M328.9 390.0h2.8M330.3 388.6v2.8M370.6 348.5h2.8M372.0 347.1v2.8M369.2 349.6h2.8M370.6 348.2v2.8M369.1 350.2h2.8M370.5 348.8v2.8M372.1 347.0h2.8M373.5 345.6v2.8M346.0 373.6h2.8M347.4 372.2v2.8M366.7 352.3h2.8M368.1 350.9v2.8M388.4 330.8h2.8M389.8 329.4v2.8M374.7 344.3h2.8M376.1 342.9v2.8M321.8 396.9h2.8M323.2 395.5v2.8M331.2 387.8h2.8M332.6 386.4v2.8M347.9 371.3h2.8M349.3 369.9v2.8M321.7 396.9h2.8M323.1 395.5v2.8M332.7 386.6h2.8M334.1 385.2v2.8M382.5 336.1h2.8M383.9 334.7v2.8M338.1 380.6h2.8M339.5 379.2v2.8M351.9 366.9h2.8M353.3 365.5v2.8M318.7 399.8h2.8M320.1 398.4v2.8M382.4 336.7h2.8M383.8 335.3v2.8M321.9 396.6h2.8M323.3 395.2v2.8M383.8 335.2h2.8M385.2 333.8v2.8M337.4 381.4h2.8M338.8 380.0v2.8M327.3 391.6h2.8M328.7 390.2v2.8M388.3 330.5h2.8M389.7 329.1v2.8M376.1 343.4h2.8M377.5 342.0v2.8M348.9 370.3h2.8M350.3 368.9v2.8M375.8 343.4h2.8M377.2 342.0v2.8M325.5 393.1h2.8M326.9 391.7v2.8M390.5 327.8h2.8M391.9 326.4v2.8M371.7 347.7h2.8M373.1 346.3v2.8M375.2 344.1h2.8M376.6 342.7v2.8M353.1 365.4h2.8M354.5 364.0v2.8M322.9 395.8h2.8M324.3 394.4v2.8M357.6 361.0h2.8M359.0 359.6v2.8M389.7 329.8h2.8M391.1 328.4v2.8M322.3 396.9h2.8M323.7 395.5v2.8M372.4 346.7h2.8M373.8 345.3v2.8M360.3 358.4h2.8M361.7 357.0v2.8M392.5 326.3h2.8M393.9 324.9v2.8M337.6 380.9h2.8M339.0 379.5v2.8M323.2 395.4h2.8M324.6 394.0v2.8M334.3 384.9h2.8M335.7 383.5v2.8M342.6 376.6h2.8M344.0 375.2v2.8M370.1 349.4h2.8M371.5 348.0v2.8M336.9 382.0h2.8M338.3 380.6v2.8M352.9 366.5h2.8M354.3 365.1v2.8M390.0 328.9h2.8M391.4 327.5v2.8M386.3 333.0h2.8M387.7 331.6v2.8M329.5 389.1h2.8M330.9 387.7v2.8M380.8 338.1h2.8M382.2 336.7v2.8M360.6 358.4h2.8M362.0 357.0v2.8M369.5 349.3h2.8M370.9 347.9v2.8M364.1 354.3h2.8M365.5 352.9v2.8M382.2 337.0h2.8M383.6 335.6v2.8M327.5 391.3h2.8M328.9 389.9v2.8M334.7 384.5h2.8M336.1 383.1v2.8M323.4 395.4h2.8M324.8 394.0v2.8M372.4 346.9h2.8M373.8 345.5v2.8M353.0 366.1h2.8M354.4 364.7v2.8M354.6 364.6h2.8M356.0 363.2v2.8M346.5 372.5h2.8M347.9 371.1v2.8M319.7 399.3h2.8M321.1 397.9v2.8M394.4 324.7h2.8M395.8 323.3v2.8M373.3 345.5h2.8M374.7 344.1v2.8M393.4 325.6h2.8M394.8 324.2v2.8M356.0 362.9h2.8M357.4 361.5v2.8M352.0 367.1h2.8M353.4 365.7v2.8M319.6 399.6h2.8M321.0 398.2v2.8M388.7 330.1h2.8M390.1 328.7v2.8M389.8 328.9h2.8M391.2 327.5v2.8M368.5 350.5h2.8M369.9 349.1v2.8M329.5 389.6h2.8M330.9 388.2v2.8M321.0 398.0h2.8M322.4 396.6v2.8M341.0 377.2h2.8M342.4 375.8v2.8M332.7 385.7h2.8M334.1 384.3v2.8M389.1 329.4h2.8M390.5 328.0v2.8M331.7 387.3h2.8M333.1 385.9v2.8M375.0 343.4h2.8M376.4 342.0v2.8M343.8 375.4h2.8M345.2 374.0v2.8M343.5 376.0h2.8M344.9 374.6v2.8M346.7 371.9h2.8M348.1 370.5v2.8M382.1 336.9h2.8M383.5 335.5v2.8M337.2 382.1h2.8M338.6 380.7v2.8M366.7 352.4h2.8M368.1 351.0v2.8M381.1 337.7h2.8M382.5 336.3v2.8M390.4 327.9h2.8M391.8 326.5v2.8M314.7 403.9h2.8M316.1 402.5v2.8M314.1 404.6h2.8M315.5 403.2v2.8M315.3 404.0h2.8M316.7 402.6v2.8M313.9 405.2h2.8M315.3 403.8v2.8M314.7 404.3h2.8M316.1 402.9v2.8M313.3 405.4h2.8M314.7 404.0v2.8M398.2 321.1h2.8M399.6 319.7v2.8M397.0 322.6h2.8M398.4 321.2v2.8M399.6 319.9h2.8M401.0 318.5v2.8M397.8 320.8h2.8M399.2 319.4v2.8M397.5 321.4h2.8M398.9 320.0v2.8M397.9 320.9h2.8M399.3 319.5v2.8M397.6 321.1h2.8M399.0 319.7v2.8M399.4 319.9h2.8M400.8 318.5v2.8M405.2 314.1h2.8M406.6 312.7v2.8M404.6 314.8h2.8M406.0 313.4v2.8M404.6 314.4h2.8M406.0 313.0v2.8M404.1 315.2h2.8M405.5 313.8v2.8M403.9 314.4h2.8M405.3 313.0v2.8M271.1 449.7h2.8M272.5 448.3v2.8M291.9 429.6h2.8M293.3 428.2v2.8M299.1 418.1h2.8M300.5 416.7v2.8M303.7 415.8h2.8M305.1 414.4v2.8M304.4 413.9h2.8M305.8 412.5v2.8M308.3 409.9h2.8M309.7 408.5v2.8M312.9 405.3h2.8M314.3 403.9v2.8M315.5 402.0h2.8M316.9 400.6v2.8M399.0 320.0h2.8M400.4 318.6v2.8M404.9 314.1h2.8M406.3 312.7v2.8M414.7 304.2h2.8M416.1 302.8v2.8M417.6 300.3h2.8M419.0 298.9v2.8M434.8 283.2h2.8M436.2 281.8v2.8" stroke="#0c2cff" stroke-width="1.3" fill="none"/>
<path d="M585.8 362.4h2.6M587.1 361.1v2.6M582.2 366.5h2.6M583.5 365.2v2.6M559.8 388.2h2.6M561.1 386.9v2.6M577.2 371.2h2.6M578.5 369.9v2.6M559.0 389.3h2.6M560.3 388.0v2.6M530.7 417.0h2.6M532.0 415.7v2.6M547.3 400.6h2.6M548.6 399.3v2.6M562.3 385.7h2.6M563.6 384.4v2.6M583.7 364.5h2.6M585.0 363.2v2.6M506.8 441.4h2.6M508.1 440.1v2.6M544.5 403.9h2.6M545.8 402.6v2.6M511.9 436.1h2.6M513.2 434.8v2.6M556.3 391.7h2.6M557.6 390.4v2.6M541.5 406.4h2.6M542.8 405.1v2.6M539.8 408.3h2.6M541.1 407.0v2.6M514.6 433.7h2.6M515.9 432.4v2.6M553.6 394.9h2.6M554.9 393.6v2.6M514.4 433.8h2.6M515.7 432.5v2.6M512.7 435.3h2.6M514.0 434.0v2.6M551.9 396.2h2.6M553.2 394.9v2.6M554.1 394.3h2.6M555.4 393.0v2.6M524.5 423.5h2.6M525.8 422.2v2.6M550.3 397.8h2.6M551.6 396.5v2.6M557.1 391.1h2.6M558.4 389.8v2.6M510.9 437.3h2.6M512.2 436.0v2.6M543.8 404.5h2.6M545.1 403.2v2.6M568.3 379.6h2.6M569.6 378.3v2.6M572.4 376.2h2.6M573.7 374.9v2.6M569.2 379.3h2.6M570.5 378.0v2.6M513.5 434.7h2.6M514.8 433.4v2.6M519.5 428.4h2.6M520.8 427.1v2.6M590.2 357.6h2.6M591.5 356.3v2.6M516.5 431.5h2.6M517.8 430.2v2.6M574.0 374.3h2.6M575.3 373.0v2.6M537.7 410.5h2.6M539.0 409.2v2.6M505.6 442.4h2.6M506.9 441.1v2.6M531.1 416.9h2.6M532.4 415.6v2.6M567.5 380.2h2.6M568.8 378.9v2.6M560.1 388.2h2.6M561.4 386.9v2.6M582.3 365.4h2.6M583.6 364.1v2.6M582.3 365.6h2.6M583.6 364.3v2.6M519.3 428.8h2.6M520.6 427.5v2.6M572.7 375.2h2.6M574.0 373.9v2.6M565.3 382.8h2.6M566.6 381.5v2.6M537.7 410.3h2.6M539.0 409.0v2.6M570.6 377.9h2.6M571.9 376.6v2.6M508.1 439.9h2.6M509.4 438.6v2.6M558.5 389.8h2.6M559.8 388.5v2.6M576.4 371.9h2.6M577.7 370.6v2.6M514.5 433.8h2.6M515.8 432.5v2.6M527.0 420.9h2.6M528.3 419.6v2.6M521.4 426.3h2.6M522.7 425.0v2.6M556.5 391.8h2.6M557.8 390.5v2.6M514.5 433.7h2.6M515.8 432.4v2.6M576.1 372.0h2.6M577.4 370.7v2.6M520.8 427.1h2.6M522.1 425.8v2.6M565.9 382.2h2.6M567.2 380.9v2.6M538.6 409.8h2.6M539.9 408.5v2.6M552.7 395.7h2.6M554.0 394.4v2.6M566.2 382.1h2.6M567.5 380.8v2.6M505.3 442.4h2.6M506.6 441.1v2.6M535.0 413.2h2.6M536.3 411.9v2.6M582.7 365.6h2.6M584.0 364.3v2.6M576.1 372.1h2.6M577.4 370.8v2.6M577.7 370.5h2.6M579.0 369.2v2.6M565.1 382.8h2.6M566.4 381.5v2.6M518.5 429.7h2.6M519.8 428.4v2.6M579.9 367.9h2.6M581.2 366.6v2.6M559.2 389.2h2.6M560.5 387.9v2.6M511.0 437.0h2.6M512.3 435.7v2.6M584.5 363.7h2.6M585.8 362.4v2.6M557.2 391.0h2.6M558.5 389.7v2.6M536.7 411.5h2.6M538.0 410.2v2.6M546.1 401.8h2.6M547.4 400.5v2.6M535.9 412.1h2.6M537.2 410.8v2.6M504.7 443.2h2.6M506.0 441.9v2.6M506.1 441.9h2.6M507.4 440.6v2.6M545.5 402.7h2.6M546.8 401.4v2.6M517.3 430.7h2.6M518.6 429.4v2.6M564.4 383.6h2.6M565.7 382.3v2.6M549.2 399.1h2.6M550.5 397.8v2.6M527.7 420.2h2.6M529.0 418.9v2.6M590.0 357.9h2.6M591.3 356.6v2.6M593.4 355.0h2.6M594.7 353.7v2.6M573.4 374.7h2.6M574.7 373.4v2.6M582.5 365.6h2.6M583.8 364.3v2.6M561.0 386.8h2.6M562.3 385.5v2.6M536.8 411.2h2.6M538.1 409.9v2.6M582.7 365.7h2.6M584.0 364.4v2.6M588.4 359.6h2.6M589.7 358.3v2.6M572.6 375.3h2.6M573.9 374.0v2.6M570.4 377.4h2.6M571.7 376.1v2.6M535.7 412.4h2.6M537.0 411.1v2.6M553.6 394.4h2.6M554.9 393.1v2.6M534.5 413.6h2.6M535.8 412.3v2.6M533.4 415.0h2.6M534.7 413.7v2.6M537.2 410.9h2.6M538.5 409.6v2.6M526.1 422.0h2.6M527.4 420.7v2.6M516.5 431.8h2.6M517.8 430.5v2.6M505.0 443.3h2.6M506.3 442.0v2.6M544.1 403.8h2.6M545.4 402.5v2.6M555.3 392.8h2.6M556.6 391.5v2.6M510.3 437.9h2.6M511.6 436.6v2.6M531.2 416.7h2.6M532.5 415.4v2.6M553.9 394.5h2.6M555.2 393.2v2.6M588.2 359.6h2.6M589.5 358.3v2.6M556.8 391.7h2.6M558.1 390.4v2.6M511.5 436.7h2.6M512.8 435.4v2.6M593.0 355.4h2.6M594.3 354.1v2.6M536.3 411.8h2.6M537.6 410.5v2.6M582.0 365.8h2.6M583.3 364.5v2.6M510.1 437.5h2.6M511.4 436.2v2.6M529.0 419.1h2.6M530.3 417.8v2.6M527.4 420.8h2.6M528.7 419.5v2.6M528.3 419.8h2.6M529.6 418.5v2.6M567.5 380.7h2.6M568.8 379.4v2.6M522.3 426.0h2.6M523.6 424.7v2.6M558.4 389.9h2.6M559.7 388.6v2.6M521.8 426.1h2.6M523.1 424.8v2.6M570.2 378.2h2.6M571.5 376.9v2.6M511.3 436.7h2.6M512.6 435.4v2.6M576.9 371.3h2.6M578.2 370.0v2.6M516.5 431.5h2.6M517.8 430.2v2.6M520.9 426.7h2.6M522.2 425.4v2.6M561.6 386.4h2.6M562.9 385.1v2.6M587.1 361.1h2.6M588.4 359.8v2.6M571.6 376.7h2.6M572.9 375.4v2.6M562.3 385.5h2.6M563.6 384.2v2.6M534.7 413.6h2.6M536.0 412.3v2.6M509.4 438.7h2.6M510.7 437.4v2.6M560.5 387.7h2.6M561.8 386.4v2.6M534.1 413.7h2.6M535.4 412.4v2.6M527.3 420.8h2.6M528.6 419.5v2.6M546.1 402.5h2.6M547.4 401.2v2.6M554.9 393.3h2.6M556.2 392.0v2.6M593.0 355.4h2.6M594.3 354.1v2.6M569.3 378.9h2.6M570.6 377.6v2.6M533.8 414.4h2.6M535.1 413.1v2.6M517.1 431.1h2.6M518.4 429.8v2.6M573.2 375.2h2.6M574.5 373.9v2.6M542.3 406.0h2.6M543.6 404.7v2.6M552.5 395.4h2.6M553.8 394.1v2.6M563.2 384.8h2.6M564.5 383.5v2.6M558.1 389.8h2.6M559.4 388.5v2.6M527.5 420.9h2.6M528.8 419.6v2.6M568.1 380.0h2.6M569.4 378.7v2.6M531.8 415.9h2.6M533.1 414.6v2.6M573.7 374.7h2.6M575.0 373.4v2.6M529.2 418.9h2.6M530.5 417.6v2.6M551.3 396.9h2.6M552.6 395.6v2.6M505.1 443.0h2.6M506.4 441.7v2.6M546.8 401.1h2.6M548.1 399.8v2.6M536.6 411.2h2.6M537.9 409.9v2.6M593.0 355.1h2.6M594.3 353.8v2.6M512.5 435.9h2.6M513.8 434.6v2.6M506.8 441.3h2.6M508.1 440.0v2.6M549.3 398.8h2.6M550.6 397.5v2.6M554.2 394.1h2.6M555.5 392.8v2.6M537.3 411.3h2.6M538.6 410.0v2.6M517.7 430.5h2.6M519.0 429.2v2.6M587.1 361.3h2.6M588.4 360.0v2.6M519.0 429.5h2.6M520.3 428.2v2.6M526.1 422.1h2.6M527.4 420.8v2.6M592.2 355.6h2.6M593.5 354.3v2.6M535.1 413.0h2.6M536.4 411.7v2.6M576.0 371.9h2.6M577.3 370.6v2.6M585.3 362.8h2.6M586.6 361.5v2.6M513.9 434.2h2.6M515.2 432.9v2.6M562.1 385.9h2.6M563.4 384.6v2.6M540.3 407.8h2.6M541.6 406.5v2.6M554.8 393.2h2.6M556.1 391.9v2.6M541.3 407.3h2.6M542.6 406.0v2.6M560.4 387.5h2.6M561.7 386.2v2.6M524.4 423.7h2.6M525.7 422.4v2.6M543.3 405.0h2.6M544.6 403.7v2.6M525.1 423.1h2.6M526.4 421.8v2.6M562.1 386.4h2.6M563.4 385.1v2.6M531.1 417.1h2.6M532.4 415.8v2.6M555.3 392.7h2.6M556.6 391.4v2.6M518.5 429.9h2.6M519.8 428.6v2.6M528.1 419.7h2.6M529.4 418.4v2.6M571.7 376.5h2.6M573.0 375.2v2.6M533.9 414.0h2.6M535.2 412.7v2.6M547.9 400.3h2.6M549.2 399.0v2.6M565.5 382.6h2.6M566.8 381.3v2.6M557.7 390.1h2.6M559.0 388.8v2.6M583.5 364.7h2.6M584.8 363.4v2.6M523.2 425.1h2.6M524.5 423.8v2.6M574.1 373.8h2.6M575.4 372.5v2.6M581.8 366.5h2.6M583.1 365.2v2.6M593.7 354.8h2.6M595.0 353.5v2.6M531.0 417.2h2.6M532.3 415.9v2.6M591.7 356.5h2.6M593.0 355.2v2.6M505.2 443.0h2.6M506.5 441.7v2.6M570.2 377.8h2.6M571.5 376.5v2.6M513.1 435.2h2.6M514.4 433.9v2.6M512.5 435.9h2.6M513.8 434.6v2.6M534.9 413.5h2.6M536.2 412.2v2.6M583.3 364.6h2.6M584.6 363.3v2.6M592.2 356.0h2.6M593.5 354.7v2.6M575.3 372.8h2.6M576.6 371.5v2.6M566.2 382.1h2.6M567.5 380.8v2.6M525.1 423.1h2.6M526.4 421.8v2.6M542.9 405.2h2.6M544.2 403.9v2.6M593.1 355.0h2.6M594.4 353.7v2.6M532.7 415.5h2.6M534.0 414.2v2.6M547.9 400.1h2.6M549.2 398.8v2.6M516.4 431.6h2.6M517.7 430.3v2.6M565.8 382.4h2.6M567.1 381.1v2.6M517.5 430.6h2.6M518.8 429.3v2.6M514.2 433.6h2.6M515.5 432.3v2.6M535.7 411.9h2.6M537.0 410.6v2.6M535.6 412.5h2.6M536.9 411.2v2.6M523.8 424.8h2.6M525.1 423.5v2.6M569.8 378.2h2.6M571.1 376.9v2.6M528.8 419.4h2.6M530.1 418.1v2.6M510.5 437.7h2.6M511.8 436.4v2.6M508.0 439.8h2.6M509.3 438.5v2.6M554.2 393.9h2.6M555.5 392.6v2.6M537.0 411.5h2.6M538.3 410.2v2.6M562.9 385.3h2.6M564.2 384.0v2.6M552.9 394.9h2.6M554.2 393.6v2.6M592.3 355.7h2.6M593.6 354.4v2.6M582.6 365.4h2.6M583.9 364.1v2.6M532.7 415.2h2.6M534.0 413.9v2.6M542.0 406.3h2.6M543.3 405.0v2.6M538.8 409.2h2.6M540.1 407.9v2.6M541.3 407.3h2.6M542.6 406.0v2.6M505.0 443.7h2.6M506.3 442.4v2.6M558.9 389.4h2.6M560.2 388.1v2.6M559.0 389.0h2.6M560.3 387.7v2.6M538.1 410.0h2.6M539.4 408.7v2.6M514.8 433.5h2.6M516.1 432.2v2.6M579.9 368.3h2.6M581.2 367.0v2.6M508.5 439.2h2.6M509.8 437.9v2.6M566.5 381.5h2.6M567.8 380.2v2.6M553.6 394.7h2.6M554.9 393.4v2.6M532.6 415.5h2.6M533.9 414.2v2.6M571.2 376.9h2.6M572.5 375.6v2.6M580.7 367.1h2.6M582.0 365.8v2.6M593.5 354.6h2.6M594.8 353.3v2.6M525.2 422.7h2.6M526.5 421.4v2.6M538.1 409.7h2.6M539.4 408.4v2.6M568.0 379.9h2.6M569.3 378.6v2.6M559.3 388.9h2.6M560.6 387.6v2.6M564.9 383.0h2.6M566.2 381.7v2.6M553.1 395.3h2.6M554.4 394.0v2.6M524.2 423.7h2.6M525.5 422.4v2.6M585.7 362.3h2.6M587.0 361.0v2.6M546.7 401.4h2.6M548.0 400.1v2.6M546.9 401.0h2.6M548.2 399.7v2.6M524.3 424.1h2.6M525.6 422.8v2.6M551.9 396.6h2.6M553.2 395.3v2.6M551.1 396.6h2.6M552.4 395.3v2.6M525.6 422.4h2.6M526.9 421.1v2.6M519.8 428.4h2.6M521.1 427.1v2.6M561.6 386.3h2.6M562.9 385.0v2.6M578.6 369.8h2.6M579.9 368.5v2.6M508.0 439.8h2.6M509.3 438.5v2.6M538.6 409.7h2.6M539.9 408.4v2.6M515.1 432.6h2.6M516.4 431.3v2.6M518.1 430.0h2.6M519.4 428.7v2.6M536.3 411.9h2.6M537.6 410.6v2.6M576.2 371.7h2.6M577.5 370.4v2.6M512.1 435.9h2.6M513.4 434.6v2.6M539.9 408.5h2.6M541.2 407.2v2.6M544.6 403.5h2.6M545.9 402.2v2.6M547.2 401.0h2.6M548.5 399.7v2.6M517.5 430.2h2.6M518.8 428.9v2.6M565.2 382.7h2.6M566.5 381.4v2.6M525.7 422.6h2.6M527.0 421.3v2.6M537.5 410.5h2.6M538.8 409.2v2.6M505.9 442.3h2.6M507.2 441.0v2.6M522.2 425.8h2.6M523.5 424.5v2.6M520.3 427.8h2.6M521.6 426.5v2.6M568.7 379.4h2.6M570.0 378.1v2.6M526.1 422.2h2.6M527.4 420.9v2.6M579.2 369.1h2.6M580.5 367.8v2.6M581.4 366.9h2.6M582.7 365.6v2.6M522.2 425.6h2.6M523.5 424.3v2.6M559.8 388.5h2.6M561.1 387.2v2.6M537.7 410.6h2.6M539.0 409.3v2.6M537.2 410.9h2.6M538.5 409.6v2.6M568.1 379.9h2.6M569.4 378.6v2.6M562.5 385.8h2.6M563.8 384.5v2.6M576.9 371.0h2.6M578.2 369.7v2.6M556.3 392.0h2.6M557.6 390.7v2.6M587.3 361.0h2.6M588.6 359.7v2.6M568.4 380.2h2.6M569.7 378.9v2.6M537.6 410.4h2.6M538.9 409.1v2.6M510.5 437.4h2.6M511.8 436.1v2.6M572.0 375.9h2.6M573.3 374.6v2.6M548.9 399.4h2.6M550.2 398.1v2.6M585.1 363.0h2.6M586.4 361.7v2.6M557.4 390.6h2.6M558.7 389.3v2.6M545.6 402.1h2.6M546.9 400.8v2.6M541.5 406.7h2.6M542.8 405.4v2.6M546.8 401.4h2.6M548.1 400.1v2.6M548.3 399.7h2.6M549.6 398.4v2.6M550.2 398.0h2.6M551.5 396.7v2.6M570.5 377.3h2.6M571.8 376.0v2.6M540.4 408.0h2.6M541.7 406.7v2.6M554.0 394.2h2.6M555.3 392.9v2.6M573.3 374.8h2.6M574.6 373.5v2.6M524.0 424.0h2.6M525.3 422.7v2.6M511.2 436.9h2.6M512.5 435.6v2.6M512.1 435.9h2.6M513.4 434.6v2.6M571.8 376.2h2.6M573.1 374.9v2.6M565.3 382.7h2.6M566.6 381.4v2.6M568.0 380.0h2.6M569.3 378.7v2.6M566.2 381.9h2.6M567.5 380.6v2.6M541.4 406.0h2.6M542.7 404.7v2.6M577.3 370.4h2.6M578.6 369.1v2.6M582.5 365.7h2.6M583.8 364.4v2.6M550.8 397.4h2.6M552.1 396.1v2.6M504.9 443.4h2.6M506.2 442.1v2.6M527.8 420.3h2.6M529.1 419.0v2.6M532.3 415.7h2.6M533.6 414.4v2.6M554.3 394.2h2.6M555.6 392.9v2.6M550.1 398.0h2.6M551.4 396.7v2.6M531.6 416.5h2.6M532.9 415.2v2.6M582.1 366.2h2.6M583.4 364.9v2.6M527.1 420.6h2.6M528.4 419.3v2.6M522.5 425.8h2.6M523.8 424.5v2.6M537.8 410.3h2.6M539.1 409.0v2.6M545.8 402.1h2.6M547.1 400.8v2.6M537.1 411.0h2.6M538.4 409.7v2.6M576.2 372.0h2.6M577.5 370.7v2.6M554.4 394.2h2.6M555.7 392.9v2.6M508.8 439.2h2.6M510.1 437.9v2.6M541.1 407.3h2.6M542.4 406.0v2.6M554.9 393.1h2.6M556.2 391.8v2.6M575.7 372.5h2.6M577.0 371.2v2.6M530.4 417.6h2.6M531.7 416.3v2.6M557.2 390.5h2.6M558.5 389.2v2.6M545.1 403.2h2.6M546.4 401.9v2.6M583.0 365.0h2.6M584.3 363.7v2.6M509.3 438.5h2.6M510.6 437.2v2.6M508.7 439.5h2.6M510.0 438.2v2.6M581.8 366.6h2.6M583.1 365.3v2.6M520.5 427.7h2.6M521.8 426.4v2.6M586.8 360.9h2.6M588.1 359.6v2.6M548.9 399.1h2.6M550.2 397.8v2.6M564.7 383.4h2.6M566.0 382.1v2.6M523.1 424.8h2.6M524.4 423.5v2.6M579.6 368.8h2.6M580.9 367.5v2.6M523.0 425.5h2.6M524.3 424.2v2.6M513.5 434.9h2.6M514.8 433.6v2.6M589.7 358.7h2.6M591.0 357.4v2.6M541.4 406.6h2.6M542.7 405.3v2.6M585.4 362.5h2.6M586.7 361.2v2.6M565.8 382.3h2.6M567.1 381.0v2.6M566.7 381.5h2.6M568.0 380.2v2.6M508.1 440.1h2.6M509.4 438.8v2.6M525.1 422.9h2.6M526.4 421.6v2.6M556.4 391.6h2.6M557.7 390.3v2.6M518.2 430.1h2.6M519.5 428.8v2.6M586.0 362.0h2.6M587.3 360.7v2.6M518.1 430.4h2.6M519.4 429.1v2.6M576.1 372.2h2.6M577.4 370.9v2.6M507.2 440.9h2.6M508.5 439.6v2.6M538.3 409.7h2.6M539.6 408.4v2.6M553.2 394.8h2.6M554.5 393.5v2.6M512.5 435.3h2.6M513.8 434.0v2.6M542.9 405.3h2.6M544.2 404.0v2.6M565.3 383.1h2.6M566.6 381.8v2.6M515.4 433.0h2.6M516.7 431.7v2.6M587.3 361.3h2.6M588.6 360.0v2.6M551.5 396.6h2.6M552.8 395.3v2.6M530.2 417.7h2.6M531.5 416.4v2.6M548.9 399.4h2.6M550.2 398.1v2.6M587.8 360.5h2.6M589.1 359.2v2.6M581.8 366.4h2.6M583.1 365.1v2.6M557.8 390.2h2.6M559.1 388.9v2.6M516.8 431.3h2.6M518.1 430.0v2.6M528.8 419.7h2.6M530.1 418.4v2.6M524.5 423.3h2.6M525.8 422.0v2.6M587.3 361.0h2.6M588.6 359.7v2.6M591.1 357.1h2.6M592.4 355.8v2.6M535.3 413.1h2.6M536.6 411.8v2.6M508.7 439.3h2.6M510.0 438.0v2.6M534.1 413.9h2.6M535.4 412.6v2.6M570.9 377.3h2.6M572.2 376.0v2.6M520.3 427.8h2.6M521.6 426.5v2.6M510.4 437.5h2.6M511.7 436.2v2.6M554.5 393.8h2.6M555.8 392.5v2.6M575.0 373.2h2.6M576.3 371.9v2.6M557.7 390.4h2.6M559.0 389.1v2.6M550.3 397.8h2.6M551.6 396.5v2.6M513.0 435.1h2.6M514.3 433.8v2.6M556.1 391.9h2.6M557.4 390.6v2.6M535.8 412.1h2.6M537.1 410.8v2.6M519.1 429.2h2.6M520.4 427.9v2.6M519.6 428.7h2.6M520.9 427.4v2.6M579.8 368.3h2.6M581.1 367.0v2.6M582.5 365.4h2.6M583.8 364.1v2.6M512.7 435.4h2.6M514.0 434.1v2.6M583.2 365.1h2.6M584.5 363.8v2.6M552.4 395.8h2.6M553.7 394.5v2.6M514.8 433.2h2.6M516.1 431.9v2.6M552.3 395.8h2.6M553.6 394.5v2.6M549.7 398.3h2.6M551.0 397.0v2.6M540.5 407.7h2.6M541.8 406.4v2.6M522.6 425.6h2.6M523.9 424.3v2.6M582.5 365.7h2.6M583.8 364.4v2.6M549.3 398.8h2.6M550.6 397.5v2.6M588.9 359.2h2.6M590.2 357.9v2.6M548.1 400.1h2.6M549.4 398.8v2.6M565.9 381.9h2.6M567.2 380.6v2.6M524.8 423.3h2.6M526.1 422.0v2.6M527.9 420.1h2.6M529.2 418.8v2.6M506.9 441.0h2.6M508.2 439.7v2.6M530.5 417.7h2.6M531.8 416.4v2.6M584.3 364.1h2.6M585.6 362.8v2.6M525.3 422.9h2.6M526.6 421.6v2.6M557.7 390.5h2.6M559.0 389.2v2.6M509.7 438.1h2.6M511.0 436.8v2.6M526.1 421.5h2.6M527.4 420.2v2.6M507.8 440.0h2.6M509.1 438.7v2.6M559.6 388.3h2.6M560.9 387.0v2.6M534.8 413.0h2.6M536.1 411.7v2.6M576.7 370.9h2.6M578.0 369.6v2.6M505.3 442.9h2.6M506.6 441.6v2.6M588.5 359.4h2.6M589.8 358.1v2.6M512.2 436.0h2.6M513.5 434.7v2.6M526.2 421.9h2.6M527.5 420.6v2.6M517.7 430.1h2.6M519.0 428.8v2.6M535.2 413.0h2.6M536.5 411.7v2.6M524.0 424.2h2.6M525.3 422.9v2.6M534.3 414.5h2.6M535.6 413.2v2.6M575.2 372.8h2.6M576.5 371.5v2.6M547.1 400.6h2.6M548.4 399.3v2.6M585.7 362.4h2.6M587.0 361.1v2.6M571.6 376.4h2.6M572.9 375.1v2.6M560.3 387.7h2.6M561.6 386.4v2.6M580.1 368.0h2.6M581.4 366.7v2.6M568.6 379.4h2.6M569.9 378.1v2.6M535.7 412.7h2.6M537.0 411.4v2.6M564.8 383.7h2.6M566.1 382.4v2.6M571.3 377.1h2.6M572.6 375.8v2.6M588.5 359.9h2.6M589.8 358.6v2.6M585.4 362.7h2.6M586.7 361.4v2.6M576.0 371.7h2.6M577.3 370.4v2.6M557.0 390.7h2.6M558.3 389.4v2.6M574.7 373.6h2.6M576.0 372.3v2.6M582.3 365.6h2.6M583.6 364.3v2.6M552.2 396.4h2.6M553.5 395.1v2.6M589.3 359.2h2.6M590.6 357.9v2.6M575.1 373.4h2.6M576.4 372.1v2.6M526.9 421.3h2.6M528.2 420.0v2.6M522.0 426.0h2.6M523.3 424.7v2.6M545.3 402.8h2.6M546.6 401.5v2.6M585.8 362.5h2.6M587.1 361.2v2.6M565.7 382.3h2.6M567.0 381.0v2.6M574.5 373.4h2.6M575.8 372.1v2.6M575.3 372.5h2.6M576.6 371.2v2.6M578.1 369.5h2.6M579.4 368.2v2.6M540.8 407.5h2.6M542.1 406.2v2.6M579.4 368.9h2.6M580.7 367.6v2.6M534.6 413.2h2.6M535.9 411.9v2.6M575.3 372.6h2.6M576.6 371.3v2.6M504.7 443.4h2.6M506.0 442.1v2.6M514.2 433.9h2.6M515.5 432.6v2.6M577.0 370.8h2.6M578.3 369.5v2.6M545.4 402.9h2.6M546.7 401.6v2.6M534.4 413.8h2.6M535.7 412.5v2.6M580.1 368.2h2.6M581.4 366.9v2.6M559.8 388.3h2.6M561.1 387.0v2.6M528.6 419.6h2.6M529.9 418.3v2.6M567.0 380.8h2.6M568.3 379.5v2.6M576.7 371.5h2.6M578.0 370.2v2.6M515.1 433.0h2.6M516.4 431.7v2.6M578.0 370.0h2.6M579.3 368.7v2.6M520.7 427.3h2.6M522.0 426.0v2.6M537.0 411.6h2.6M538.3 410.3v2.6M524.5 423.8h2.6M525.8 422.5v2.6M584.3 363.6h2.6M585.6 362.3v2.6M539.4 408.2h2.6M540.7 406.9v2.6M549.7 398.4h2.6M551.0 397.1v2.6M593.0 355.2h2.6M594.3 353.9v2.6M519.0 429.5h2.6M520.3 428.2v2.6M551.6 396.6h2.6M552.9 395.3v2.6M589.0 359.1h2.6M590.3 357.8v2.6M545.1 403.1h2.6M546.4 401.8v2.6M535.8 412.2h2.6M537.1 410.9v2.6M513.1 434.6h2.6M514.4 433.3v2.6M550.3 397.7h2.6M551.6 396.4v2.6M538.3 410.2h2.6M539.6 408.9v2.6M563.9 384.0h2.6M565.2 382.7v2.6M511.0 436.9h2.6M512.3 435.6v2.6M590.1 357.8h2.6M591.4 356.5v2.6M536.6 411.3h2.6M537.9 410.0v2.6M537.9 410.0h2.6M539.2 408.7v2.6M551.0 396.9h2.6M552.3 395.6v2.6M548.7 398.9h2.6M550.0 397.6v2.6M536.9 411.2h2.6M538.2 409.9v2.6M579.1 369.0h2.6M580.4 367.7v2.6M565.5 382.4h2.6M566.8 381.1v2.6M571.6 376.4h2.6M572.9 375.1v2.6M584.2 363.9h2.6M585.5 362.6v2.6M507.2 440.5h2.6M508.5 439.2v2.6M533.6 414.8h2.6M534.9 413.5v2.6M584.4 364.1h2.6M585.7 362.8v2.6M517.1 430.8h2.6M518.4 429.5v2.6M508.4 439.6h2.6M509.7 438.3v2.6M539.4 408.7h2.6M540.7 407.4v2.6M529.3 418.5h2.6M530.6 417.2v2.6M572.6 375.4h2.6M573.9 374.1v2.6M542.1 406.2h2.6M543.4 404.9v2.6M591.9 356.0h2.6M593.2 354.7v2.6M564.8 383.0h2.6M566.1 381.7v2.6M538.6 409.9h2.6M539.9 408.6v2.6M566.2 381.8h2.6M567.5 380.5v2.6M529.2 419.0h2.6M530.5 417.7v2.6M578.5 369.9h2.6M579.8 368.6v2.6M575.4 372.6h2.6M576.7 371.3v2.6M550.6 397.6h2.6M551.9 396.3v2.6M583.1 365.2h2.6M584.4 363.9v2.6M519.7 428.7h2.6M521.0 427.4v2.6M532.3 415.9h2.6M533.6 414.6v2.6M538.6 409.5h2.6M539.9 408.2v2.6M591.1 357.2h2.6M592.4 355.9v2.6M532.0 416.1h2.6M533.3 414.8v2.6M588.9 359.2h2.6M590.2 357.9v2.6M543.7 404.6h2.6M545.0 403.3v2.6M514.0 434.1h2.6M515.3 432.8v2.6M539.0 409.4h2.6M540.3 408.1v2.6M590.7 357.4h2.6M592.0 356.1v2.6M585.8 362.4h2.6M587.1 361.1v2.6M544.7 403.5h2.6M546.0 402.2v2.6M574.0 373.9h2.6M575.3 372.6v2.6M532.6 415.7h2.6M533.9 414.4v2.6M546.6 401.8h2.6M547.9 400.5v2.6M554.3 393.6h2.6M555.6 392.3v2.6M528.8 419.0h2.6M530.1 417.7v2.6M536.9 411.4h2.6M538.2 410.1v2.6M530.1 417.9h2.6M531.4 416.6v2.6M560.8 387.3h2.6M562.1 386.0v2.6M508.2 440.3h2.6M509.5 439.0v2.6M578.3 369.6h2.6M579.6 368.3v2.6M588.5 359.5h2.6M589.8 358.2v2.6M528.1 420.0h2.6M529.4 418.7v2.6M553.5 394.7h2.6M554.8 393.4v2.6M571.8 376.2h2.6M573.1 374.9v2.6M576.6 371.3h2.6M577.9 370.0v2.6M514.2 433.8h2.6M515.5 432.5v2.6M591.2 357.2h2.6M592.5 355.9v2.6M561.1 386.9h2.6M562.4 385.6v2.6M539.5 408.3h2.6M540.8 407.0v2.6M588.6 359.5h2.6M589.9 358.2v2.6M539.4 408.5h2.6M540.7 407.2v2.6M576.5 371.5h2.6M577.8 370.2v2.6M582.5 365.7h2.6M583.8 364.4v2.6M551.8 396.0h2.6M553.1 394.7v2.6M585.1 363.0h2.6M586.4 361.7v2.6M516.2 431.8h2.6M517.5 430.5v2.6M541.4 406.8h2.6M542.7 405.5v2.6M549.4 398.9h2.6M550.7 397.6v2.6M556.0 391.9h2.6M557.3 390.6v2.6M540.4 407.6h2.6M541.7 406.3v2.6M580.0 368.0h2.6M581.3 366.7v2.6M575.0 373.1h2.6M576.3 371.8v2.6M564.4 383.5h2.6M565.7 382.2v2.6M571.7 376.0h2.6M573.0 374.7v2.6M584.9 363.2h2.6M586.2 361.9v2.6M571.0 377.3h2.6M572.3 376.0v2.6M582.9 364.9h2.6M584.2 363.6v2.6M516.0 432.0h2.6M517.3 430.7v2.6M559.0 388.8h2.6M560.3 387.5v2.6M529.1 419.3h2.6M530.4 418.0v2.6M578.3 370.0h2.6M579.6 368.7v2.6M528.8 419.4h2.6M530.1 418.1v2.6M512.8 435.5h2.6M514.1 434.2v2.6M565.1 383.4h2.6M566.4 382.1v2.6M536.5 411.5h2.6M537.8 410.2v2.6M567.2 381.3h2.6M568.5 380.0v2.6M533.5 414.8h2.6M534.8 413.5v2.6M504.5 443.5h2.6M505.8 442.2v2.6M528.9 419.1h2.6M530.2 417.8v2.6M509.4 438.4h2.6M510.7 437.1v2.6M576.7 371.5h2.6M578.0 370.2v2.6M507.8 440.3h2.6M509.1 439.0v2.6M524.4 423.7h2.6M525.7 422.4v2.6M560.7 387.3h2.6M562.0 386.0v2.6M555.3 392.9h2.6M556.6 391.6v2.6M523.8 424.3h2.6M525.1 423.0v2.6M579.5 368.5h2.6M580.8 367.2v2.6M576.8 371.3h2.6M578.1 370.0v2.6M574.0 374.0h2.6M575.3 372.7v2.6M506.7 441.2h2.6M508.0 439.9v2.6M509.9 438.2h2.6M511.2 436.9v2.6M560.8 387.3h2.6M562.1 386.0v2.6M540.0 407.8h2.6M541.3 406.5v2.6M550.1 397.8h2.6M551.4 396.5v2.6M582.0 366.0h2.6M583.3 364.7v2.6M593.7 354.6h2.6M595.0 353.3v2.6M533.6 414.0h2.6M534.9 412.7v2.6M592.8 355.5h2.6M594.1 354.2v2.6M516.3 431.9h2.6M517.6 430.6v2.6M544.9 403.0h2.6M546.2 401.7v2.6M647.1 300.7h2.6M648.4 299.4v2.6M641.8 306.4h2.6M643.1 305.1v2.6M639.0 309.3h2.6M640.3 308.0v2.6M634.6 313.5h2.6M635.9 312.2v2.6M646.3 301.5h2.6M647.6 300.2v2.6M634.7 313.3h2.6M636.0 312.0v2.6M638.0 310.0h2.6M639.3 308.7v2.6M652.3 295.6h2.6M653.6 294.3v2.6M661.2 286.3h2.6M662.5 285.0v2.6M671.4 277.0h2.6M672.7 275.7v2.6M660.1 287.9h2.6M661.4 286.6v2.6M628.2 319.9h2.6M629.5 318.6v2.6M667.2 281.0h2.6M668.5 279.7v2.6M660.2 287.8h2.6M661.5 286.5v2.6M642.4 305.6h2.6M643.7 304.3v2.6M632.9 314.8h2.6M634.2 313.5v2.6M639.8 307.8h2.6M641.1 306.5v2.6M627.3 320.9h2.6M628.6 319.6v2.6M669.0 279.3h2.6M670.3 278.0v2.6M664.2 283.8h2.6M665.5 282.5v2.6M630.3 317.8h2.6M631.6 316.5v2.6M632.6 315.5h2.6M633.9 314.2v2.6M673.2 274.6h2.6M674.5 273.3v2.6M669.5 278.6h2.6M670.8 277.3v2.6M665.0 282.9h2.6M666.3 281.6v2.6M631.5 316.8h2.6M632.8 315.5v2.6M649.9 298.3h2.6M651.2 297.0v2.6M635.3 312.8h2.6M636.6 311.5v2.6M669.4 278.8h2.6M670.7 277.5v2.6M660.0 288.7h2.6M661.3 287.4v2.6M646.3 301.6h2.6M647.6 300.3v2.6M660.6 287.2h2.6M661.9 285.9v2.6M666.2 282.1h2.6M667.5 280.8v2.6M631.7 316.5h2.6M633.0 315.2v2.6M653.6 294.5h2.6M654.9 293.2v2.6M643.8 304.7h2.6M645.1 303.4v2.6M663.4 284.7h2.6M664.7 283.4v2.6M647.9 300.6h2.6M649.2 299.3v2.6M651.2 297.0h2.6M652.5 295.7v2.6M628.5 319.5h2.6M629.8 318.2v2.6M668.4 280.0h2.6M669.7 278.7v2.6M648.7 299.3h2.6M650.0 298.0v2.6M636.9 311.1h2.6M638.2 309.8v2.6M669.2 278.8h2.6M670.5 277.5v2.6M653.9 294.2h2.6M655.2 292.9v2.6M631.3 316.9h2.6M632.6 315.6v2.6M653.7 294.6h2.6M655.0 293.3v2.6M656.1 292.0h2.6M657.4 290.7v2.6M628.3 319.6h2.6M629.6 318.3v2.6M660.5 287.8h2.6M661.8 286.5v2.6M644.6 303.5h2.6M645.9 302.2v2.6M657.9 290.2h2.6M659.2 288.9v2.6M656.7 291.3h2.6M658.0 290.0v2.6M658.8 289.2h2.6M660.1 287.9v2.6M669.4 278.7h2.6M670.7 277.4v2.6M654.4 293.9h2.6M655.7 292.6v2.6M673.2 275.0h2.6M674.5 273.7v2.6M636.1 311.7h2.6M637.4 310.4v2.6M665.3 283.0h2.6M666.6 281.7v2.6M656.0 292.1h2.6M657.3 290.8v2.6M629.7 318.4h2.6M631.0 317.1v2.6M672.6 275.5h2.6M673.9 274.2v2.6M627.5 320.6h2.6M628.8 319.3v2.6M636.9 311.3h2.6M638.2 310.0v2.6M657.8 290.2h2.6M659.1 288.9v2.6M670.3 277.5h2.6M671.6 276.2v2.6M637.7 310.0h2.6M639.0 308.7v2.6M632.8 315.7h2.6M634.1 314.4v2.6M630.2 317.9h2.6M631.5 316.6v2.6M672.5 275.6h2.6M673.8 274.3v2.6M664.3 283.6h2.6M665.6 282.3v2.6M633.0 315.0h2.6M634.3 313.7v2.6M663.4 284.7h2.6M664.7 283.4v2.6M668.4 279.7h2.6M669.7 278.4v2.6M666.6 281.5h2.6M667.9 280.2v2.6M652.2 296.0h2.6M653.5 294.7v2.6M655.2 292.7h2.6M656.5 291.4v2.6M654.1 294.0h2.6M655.4 292.7v2.6M627.7 320.3h2.6M629.0 319.0v2.6M651.7 296.4h2.6M653.0 295.1v2.6M625.6 322.7h2.6M626.9 321.4v2.6M661.6 286.9h2.6M662.9 285.6v2.6M664.7 283.5h2.6M666.0 282.2v2.6M647.5 300.8h2.6M648.8 299.5v2.6M635.3 313.0h2.6M636.6 311.7v2.6M646.2 302.3h2.6M647.5 301.0v2.6M651.9 296.6h2.6M653.2 295.3v2.6M642.4 306.0h2.6M643.7 304.7v2.6M666.6 281.7h2.6M667.9 280.4v2.6M666.5 281.8h2.6M667.8 280.5v2.6M639.9 308.3h2.6M641.2 307.0v2.6M662.3 286.0h2.6M663.6 284.7v2.6M672.9 275.5h2.6M674.2 274.2v2.6M662.6 285.6h2.6M663.9 284.3v2.6M630.7 317.4h2.6M632.0 316.1v2.6M658.7 289.2h2.6M660.0 287.9v2.6M647.2 300.7h2.6M648.5 299.4v2.6M644.8 303.0h2.6M646.1 301.7v2.6M669.6 278.3h2.6M670.9 277.0v2.6M660.9 287.4h2.6M662.2 286.1v2.6M665.7 282.0h2.6M667.0 280.7v2.6M660.2 288.2h2.6M661.5 286.9v2.6M666.5 281.6h2.6M667.8 280.3v2.6M646.1 302.1h2.6M647.4 300.8v2.6M671.0 277.0h2.6M672.3 275.7v2.6M646.6 301.4h2.6M647.9 300.1v2.6M639.7 308.3h2.6M641.0 307.0v2.6M642.1 306.0h2.6M643.4 304.7v2.6M646.7 301.5h2.6M648.0 300.2v2.6M672.7 275.1h2.6M674.0 273.8v2.6M662.0 285.7h2.6M663.3 284.4v2.6M666.0 282.4h2.6M667.3 281.1v2.6M638.5 309.6h2.6M639.8 308.3v2.6M637.3 310.8h2.6M638.6 309.5v2.6M636.4 311.8h2.6M637.7 310.5v2.6M668.3 279.9h2.6M669.6 278.6v2.6M662.6 285.4h2.6M663.9 284.1v2.6M663.0 285.4h2.6M664.3 284.1v2.6M650.9 297.0h2.6M652.2 295.7v2.6M630.3 317.9h2.6M631.6 316.6v2.6M655.6 292.4h2.6M656.9 291.1v2.6M642.7 304.8h2.6M644.0 303.5v2.6M632.9 315.1h2.6M634.2 313.8v2.6M650.9 297.1h2.6M652.2 295.8v2.6M670.7 277.2h2.6M672.0 275.9v2.6M645.1 303.3h2.6M646.4 302.0v2.6M672.1 275.8h2.6M673.4 274.5v2.6M629.5 318.6h2.6M630.8 317.3v2.6M669.3 278.9h2.6M670.6 277.6v2.6M625.8 322.3h2.6M627.1 321.0v2.6M673.5 275.0h2.6M674.8 273.7v2.6M633.6 314.2h2.6M634.9 312.9v2.6M658.8 289.4h2.6M660.1 288.1v2.6M661.4 286.7h2.6M662.7 285.4v2.6M637.6 310.4h2.6M638.9 309.1v2.6M626.4 321.6h2.6M627.7 320.3v2.6M637.7 310.3h2.6M639.0 309.0v2.6M672.0 275.9h2.6M673.3 274.6v2.6M657.0 290.9h2.6M658.3 289.6v2.6M654.2 293.8h2.6M655.5 292.5v2.6M628.2 319.8h2.6M629.5 318.5v2.6M628.5 319.8h2.6M629.8 318.5v2.6M632.1 316.1h2.6M633.4 314.8v2.6M630.3 317.2h2.6M631.6 315.9v2.6M658.6 289.5h2.6M659.9 288.2v2.6M638.4 309.7h2.6M639.7 308.4v2.6M629.9 318.0h2.6M631.2 316.7v2.6M639.7 308.1h2.6M641.0 306.8v2.6M646.9 301.4h2.6M648.2 300.1v2.6M660.8 287.7h2.6M662.1 286.4v2.6M641.9 306.4h2.6M643.2 305.1v2.6M665.8 282.7h2.6M667.1 281.4v2.6M636.2 312.0h2.6M637.5 310.7v2.6M666.8 281.4h2.6M668.1 280.1v2.6M638.5 309.3h2.6M639.8 308.0v2.6M625.7 322.6h2.6M627.0 321.3v2.6M633.0 315.5h2.6M634.3 314.2v2.6M657.1 290.8h2.6M658.4 289.5v2.6M633.8 314.1h2.6M635.1 312.8v2.6M632.4 316.2h2.6M633.7 314.9v2.6M643.9 304.5h2.6M645.2 303.2v2.6M656.8 291.2h2.6M658.1 289.9v2.6M628.3 319.8h2.6M629.6 318.5v2.6M625.9 322.3h2.6M627.2 321.0v2.6M672.0 276.1h2.6M673.3 274.8v2.6M642.8 305.3h2.6M644.1 304.0v2.6M663.4 284.6h2.6M664.7 283.3v2.6M637.3 310.6h2.6M638.6 309.3v2.6M630.6 317.6h2.6M631.9 316.3v2.6M637.2 310.9h2.6M638.5 309.6v2.6M643.6 304.4h2.6M644.9 303.1v2.6M662.4 285.8h2.6M663.7 284.5v2.6M635.9 312.4h2.6M637.2 311.1v2.6M643.7 304.2h2.6M645.0 302.9v2.6M648.2 300.1h2.6M649.5 298.8v2.6M667.6 280.8h2.6M668.9 279.5v2.6M665.9 282.3h2.6M667.2 281.0v2.6M636.7 311.7h2.6M638.0 310.4v2.6M630.8 317.4h2.6M632.1 316.1v2.6M647.5 300.6h2.6M648.8 299.3v2.6M630.8 317.2h2.6M632.1 315.9v2.6M648.5 299.7h2.6M649.8 298.4v2.6M646.6 301.6h2.6M647.9 300.3v2.6M631.0 317.3h2.6M632.3 316.0v2.6M648.0 300.2h2.6M649.3 298.9v2.6M670.7 277.3h2.6M672.0 276.0v2.6M635.9 312.1h2.6M637.2 310.8v2.6M661.2 286.6h2.6M662.5 285.3v2.6M671.9 276.0h2.6M673.2 274.7v2.6M667.1 281.4h2.6M668.4 280.1v2.6M650.8 297.6h2.6M652.1 296.3v2.6M636.9 311.4h2.6M638.2 310.1v2.6M635.7 312.8h2.6M637.0 311.5v2.6M629.1 318.9h2.6M630.4 317.6v2.6M647.8 300.8h2.6M649.1 299.5v2.6M660.8 287.5h2.6M662.1 286.2v2.6M640.6 307.6h2.6M641.9 306.3v2.6M635.1 312.9h2.6M636.4 311.6v2.6M630.9 317.1h2.6M632.2 315.8v2.6M673.0 275.0h2.6M674.3 273.7v2.6M625.7 322.5h2.6M627.0 321.2v2.6M656.9 291.2h2.6M658.2 289.9v2.6M648.0 300.1h2.6M649.3 298.8v2.6M661.1 286.9h2.6M662.4 285.6v2.6M649.4 298.7h2.6M650.7 297.4v2.6M654.5 293.5h2.6M655.8 292.2v2.6M664.2 283.8h2.6M665.5 282.5v2.6M671.1 276.9h2.6M672.4 275.6v2.6M642.8 304.9h2.6M644.1 303.6v2.6M669.1 279.1h2.6M670.4 277.8v2.6M654.3 293.9h2.6M655.6 292.6v2.6M669.1 279.2h2.6M670.4 277.9v2.6M626.9 321.3h2.6M628.2 320.0v2.6M646.5 301.6h2.6M647.8 300.3v2.6M661.6 286.6h2.6M662.9 285.3v2.6M653.6 294.7h2.6M654.9 293.4v2.6M658.1 289.9h2.6M659.4 288.6v2.6M625.8 322.4h2.6M627.1 321.1v2.6M648.3 299.7h2.6M649.6 298.4v2.6M650.1 298.2h2.6M651.4 296.9v2.6M673.4 274.7h2.6M674.7 273.4v2.6M655.4 292.8h2.6M656.7 291.5v2.6M635.2 313.3h2.6M636.5 312.0v2.6M673.7 274.2h2.6M675.0 272.9v2.6M671.9 276.2h2.6M673.2 274.9v2.6M640.7 307.2h2.6M642.0 305.9v2.6M657.7 290.5h2.6M659.0 289.2v2.6M626.2 321.8h2.6M627.5 320.5v2.6M665.5 282.7h2.6M666.8 281.4v2.6M625.1 322.9h2.6M626.4 321.6v2.6M647.2 300.8h2.6M648.5 299.5v2.6M652.5 295.6h2.6M653.8 294.3v2.6M636.8 311.2h2.6M638.1 309.9v2.6M631.1 317.2h2.6M632.4 315.9v2.6M631.8 316.3h2.6M633.1 315.0v2.6M650.4 297.4h2.6M651.7 296.1v2.6M627.8 320.1h2.6M629.1 318.8v2.6M636.6 311.6h2.6M637.9 310.3v2.6M647.3 301.1h2.6M648.6 299.8v2.6M645.2 303.2h2.6M646.5 301.9v2.6M666.9 281.0h2.6M668.2 279.7v2.6M671.7 276.4h2.6M673.0 275.1v2.6M645.2 303.4h2.6M646.5 302.1v2.6M627.7 320.5h2.6M629.0 319.2v2.6M626.0 322.1h2.6M627.3 320.8v2.6M639.2 308.8h2.6M640.5 307.5v2.6M667.8 280.9h2.6M669.1 279.6v2.6M645.4 302.3h2.6M646.7 301.0v2.6M664.4 283.7h2.6M665.7 282.4v2.6M656.9 291.1h2.6M658.2 289.8v2.6M637.0 311.1h2.6M638.3 309.8v2.6M657.0 290.8h2.6M658.3 289.5v2.6M668.8 279.1h2.6M670.1 277.8v2.6M672.0 276.1h2.6M673.3 274.8v2.6M668.9 279.3h2.6M670.2 278.0v2.6M653.0 295.3h2.6M654.3 294.0v2.6M637.7 310.7h2.6M639.0 309.4v2.6M636.6 311.4h2.6M637.9 310.1v2.6M658.2 290.1h2.6M659.5 288.8v2.6M628.7 319.4h2.6M630.0 318.1v2.6M647.9 299.9h2.6M649.2 298.6v2.6M657.8 290.3h2.6M659.1 289.0v2.6M648.3 299.8h2.6M649.6 298.5v2.6M658.1 289.9h2.6M659.4 288.6v2.6M633.8 314.1h2.6M635.1 312.8v2.6M671.8 276.3h2.6M673.1 275.0v2.6M646.0 301.9h2.6M647.3 300.6v2.6M671.8 276.4h2.6M673.1 275.1v2.6M672.0 276.3h2.6M673.3 275.0v2.6M669.0 279.2h2.6M670.3 277.9v2.6M642.8 305.6h2.6M644.1 304.3v2.6M657.4 290.7h2.6M658.7 289.4v2.6M635.9 312.1h2.6M637.2 310.8v2.6M635.6 312.5h2.6M636.9 311.2v2.6M631.8 316.4h2.6M633.1 315.1v2.6M644.9 303.2h2.6M646.2 301.9v2.6M653.5 294.6h2.6M654.8 293.3v2.6M670.9 277.0h2.6M672.2 275.7v2.6M659.4 288.6h2.6M660.7 287.3v2.6M646.5 301.7h2.6M647.8 300.4v2.6M626.1 322.2h2.6M627.4 320.9v2.6M658.1 290.1h2.6M659.4 288.8v2.6M672.1 276.2h2.6M673.4 274.9v2.6M662.5 285.7h2.6M663.8 284.4v2.6M655.9 292.0h2.6M657.2 290.7v2.6M659.5 288.7h2.6M660.8 287.4v2.6M662.4 285.7h2.6M663.7 284.4v2.6M639.8 308.3h2.6M641.1 307.0v2.6M654.6 293.9h2.6M655.9 292.6v2.6M666.6 281.7h2.6M667.9 280.4v2.6M634.7 313.2h2.6M636.0 311.9v2.6M625.7 322.1h2.6M627.0 320.8v2.6M638.4 309.7h2.6M639.7 308.4v2.6M628.6 319.6h2.6M629.9 318.3v2.6M659.0 289.1h2.6M660.3 287.8v2.6M625.3 322.8h2.6M626.6 321.5v2.6M659.8 288.4h2.6M661.1 287.1v2.6M673.2 275.0h2.6M674.5 273.7v2.6M670.6 277.5h2.6M671.9 276.2v2.6M672.4 275.8h2.6M673.7 274.5v2.6M650.6 297.6h2.6M651.9 296.3v2.6M640.6 307.3h2.6M641.9 306.0v2.6M637.8 310.4h2.6M639.1 309.1v2.6M627.9 320.4h2.6M629.2 319.1v2.6M629.6 318.6h2.6M630.9 317.3v2.6M655.5 292.6h2.6M656.8 291.3v2.6M663.6 284.4h2.6M664.9 283.1v2.6M660.5 287.4h2.6M661.8 286.1v2.6M634.4 313.9h2.6M635.7 312.6v2.6M670.3 277.7h2.6M671.6 276.4v2.6M632.6 315.5h2.6M633.9 314.2v2.6M658.7 289.1h2.6M660.0 287.8v2.6M636.4 311.9h2.6M637.7 310.6v2.6M663.9 284.2h2.6M665.2 282.9v2.6M653.6 294.4h2.6M654.9 293.1v2.6M634.4 313.6h2.6M635.7 312.3v2.6M663.5 284.3h2.6M664.8 283.0v2.6M636.5 311.8h2.6M637.8 310.5v2.6M652.7 295.6h2.6M654.0 294.3v2.6M631.9 316.3h2.6M633.2 315.0v2.6M630.5 317.9h2.6M631.8 316.6v2.6M656.0 292.1h2.6M657.3 290.8v2.6M645.8 302.4h2.6M647.1 301.1v2.6M651.1 297.0h2.6M652.4 295.7v2.6M660.4 287.7h2.6M661.7 286.4v2.6M635.8 312.2h2.6M637.1 310.9v2.6M658.9 289.5h2.6M660.2 288.2v2.6M655.1 293.1h2.6M656.4 291.8v2.6M640.2 307.8h2.6M641.5 306.5v2.6M657.4 290.7h2.6M658.7 289.4v2.6M636.2 312.0h2.6M637.5 310.7v2.6M662.7 285.5h2.6M664.0 284.2v2.6M671.6 276.2h2.6M672.9 274.9v2.6M663.8 284.3h2.6M665.1 283.0v2.6M660.3 288.0h2.6M661.6 286.7v2.6M627.8 320.2h2.6M629.1 318.9v2.6M627.5 320.6h2.6M628.8 319.3v2.6M650.3 298.1h2.6M651.6 296.8v2.6M668.0 280.5h2.6M669.3 279.2v2.6M647.6 300.5h2.6M648.9 299.2v2.6M649.8 298.4h2.6M651.1 297.1v2.6M650.4 297.5h2.6M651.7 296.2v2.6M651.0 297.3h2.6M652.3 296.0v2.6M662.9 285.3h2.6M664.2 284.0v2.6M644.0 304.2h2.6M645.3 302.9v2.6M648.7 299.4h2.6M650.0 298.1v2.6M636.1 312.3h2.6M637.4 311.0v2.6M640.5 307.3h2.6M641.8 306.0v2.6M662.6 285.5h2.6M663.9 284.2v2.6M643.0 304.7h2.6M644.3 303.4v2.6M500.2 447.8h2.6M501.5 446.5v2.6" stroke="#0c2cff" stroke-width="1.3" fill="none"/>
<path d="M169.6 578.6h2.6M170.9 577.3v2.6M135.4 612.7h2.6M136.7 611.4v2.6M137.4 610.7h2.6M138.7 609.4v2.6M98.9 649.9h2.6M100.2 648.6v2.6M167.0 581.2h2.6M168.3 579.9v2.6M81.9 665.4h2.6M83.2 664.1v2.6M100.7 647.1h2.6M102.0 645.8v2.6M75.6 672.2h2.6M76.9 670.9v2.6M115.3 631.9h2.6M116.6 630.6v2.6M77.4 670.2h2.6M78.7 668.9v2.6M172.7 575.3h2.6M174.0 574.0v2.6M73.6 674.0h2.6M74.9 672.7v2.6M83.1 665.3h2.6M84.4 664.0v2.6M79.8 668.1h2.6M81.1 666.8v2.6M125.9 622.0h2.6M127.2 620.7v2.6M158.6 589.4h2.6M159.9 588.1v2.6M151.2 596.8h2.6M152.5 595.5v2.6M114.3 633.4h2.6M115.6 632.1v2.6M94.6 653.4h2.6M95.9 652.1v2.6M173.7 574.4h2.6M175.0 573.1v2.6M148.6 599.5h2.6M149.9 598.2v2.6M165.1 583.2h2.6M166.4 581.9v2.6M171.8 575.9h2.6M173.1 574.6v2.6M133.6 614.1h2.6M134.9 612.8v2.6M146.0 602.2h2.6M147.3 600.9v2.6M147.9 600.2h2.6M149.2 598.9v2.6M172.2 575.9h2.6M173.5 574.6v2.6M79.8 668.1h2.6M81.1 666.8v2.6M94.9 652.6h2.6M96.2 651.3v2.6M95.3 651.4h2.6M96.6 650.1v2.6M84.4 663.6h2.6M85.7 662.3v2.6M160.8 587.0h2.6M162.1 585.7v2.6M149.1 599.0h2.6M150.4 597.7v2.6M105.3 642.7h2.6M106.6 641.4v2.6M157.5 590.8h2.6M158.8 589.5v2.6M161.8 586.1h2.6M163.1 584.8v2.6M151.0 596.9h2.6M152.3 595.6v2.6M134.3 614.2h2.6M135.6 612.9v2.6M103.4 643.9h2.6M104.7 642.6v2.6M160.3 587.7h2.6M161.6 586.4v2.6M107.7 639.8h2.6M109.0 638.5v2.6M108.7 638.9h2.6M110.0 637.6v2.6M80.2 667.8h2.6M81.5 666.5v2.6M92.9 655.1h2.6M94.2 653.8v2.6M137.0 610.6h2.6M138.3 609.3v2.6M164.4 583.5h2.6M165.7 582.2v2.6M167.8 579.9h2.6M169.1 578.6v2.6M155.7 592.8h2.6M157.0 591.5v2.6M150.0 597.8h2.6M151.3 596.5v2.6M156.4 591.5h2.6M157.7 590.2v2.6M109.7 638.6h2.6M111.0 637.3v2.6M159.4 588.8h2.6M160.7 587.5v2.6M104.8 643.3h2.6M106.1 642.0v2.6M157.0 590.5h2.6M158.3 589.2v2.6M160.4 588.0h2.6M161.7 586.7v2.6M163.8 584.7h2.6M165.1 583.4v2.6M149.2 599.3h2.6M150.5 598.0v2.6M141.6 606.2h2.6M142.9 604.9v2.6M162.5 585.3h2.6M163.8 584.0v2.6M127.4 620.1h2.6M128.7 618.8v2.6M153.1 594.8h2.6M154.4 593.5v2.6M153.1 594.9h2.6M154.4 593.6v2.6M105.0 642.6h2.6M106.3 641.3v2.6M95.3 652.7h2.6M96.6 651.4v2.6M71.1 676.9h2.6M72.4 675.6v2.6M154.6 593.3h2.6M155.9 592.0v2.6M75.6 672.3h2.6M76.9 671.0v2.6M148.6 599.4h2.6M149.9 598.1v2.6M111.9 636.3h2.6M113.2 635.0v2.6M155.4 592.8h2.6M156.7 591.5v2.6M136.7 611.1h2.6M138.0 609.8v2.6M164.9 582.3h2.6M166.2 581.0v2.6M147.8 600.2h2.6M149.1 598.9v2.6M102.1 646.0h2.6M103.4 644.7v2.6M79.5 668.0h2.6M80.8 666.7v2.6M132.0 616.1h2.6M133.3 614.8v2.6M120.5 627.0h2.6M121.8 625.7v2.6M113.5 634.7h2.6M114.8 633.4v2.6M90.5 656.9h2.6M91.8 655.6v2.6M107.2 640.0h2.6M108.5 638.7v2.6M144.0 604.6h2.6M145.3 603.3v2.6M81.7 666.1h2.6M83.0 664.8v2.6M132.2 615.6h2.6M133.5 614.3v2.6M115.0 632.7h2.6M116.3 631.4v2.6M78.0 669.4h2.6M79.3 668.1v2.6M125.1 623.0h2.6M126.4 621.7v2.6M106.6 640.7h2.6M107.9 639.4v2.6M92.3 655.5h2.6M93.6 654.2v2.6M91.6 655.5h2.6M92.9 654.2v2.6M164.2 584.1h2.6M165.5 582.8v2.6M109.4 638.4h2.6M110.7 637.1v2.6M145.3 602.8h2.6M146.6 601.5v2.6M100.8 646.9h2.6M102.1 645.6v2.6M103.8 643.9h2.6M105.1 642.6v2.6M127.4 620.2h2.6M128.7 618.9v2.6M122.4 625.4h2.6M123.7 624.1v2.6M171.9 575.9h2.6M173.2 574.6v2.6M176.4 571.0h2.6M177.7 569.7v2.6M87.9 659.6h2.6M89.2 658.3v2.6M166.6 580.7h2.6M167.9 579.4v2.6M162.3 585.4h2.6M163.6 584.1v2.6M107.5 640.5h2.6M108.8 639.2v2.6M70.6 677.0h2.6M71.9 675.7v2.6M123.0 625.5h2.6M124.3 624.2v2.6M171.5 575.9h2.6M172.8 574.6v2.6M123.8 624.5h2.6M125.1 623.2v2.6M83.6 663.9h2.6M84.9 662.6v2.6M136.7 611.3h2.6M138.0 610.0v2.6M133.3 614.2h2.6M134.6 612.9v2.6M96.2 651.5h2.6M97.5 650.2v2.6M124.0 624.2h2.6M125.3 622.9v2.6M119.0 628.9h2.6M120.3 627.6v2.6M105.1 642.8h2.6M106.4 641.5v2.6M145.9 601.9h2.6M147.2 600.6v2.6M95.8 651.8h2.6M97.1 650.5v2.6M124.3 623.7h2.6M125.6 622.4v2.6M166.5 581.9h2.6M167.8 580.6v2.6M89.8 657.5h2.6M91.1 656.2v2.6M149.3 598.3h2.6M150.6 597.0v2.6M145.4 602.4h2.6M146.7 601.1v2.6M159.0 588.6h2.6M160.3 587.3v2.6M168.9 579.8h2.6M170.2 578.5v2.6M116.3 631.8h2.6M117.6 630.5v2.6M77.8 670.5h2.6M79.1 669.2v2.6M141.8 606.3h2.6M143.1 605.0v2.6M83.3 664.0h2.6M84.6 662.7v2.6M176.5 571.6h2.6M177.8 570.3v2.6M104.6 643.2h2.6M105.9 641.9v2.6M89.6 657.9h2.6M90.9 656.6v2.6M85.4 661.9h2.6M86.7 660.6v2.6M101.2 646.9h2.6M102.5 645.6v2.6M85.7 662.1h2.6M87.0 660.8v2.6M89.2 658.7h2.6M90.5 657.4v2.6M102.3 645.3h2.6M103.6 644.0v2.6M120.2 627.6h2.6M121.5 626.3v2.6M116.1 632.2h2.6M117.4 630.9v2.6M170.6 577.2h2.6M171.9 575.9v2.6M119.4 628.6h2.6M120.7 627.3v2.6M84.1 664.1h2.6M85.4 662.8v2.6M86.8 661.5h2.6M88.1 660.2v2.6M173.2 575.0h2.6M174.5 573.7v2.6M111.8 635.8h2.6M113.1 634.5v2.6M106.5 641.6h2.6M107.8 640.3v2.6M143.0 604.7h2.6M144.3 603.4v2.6M162.0 586.0h2.6M163.3 584.7v2.6M130.6 617.9h2.6M131.9 616.6v2.6M147.2 600.7h2.6M148.5 599.4v2.6M106.3 640.9h2.6M107.6 639.6v2.6M111.4 635.8h2.6M112.7 634.5v2.6M115.0 632.7h2.6M116.3 631.4v2.6M140.3 608.0h2.6M141.6 606.7v2.6M148.0 600.1h2.6M149.3 598.8v2.6M107.8 639.9h2.6M109.1 638.6v2.6M160.6 587.4h2.6M161.9 586.1v2.6M141.4 606.0h2.6M142.7 604.7v2.6M105.3 643.0h2.6M106.6 641.7v2.6M111.7 635.9h2.6M113.0 634.6v2.6M88.2 660.1h2.6M89.5 658.8v2.6M155.3 593.1h2.6M156.6 591.8v2.6M71.0 676.6h2.6M72.3 675.3v2.6M122.1 626.1h2.6M123.4 624.8v2.6M107.7 640.4h2.6M109.0 639.1v2.6M125.8 621.9h2.6M127.1 620.6v2.6M168.9 578.8h2.6M170.2 577.5v2.6M104.1 643.4h2.6M105.4 642.1v2.6M109.9 637.4h2.6M111.2 636.1v2.6M96.2 651.2h2.6M97.5 649.9v2.6M108.2 639.3h2.6M109.5 638.0v2.6M167.3 580.8h2.6M168.6 579.5v2.6M126.6 621.2h2.6M127.9 619.9v2.6M157.4 590.8h2.6M158.7 589.5v2.6M85.5 662.2h2.6M86.8 660.9v2.6M89.1 658.6h2.6M90.4 657.3v2.6M74.6 673.2h2.6M75.9 671.9v2.6M92.8 654.8h2.6M94.1 653.5v2.6M74.4 673.3h2.6M75.7 672.0v2.6M146.6 601.9h2.6M147.9 600.6v2.6M167.1 581.2h2.6M168.4 579.9v2.6M168.1 579.7h2.6M169.4 578.4v2.6M78.0 670.1h2.6M79.3 668.8v2.6M89.0 658.6h2.6M90.3 657.3v2.6M149.4 598.7h2.6M150.7 597.4v2.6M78.1 669.4h2.6M79.4 668.1v2.6M162.9 585.0h2.6M164.2 583.7v2.6M173.9 573.6h2.6M175.2 572.3v2.6M72.4 675.5h2.6M73.7 674.2v2.6M70.5 677.3h2.6M71.8 676.0v2.6M144.9 602.8h2.6M146.2 601.5v2.6M85.7 662.0h2.6M87.0 660.7v2.6M87.6 659.8h2.6M88.9 658.5v2.6M173.2 574.4h2.6M174.5 573.1v2.6M107.5 640.7h2.6M108.8 639.4v2.6M110.5 637.2h2.6M111.8 635.9v2.6M95.7 652.2h2.6M97.0 650.9v2.6M176.6 572.3h2.6M177.9 571.0v2.6M144.8 603.2h2.6M146.1 601.9v2.6M84.8 663.2h2.6M86.1 661.9v2.6M106.2 641.6h2.6M107.5 640.3v2.6M125.6 622.1h2.6M126.9 620.8v2.6M142.2 606.0h2.6M143.5 604.7v2.6M154.0 594.0h2.6M155.3 592.7v2.6M130.3 616.9h2.6M131.6 615.6v2.6M133.5 614.6h2.6M134.8 613.3v2.6M104.4 642.8h2.6M105.7 641.5v2.6M161.7 586.8h2.6M163.0 585.5v2.6M167.3 580.4h2.6M168.6 579.1v2.6M87.1 660.6h2.6M88.4 659.3v2.6M109.7 638.1h2.6M111.0 636.8v2.6M155.2 592.7h2.6M156.5 591.4v2.6M153.4 594.4h2.6M154.7 593.1v2.6M154.7 593.1h2.6M156.0 591.8v2.6M113.0 634.6h2.6M114.3 633.3v2.6M147.0 600.5h2.6M148.3 599.2v2.6M112.9 635.7h2.6M114.2 634.4v2.6M168.8 578.9h2.6M170.1 577.6v2.6M134.8 612.9h2.6M136.1 611.6v2.6M97.5 650.6h2.6M98.8 649.3v2.6M166.3 581.8h2.6M167.6 580.5v2.6M157.0 590.3h2.6M158.3 589.0v2.6M175.6 572.2h2.6M176.9 570.9v2.6M150.2 597.4h2.6M151.5 596.1v2.6M96.5 651.1h2.6M97.8 649.8v2.6M161.1 586.6h2.6M162.4 585.3v2.6M121.1 626.6h2.6M122.4 625.3v2.6M77.5 671.0h2.6M78.8 669.7v2.6M169.1 578.8h2.6M170.4 577.5v2.6M150.6 597.1h2.6M151.9 595.8v2.6M130.6 617.7h2.6M131.9 616.4v2.6M114.4 633.2h2.6M115.7 631.9v2.6M169.7 578.8h2.6M171.0 577.5v2.6M79.5 668.6h2.6M80.8 667.3v2.6M98.4 649.9h2.6M99.7 648.6v2.6M116.3 632.0h2.6M117.6 630.7v2.6M146.9 600.9h2.6M148.2 599.6v2.6M138.8 609.6h2.6M140.1 608.3v2.6M78.5 668.7h2.6M79.8 667.4v2.6M91.4 656.4h2.6M92.7 655.1v2.6M139.1 608.7h2.6M140.4 607.4v2.6M168.1 580.1h2.6M169.4 578.8v2.6M170.7 577.6h2.6M172.0 576.3v2.6M130.2 617.7h2.6M131.5 616.4v2.6M155.9 592.0h2.6M157.2 590.7v2.6M161.7 585.9h2.6M163.0 584.6v2.6M111.9 636.3h2.6M113.2 635.0v2.6M81.0 666.7h2.6M82.3 665.4v2.6M149.6 598.6h2.6M150.9 597.3v2.6M74.2 674.0h2.6M75.5 672.7v2.6M175.1 572.3h2.6M176.4 571.0v2.6M82.3 665.3h2.6M83.6 664.0v2.6M137.2 610.5h2.6M138.5 609.2v2.6M156.7 591.4h2.6M158.0 590.1v2.6M71.7 675.9h2.6M73.0 674.6v2.6M160.5 587.4h2.6M161.8 586.1v2.6M165.3 583.0h2.6M166.6 581.7v2.6M119.1 628.8h2.6M120.4 627.5v2.6M146.1 601.7h2.6M147.4 600.4v2.6M169.2 578.4h2.6M170.5 577.1v2.6M88.5 659.7h2.6M89.8 658.4v2.6M81.4 666.8h2.6M82.7 665.5v2.6M88.2 659.3h2.6M89.5 658.0v2.6M85.9 661.8h2.6M87.2 660.5v2.6M168.7 578.6h2.6M170.0 577.3v2.6M95.3 652.5h2.6M96.6 651.2v2.6M167.2 580.8h2.6M168.5 579.5v2.6M135.0 613.6h2.6M136.3 612.3v2.6M173.5 574.4h2.6M174.8 573.1v2.6M125.7 621.6h2.6M127.0 620.3v2.6M160.8 586.9h2.6M162.1 585.6v2.6M167.3 580.6h2.6M168.6 579.3v2.6M155.4 592.2h2.6M156.7 590.9v2.6M93.1 654.2h2.6M94.4 652.9v2.6M118.6 629.6h2.6M119.9 628.3v2.6M167.9 579.2h2.6M169.2 577.9v2.6M85.5 662.1h2.6M86.8 660.8v2.6M111.9 635.5h2.6M113.2 634.2v2.6M86.5 661.5h2.6M87.8 660.2v2.6M121.8 626.3h2.6M123.1 625.0v2.6M97.1 650.4h2.6M98.4 649.1v2.6M151.0 597.2h2.6M152.3 595.9v2.6M132.3 615.9h2.6M133.6 614.6v2.6M108.4 640.1h2.6M109.7 638.8v2.6M172.4 575.7h2.6M173.7 574.4v2.6M131.3 616.5h2.6M132.6 615.2v2.6M172.9 574.7h2.6M174.2 573.4v2.6M102.4 645.7h2.6M103.7 644.4v2.6M71.3 676.5h2.6M72.6 675.2v2.6M99.1 648.9h2.6M100.4 647.6v2.6M136.1 611.0h2.6M137.4 609.7v2.6M142.4 605.2h2.6M143.7 603.9v2.6M107.7 640.6h2.6M109.0 639.3v2.6M127.0 620.7h2.6M128.3 619.4v2.6M161.7 586.1h2.6M163.0 584.8v2.6M133.6 613.9h2.6M134.9 612.6v2.6M100.9 647.2h2.6M102.2 645.9v2.6M173.7 574.2h2.6M175.0 572.9v2.6M75.4 672.8h2.6M76.7 671.5v2.6M90.5 657.3h2.6M91.8 656.0v2.6M123.5 624.9h2.6M124.8 623.6v2.6M141.0 607.3h2.6M142.3 606.0v2.6M142.9 606.0h2.6M144.2 604.7v2.6M141.5 605.9h2.6M142.8 604.6v2.6M145.6 602.4h2.6M146.9 601.1v2.6M114.4 633.4h2.6M115.7 632.1v2.6M173.2 574.5h2.6M174.5 573.2v2.6M69.3 678.8h2.6M70.6 677.5v2.6M113.5 634.8h2.6M114.8 633.5v2.6M157.5 590.2h2.6M158.8 588.9v2.6M69.6 678.2h2.6M70.9 676.9v2.6M158.6 589.5h2.6M159.9 588.2v2.6M79.3 668.7h2.6M80.6 667.4v2.6M163.6 584.2h2.6M164.9 582.9v2.6M123.9 623.5h2.6M125.2 622.2v2.6M112.5 636.1h2.6M113.8 634.8v2.6M144.1 604.4h2.6M145.4 603.1v2.6M174.7 573.4h2.6M176.0 572.1v2.6M80.1 667.6h2.6M81.4 666.3v2.6M84.1 663.4h2.6M85.4 662.1v2.6M107.4 639.9h2.6M108.7 638.6v2.6M175.6 571.6h2.6M176.9 570.3v2.6M175.8 571.8h2.6M177.1 570.5v2.6M85.5 662.0h2.6M86.8 660.7v2.6M146.8 600.8h2.6M148.1 599.5v2.6M165.8 582.0h2.6M167.1 580.7v2.6M95.9 652.0h2.6M97.2 650.7v2.6M84.4 663.5h2.6M85.7 662.2v2.6M132.0 615.9h2.6M133.3 614.6v2.6M122.6 625.0h2.6M123.9 623.7v2.6M130.3 617.2h2.6M131.6 615.9v2.6M127.1 620.6h2.6M128.4 619.3v2.6M70.0 678.1h2.6M71.3 676.8v2.6M93.9 654.0h2.6M95.2 652.7v2.6M150.3 597.6h2.6M151.6 596.3v2.6M94.7 653.8h2.6M96.0 652.5v2.6M78.0 669.4h2.6M79.3 668.1v2.6M104.6 643.3h2.6M105.9 642.0v2.6M151.2 596.8h2.6M152.5 595.5v2.6M159.0 589.4h2.6M160.3 588.1v2.6M116.9 630.2h2.6M118.2 628.9v2.6M133.7 614.2h2.6M135.0 612.9v2.6M87.8 660.1h2.6M89.1 658.8v2.6M104.2 643.7h2.6M105.5 642.4v2.6M77.7 669.9h2.6M79.0 668.6v2.6M101.5 646.0h2.6M102.8 644.7v2.6M123.8 624.2h2.6M125.1 622.9v2.6M84.9 662.8h2.6M86.2 661.5v2.6M101.1 646.3h2.6M102.4 645.0v2.6M145.1 603.4h2.6M146.4 602.1v2.6M114.7 633.2h2.6M116.0 631.9v2.6M81.5 666.4h2.6M82.8 665.1v2.6M160.0 587.7h2.6M161.3 586.4v2.6M135.9 611.8h2.6M137.2 610.5v2.6M74.3 673.1h2.6M75.6 671.8v2.6M79.3 668.5h2.6M80.6 667.2v2.6M148.7 599.1h2.6M150.0 597.8v2.6M86.2 661.2h2.6M87.5 659.9v2.6M140.6 606.8h2.6M141.9 605.5v2.6M78.2 669.8h2.6M79.5 668.5v2.6M166.2 582.0h2.6M167.5 580.7v2.6M111.4 636.4h2.6M112.7 635.1v2.6M89.9 658.3h2.6M91.2 657.0v2.6M176.1 572.1h2.6M177.4 570.8v2.6M104.5 643.3h2.6M105.8 642.0v2.6M92.6 655.7h2.6M93.9 654.4v2.6M111.6 636.1h2.6M112.9 634.8v2.6M84.9 662.5h2.6M86.2 661.2v2.6M75.3 671.4h2.6M76.6 670.1v2.6M167.8 579.8h2.6M169.1 578.5v2.6M78.8 668.6h2.6M80.1 667.3v2.6M89.2 658.6h2.6M90.5 657.3v2.6M140.5 606.7h2.6M141.8 605.4v2.6M99.8 648.0h2.6M101.1 646.7v2.6M169.6 578.5h2.6M170.9 577.2v2.6M83.3 664.1h2.6M84.6 662.8v2.6M120.8 627.4h2.6M122.1 626.1v2.6M144.0 604.2h2.6M145.3 602.9v2.6M130.9 617.0h2.6M132.2 615.7v2.6M145.7 602.1h2.6M147.0 600.8v2.6M155.2 593.0h2.6M156.5 591.7v2.6M74.1 673.9h2.6M75.4 672.6v2.6M131.4 616.4h2.6M132.7 615.1v2.6M143.4 604.1h2.6M144.7 602.8v2.6M107.9 639.8h2.6M109.2 638.5v2.6M174.1 573.5h2.6M175.4 572.2v2.6M115.7 632.2h2.6M117.0 630.9v2.6M146.9 600.9h2.6M148.2 599.6v2.6M161.9 585.9h2.6M163.2 584.6v2.6M162.7 585.1h2.6M164.0 583.8v2.6M146.1 602.1h2.6M147.4 600.8v2.6M141.1 607.0h2.6M142.4 605.7v2.6M68.7 679.4h2.6M70.0 678.1v2.6M163.1 584.9h2.6M164.4 583.6v2.6M176.1 571.5h2.6M177.4 570.2v2.6M153.8 594.8h2.6M155.1 593.5v2.6M161.6 585.5h2.6M162.9 584.2v2.6M137.8 609.6h2.6M139.1 608.3v2.6M170.9 576.8h2.6M172.2 575.5v2.6M124.4 623.4h2.6M125.7 622.1v2.6M120.5 627.2h2.6M121.8 625.9v2.6M123.7 624.4h2.6M125.0 623.1v2.6M132.0 615.9h2.6M133.3 614.6v2.6M122.9 625.3h2.6M124.2 624.0v2.6M122.6 624.8h2.6M123.9 623.5v2.6M88.4 659.6h2.6M89.7 658.3v2.6M125.8 621.9h2.6M127.1 620.6v2.6M144.8 603.7h2.6M146.1 602.4v2.6M152.8 594.9h2.6M154.1 593.6v2.6M168.6 579.3h2.6M169.9 578.0v2.6M123.5 624.2h2.6M124.8 622.9v2.6M111.9 636.1h2.6M113.2 634.8v2.6M145.1 602.9h2.6M146.4 601.6v2.6M147.3 600.2h2.6M148.6 598.9v2.6M91.1 656.4h2.6M92.4 655.1v2.6M101.4 646.5h2.6M102.7 645.2v2.6M107.2 640.7h2.6M108.5 639.4v2.6M90.4 656.8h2.6M91.7 655.5v2.6M93.6 654.3h2.6M94.9 653.0v2.6M141.3 606.1h2.6M142.6 604.8v2.6M137.0 610.7h2.6M138.3 609.4v2.6M74.6 672.9h2.6M75.9 671.6v2.6M107.7 641.0h2.6M109.0 639.7v2.6M125.2 622.8h2.6M126.5 621.5v2.6M141.2 607.3h2.6M142.5 606.0v2.6M93.0 654.7h2.6M94.3 653.4v2.6M104.9 643.3h2.6M106.2 642.0v2.6M148.3 599.9h2.6M149.6 598.6v2.6M121.0 626.7h2.6M122.3 625.4v2.6M121.1 626.9h2.6M122.4 625.6v2.6M145.7 602.7h2.6M147.0 601.4v2.6M162.1 585.4h2.6M163.4 584.1v2.6M115.7 631.9h2.6M117.0 630.6v2.6M173.9 574.1h2.6M175.2 572.8v2.6M88.1 659.8h2.6M89.4 658.5v2.6M168.3 579.8h2.6M169.6 578.5v2.6M160.5 587.1h2.6M161.8 585.8v2.6M165.1 583.4h2.6M166.4 582.1v2.6M114.6 633.4h2.6M115.9 632.1v2.6M109.1 639.3h2.6M110.4 638.0v2.6M81.3 666.8h2.6M82.6 665.5v2.6M111.2 636.4h2.6M112.5 635.1v2.6M132.7 615.1h2.6M134.0 613.8v2.6M110.5 637.4h2.6M111.8 636.1v2.6M109.5 638.7h2.6M110.8 637.4v2.6M150.8 597.1h2.6M152.1 595.8v2.6M104.2 643.4h2.6M105.5 642.1v2.6M88.4 659.0h2.6M89.7 657.7v2.6M70.2 677.3h2.6M71.5 676.0v2.6M99.8 647.6h2.6M101.1 646.3v2.6M90.1 658.1h2.6M91.4 656.8v2.6M93.2 654.0h2.6M94.5 652.7v2.6M131.6 616.0h2.6M132.9 614.7v2.6M72.0 675.6h2.6M73.3 674.3v2.6M103.3 644.2h2.6M104.6 642.9v2.6M123.3 624.2h2.6M124.6 622.9v2.6M81.5 666.4h2.6M82.8 665.1v2.6M113.5 634.6h2.6M114.8 633.3v2.6M107.6 640.3h2.6M108.9 639.0v2.6M175.1 572.7h2.6M176.4 571.4v2.6M94.3 653.6h2.6M95.6 652.3v2.6M131.8 615.9h2.6M133.1 614.6v2.6M109.4 639.0h2.6M110.7 637.7v2.6M156.2 591.9h2.6M157.5 590.6v2.6M97.4 650.5h2.6M98.7 649.2v2.6M175.0 572.5h2.6M176.3 571.2v2.6M74.0 673.6h2.6M75.3 672.3v2.6M136.0 612.0h2.6M137.3 610.7v2.6M152.7 595.5h2.6M154.0 594.2v2.6M110.0 637.5h2.6M111.3 636.2v2.6M155.0 593.1h2.6M156.3 591.8v2.6M149.9 598.1h2.6M151.2 596.8v2.6M116.0 632.0h2.6M117.3 630.7v2.6M118.3 629.6h2.6M119.6 628.3v2.6M91.3 656.6h2.6M92.6 655.3v2.6M78.0 669.7h2.6M79.3 668.4v2.6M108.0 639.4h2.6M109.3 638.1v2.6M99.6 648.3h2.6M100.9 647.0v2.6M143.8 603.1h2.6M145.1 601.8v2.6M86.5 661.2h2.6M87.8 659.9v2.6M123.4 624.1h2.6M124.7 622.8v2.6M161.6 586.3h2.6M162.9 585.0v2.6M91.0 657.0h2.6M92.3 655.7v2.6M104.4 643.1h2.6M105.7 641.8v2.6M134.7 612.9h2.6M136.0 611.6v2.6M77.3 670.4h2.6M78.6 669.1v2.6M171.7 576.1h2.6M173.0 574.8v2.6M139.4 608.5h2.6M140.7 607.2v2.6M125.8 621.9h2.6M127.1 620.6v2.6M160.0 588.2h2.6M161.3 586.9v2.6M104.5 642.5h2.6M105.8 641.2v2.6M107.5 640.7h2.6M108.8 639.4v2.6M111.9 636.2h2.6M113.2 634.9v2.6M140.5 607.8h2.6M141.8 606.5v2.6M116.5 631.1h2.6M117.8 629.8v2.6M153.9 594.1h2.6M155.2 592.8v2.6M117.8 630.1h2.6M119.1 628.8v2.6M147.6 600.0h2.6M148.9 598.7v2.6M71.4 676.6h2.6M72.7 675.3v2.6M142.6 606.1h2.6M143.9 604.8v2.6M141.3 606.2h2.6M142.6 604.9v2.6M89.6 658.2h2.6M90.9 656.9v2.6M86.8 660.7h2.6M88.1 659.4v2.6M96.0 651.4h2.6M97.3 650.1v2.6M138.2 609.9h2.6M139.5 608.6v2.6M87.0 661.2h2.6M88.3 659.9v2.6M123.3 624.3h2.6M124.6 623.0v2.6M82.9 665.3h2.6M84.2 664.0v2.6M120.5 627.2h2.6M121.8 625.9v2.6M101.6 646.1h2.6M102.9 644.8v2.6M141.5 605.8h2.6M142.8 604.5v2.6M152.7 595.0h2.6M154.0 593.7v2.6M130.2 617.7h2.6M131.5 616.4v2.6M158.4 589.9h2.6M159.7 588.6v2.6M129.6 618.2h2.6M130.9 616.9v2.6M116.6 630.8h2.6M117.9 629.5v2.6M173.5 574.7h2.6M174.8 573.4v2.6M79.5 667.8h2.6M80.8 666.5v2.6M134.9 613.7h2.6M136.2 612.4v2.6M173.7 574.4h2.6M175.0 573.1v2.6M147.1 600.7h2.6M148.4 599.4v2.6M87.7 660.7h2.6M89.0 659.4v2.6M157.9 589.9h2.6M159.2 588.6v2.6M164.7 583.2h2.6M166.0 581.9v2.6M116.0 632.1h2.6M117.3 630.8v2.6M125.7 621.6h2.6M127.0 620.3v2.6M161.8 586.3h2.6M163.1 585.0v2.6M105.3 643.3h2.6M106.6 642.0v2.6M70.9 676.7h2.6M72.2 675.4v2.6M76.0 671.8h2.6M77.3 670.5v2.6M135.9 612.1h2.6M137.2 610.8v2.6M100.0 648.0h2.6M101.3 646.7v2.6M98.7 649.7h2.6M100.0 648.4v2.6M162.4 585.2h2.6M163.7 583.9v2.6M175.3 572.1h2.6M176.6 570.8v2.6M98.7 649.3h2.6M100.0 648.0v2.6M168.8 579.3h2.6M170.1 578.0v2.6M92.6 654.7h2.6M93.9 653.4v2.6M78.3 669.9h2.6M79.6 668.6v2.6M134.5 613.2h2.6M135.8 611.9v2.6M161.8 586.4h2.6M163.1 585.1v2.6M118.7 629.5h2.6M120.0 628.2v2.6M153.3 594.3h2.6M154.6 593.0v2.6M171.9 576.0h2.6M173.2 574.7v2.6M98.6 649.1h2.6M99.9 647.8v2.6M94.7 652.4h2.6M96.0 651.1v2.6M143.5 604.2h2.6M144.8 602.9v2.6M91.8 656.1h2.6M93.1 654.8v2.6M171.5 576.1h2.6M172.8 574.8v2.6M122.7 625.4h2.6M124.0 624.1v2.6M71.0 676.7h2.6M72.3 675.4v2.6M162.9 584.4h2.6M164.2 583.1v2.6M106.9 641.0h2.6M108.2 639.7v2.6M147.8 600.4h2.6M149.1 599.1v2.6M139.4 608.1h2.6M140.7 606.8v2.6M85.0 663.0h2.6M86.3 661.7v2.6M167.6 579.9h2.6M168.9 578.6v2.6M153.6 594.4h2.6M154.9 593.1v2.6M89.6 658.1h2.6M90.9 656.8v2.6M156.1 591.4h2.6M157.4 590.1v2.6M78.3 669.3h2.6M79.6 668.0v2.6M120.7 627.6h2.6M122.0 626.3v2.6M108.9 638.7h2.6M110.2 637.4v2.6M115.5 632.2h2.6M116.8 630.9v2.6M68.4 679.4h2.6M69.7 678.1v2.6M158.2 589.5h2.6M159.5 588.2v2.6M127.9 619.6h2.6M129.2 618.3v2.6M81.6 665.9h2.6M82.9 664.6v2.6M152.4 595.3h2.6M153.7 594.0v2.6M153.8 594.8h2.6M155.1 593.5v2.6M141.8 606.2h2.6M143.1 604.9v2.6M141.0 606.5h2.6M142.3 605.2v2.6M171.6 576.4h2.6M172.9 575.1v2.6M112.9 635.0h2.6M114.2 633.7v2.6M123.5 624.5h2.6M124.8 623.2v2.6M162.3 585.8h2.6M163.6 584.5v2.6M110.3 637.6h2.6M111.6 636.3v2.6M130.9 617.1h2.6M132.2 615.8v2.6M88.5 658.8h2.6M89.8 657.5v2.6M115.9 632.0h2.6M117.2 630.7v2.6M122.8 625.0h2.6M124.1 623.7v2.6M169.0 578.8h2.6M170.3 577.5v2.6M90.1 658.3h2.6M91.4 657.0v2.6M130.1 617.9h2.6M131.4 616.6v2.6M126.6 621.4h2.6M127.9 620.1v2.6M101.7 646.7h2.6M103.0 645.4v2.6M147.1 600.9h2.6M148.4 599.6v2.6M138.7 609.6h2.6M140.0 608.3v2.6M108.4 639.3h2.6M109.7 638.0v2.6M138.0 609.9h2.6M139.3 608.6v2.6M143.3 604.8h2.6M144.6 603.5v2.6M147.9 600.4h2.6M149.2 599.1v2.6M79.3 668.8h2.6M80.6 667.5v2.6M73.3 673.8h2.6M74.6 672.5v2.6M95.2 652.8h2.6M96.5 651.5v2.6M77.6 670.3h2.6M78.9 669.0v2.6M121.2 626.6h2.6M122.5 625.3v2.6M118.4 629.8h2.6M119.7 628.5v2.6M108.5 639.4h2.6M109.8 638.1v2.6M80.3 667.0h2.6M81.6 665.7v2.6M92.6 655.5h2.6M93.9 654.2v2.6M79.9 667.9h2.6M81.2 666.6v2.6M143.9 604.2h2.6M145.2 602.9v2.6M179.7 567.0h2.6M181.0 565.7v2.6M177.3 570.6h2.6M178.6 569.3v2.6M192.8 554.8h2.6M194.1 553.5v2.6M183.5 564.4h2.6M184.8 563.1v2.6M193.3 554.8h2.6M194.6 553.5v2.6M185.4 562.2h2.6M186.7 560.9v2.6M190.2 557.9h2.6M191.5 556.6v2.6M191.1 556.7h2.6M192.4 555.4v2.6M183.8 564.2h2.6M185.1 562.9v2.6M192.0 555.5h2.6M193.3 554.2v2.6M186.6 561.6h2.6M187.9 560.3v2.6M184.6 563.1h2.6M185.9 561.8v2.6M186.3 561.5h2.6M187.6 560.2v2.6M191.9 556.3h2.6M193.2 555.0v2.6M192.1 556.0h2.6M193.4 554.7v2.6M194.0 554.4h2.6M195.3 553.1v2.6M187.7 560.3h2.6M189.0 559.0v2.6M191.3 556.5h2.6M192.6 555.2v2.6M181.9 566.0h2.6M183.2 564.7v2.6M189.1 558.8h2.6M190.4 557.5v2.6M187.8 559.9h2.6M189.1 558.6v2.6M188.1 559.8h2.6M189.4 558.5v2.6M184.3 563.5h2.6M185.6 562.2v2.6M182.2 565.5h2.6M183.5 564.2v2.6M178.8 568.9h2.6M180.1 567.6v2.6M195.9 549.2h2.6M197.2 547.9v2.6M196.7 548.5h2.6M198.0 547.2v2.6M203.5 542.8h2.6M204.8 541.5v2.6" stroke="#0c2cff" stroke-width="1.3" fill="none"/>
<path d="M365.0 599.7h3.2M366.6 598.1v3.2M347.1 621.3h3.2M348.7 619.7v3.2M358.8 606.9h3.2M360.4 605.3v3.2M368.3 596.4h3.2M369.9 594.8v3.2M332.9 632.9h3.2M334.5 631.3v3.2M368.2 597.1h3.2M369.8 595.5v3.2M349.4 616.8h3.2M351.0 615.2v3.2M357.0 610.0h3.2M358.6 608.4v3.2M352.3 614.6h3.2M353.9 613.0v3.2M346.0 620.8h3.2M347.6 619.2v3.2M380.8 583.3h3.2M382.4 581.7v3.2M342.0 624.6h3.2M343.6 623.0v3.2M381.0 583.3h3.2M382.6 581.7v3.2M375.3 592.3h3.2M376.9 590.7v3.2M350.4 615.1h3.2M352.0 613.5v3.2M334.3 629.8h3.2M335.9 628.2v3.2M329.7 632.4h3.2M331.3 630.8v3.2M340.6 625.9h3.2M342.2 624.3v3.2M353.0 612.6h3.2M354.6 611.0v3.2M336.6 627.4h3.2M338.2 625.8v3.2M355.4 606.4h3.2M357.0 604.8v3.2M378.6 588.6h3.2M380.2 587.0v3.2M341.1 622.7h3.2M342.7 621.1v3.2M330.5 634.2h3.2M332.1 632.6v3.2M353.7 612.9h3.2M355.3 611.3v3.2M360.4 604.2h3.2M362.0 602.6v3.2M369.3 599.6h3.2M370.9 598.0v3.2M335.7 631.2h3.2M337.3 629.6v3.2M345.3 620.0h3.2M346.9 618.4v3.2M349.2 615.9h3.2M350.8 614.3v3.2M335.7 629.4h3.2M337.3 627.8v3.2M337.2 628.2h3.2M338.8 626.6v3.2M341.4 624.6h3.2M343.0 623.0v3.2M339.7 626.0h3.2M341.3 624.4v3.2M358.1 609.3h3.2M359.7 607.7v3.2M352.8 615.0h3.2M354.4 613.4v3.2M342.8 622.8h3.2M344.4 621.2v3.2M333.2 635.5h3.2M334.8 633.9v3.2M370.9 597.8h3.2M372.5 596.2v3.2M352.3 615.4h3.2M353.9 613.8v3.2M361.7 604.2h3.2M363.3 602.6v3.2M332.2 632.6h3.2M333.8 631.0v3.2M365.5 597.6h3.2M367.1 596.0v3.2M343.4 620.6h3.2M345.0 619.0v3.2M356.3 609.8h3.2M357.9 608.2v3.2M345.1 621.9h3.2M346.7 620.3v3.2M360.6 604.4h3.2M362.2 602.8v3.2M364.5 602.2h3.2M366.1 600.6v3.2M334.0 632.1h3.2M335.6 630.5v3.2M340.5 623.0h3.2M342.1 621.4v3.2M334.2 629.1h3.2M335.8 627.5v3.2M368.0 597.3h3.2M369.6 595.7v3.2M347.8 614.6h3.2M349.4 613.0v3.2M344.8 622.5h3.2M346.4 620.9v3.2M384.3 585.2h3.2M385.9 583.6v3.2M378.6 583.6h3.2M380.2 582.0v3.2M343.4 622.9h3.2M345.0 621.3v3.2M339.0 624.2h3.2M340.6 622.6v3.2M382.2 581.4h3.2M383.8 579.8v3.2M358.0 604.9h3.2M359.6 603.3v3.2M333.7 632.4h3.2M335.3 630.8v3.2M342.7 621.9h3.2M344.3 620.3v3.2M362.8 603.3h3.2M364.4 601.7v3.2M368.6 598.6h3.2M370.2 597.0v3.2M334.0 631.0h3.2M335.6 629.4v3.2M354.5 610.3h3.2M356.1 608.7v3.2M364.1 601.1h3.2M365.7 599.5v3.2M339.1 625.8h3.2M340.7 624.2v3.2M380.4 583.6h3.2M382.0 582.0v3.2M349.9 616.6h3.2M351.5 615.0v3.2M366.7 598.6h3.2M368.3 597.0v3.2M349.6 613.3h3.2M351.2 611.7v3.2M359.4 605.0h3.2M361.0 603.4v3.2M380.5 584.9h3.2M382.1 583.3v3.2M381.8 584.5h3.2M383.4 582.9v3.2M351.6 608.5h3.2M353.2 606.9v3.2M374.6 591.0h3.2M376.2 589.4v3.2M369.2 599.0h3.2M370.8 597.4v3.2M380.8 586.4h3.2M382.4 584.8v3.2M342.0 620.4h3.2M343.6 618.8v3.2M371.0 593.0h3.2M372.6 591.4v3.2M349.1 616.5h3.2M350.7 614.9v3.2M373.3 594.0h3.2M374.9 592.4v3.2M364.0 598.7h3.2M365.6 597.1v3.2M338.9 627.8h3.2M340.5 626.2v3.2M341.4 625.8h3.2M343.0 624.2v3.2M347.7 618.5h3.2M349.3 616.9v3.2M368.2 597.8h3.2M369.8 596.2v3.2M341.6 624.7h3.2M343.2 623.1v3.2M374.4 589.7h3.2M376.0 588.1v3.2M345.3 619.9h3.2M346.9 618.3v3.2M330.5 636.6h3.2M332.1 635.0v3.2M352.5 612.7h3.2M354.1 611.1v3.2M375.8 589.8h3.2M377.4 588.2v3.2M351.5 618.2h3.2M353.1 616.6v3.2M341.4 624.0h3.2M343.0 622.4v3.2M343.1 623.0h3.2M344.7 621.4v3.2M367.6 598.0h3.2M369.2 596.4v3.2M359.9 604.2h3.2M361.5 602.6v3.2M344.5 620.8h3.2M346.1 619.2v3.2M379.9 582.0h3.2M381.5 580.4v3.2M379.0 590.2h3.2M380.6 588.6v3.2M335.9 629.7h3.2M337.5 628.1v3.2M367.4 597.7h3.2M369.0 596.1v3.2M372.6 592.1h3.2M374.2 590.5v3.2M372.1 591.3h3.2M373.7 589.7v3.2M336.7 627.4h3.2M338.3 625.8v3.2M350.5 614.6h3.2M352.1 613.0v3.2M339.1 625.7h3.2M340.7 624.1v3.2M370.2 593.1h3.2M371.8 591.5v3.2M361.5 600.8h3.2M363.1 599.2v3.2M372.0 591.2h3.2M373.6 589.6v3.2M358.9 604.8h3.2M360.5 603.2v3.2M350.9 618.0h3.2M352.5 616.4v3.2M333.9 630.2h3.2M335.5 628.6v3.2M380.7 587.0h3.2M382.3 585.4v3.2M363.0 600.3h3.2M364.6 598.7v3.2M369.5 592.5h3.2M371.1 590.9v3.2M351.8 610.8h3.2M353.4 609.2v3.2M346.6 619.5h3.2M348.2 617.9v3.2M333.8 629.3h3.2M335.4 627.7v3.2M341.4 621.9h3.2M343.0 620.3v3.2M366.4 599.7h3.2M368.0 598.1v3.2M336.1 628.7h3.2M337.7 627.1v3.2M354.7 608.6h3.2M356.3 607.0v3.2M384.9 584.1h3.2M386.5 582.5v3.2M353.5 612.5h3.2M355.1 610.9v3.2M337.3 625.8h3.2M338.9 624.2v3.2M381.9 583.9h3.2M383.5 582.3v3.2M353.9 612.1h3.2M355.5 610.5v3.2M329.1 634.5h3.2M330.7 632.9v3.2M380.9 584.8h3.2M382.5 583.2v3.2M352.3 614.8h3.2M353.9 613.2v3.2M359.6 603.4h3.2M361.2 601.8v3.2M341.6 623.2h3.2M343.2 621.6v3.2M351.4 615.9h3.2M353.0 614.3v3.2M363.3 600.6h3.2M364.9 599.0v3.2M361.9 603.5h3.2M363.5 601.9v3.2M383.3 582.6h3.2M384.9 581.0v3.2M330.4 636.5h3.2M332.0 634.9v3.2M334.9 632.1h3.2M336.5 630.5v3.2M374.7 591.3h3.2M376.3 589.7v3.2M368.4 600.1h3.2M370.0 598.5v3.2M360.5 604.3h3.2M362.1 602.7v3.2M361.3 605.7h3.2M362.9 604.1v3.2M343.3 622.3h3.2M344.9 620.7v3.2M363.7 603.7h3.2M365.3 602.1v3.2M349.8 616.4h3.2M351.4 614.8v3.2M355.4 609.4h3.2M357.0 607.8v3.2M368.9 596.9h3.2M370.5 595.3v3.2M372.1 592.6h3.2M373.7 591.0v3.2M361.3 603.7h3.2M362.9 602.1v3.2M377.7 590.6h3.2M379.3 589.0v3.2M331.4 633.8h3.2M333.0 632.2v3.2M376.3 588.4h3.2M377.9 586.8v3.2M378.3 585.9h3.2M379.9 584.3v3.2M374.3 592.1h3.2M375.9 590.5v3.2M359.9 604.7h3.2M361.5 603.1v3.2M349.2 615.4h3.2M350.8 613.8v3.2M363.8 604.3h3.2M365.4 602.7v3.2M345.1 616.5h3.2M346.7 614.9v3.2M359.2 605.1h3.2M360.8 603.5v3.2M376.2 584.4h3.2M377.8 582.8v3.2M329.5 633.7h3.2M331.1 632.1v3.2M352.7 610.1h3.2M354.3 608.5v3.2M381.1 583.4h3.2M382.7 581.8v3.2M361.6 601.4h3.2M363.2 599.8v3.2M358.1 607.6h3.2M359.7 606.0v3.2M367.4 598.3h3.2M369.0 596.7v3.2M346.3 619.0h3.2M347.9 617.4v3.2M378.0 590.3h3.2M379.6 588.7v3.2M331.2 635.2h3.2M332.8 633.6v3.2M364.4 601.4h3.2M366.0 599.8v3.2M349.1 615.1h3.2M350.7 613.5v3.2M341.0 623.8h3.2M342.6 622.2v3.2M360.9 602.5h3.2M362.5 600.9v3.2M344.9 616.9h3.2M346.5 615.3v3.2M370.2 593.0h3.2M371.8 591.4v3.2M380.7 584.8h3.2M382.3 583.2v3.2M351.0 616.5h3.2M352.6 614.9v3.2M348.0 617.8h3.2M349.6 616.2v3.2M358.8 605.6h3.2M360.4 604.0v3.2M371.2 594.6h3.2M372.8 593.0v3.2M343.6 621.6h3.2M345.2 620.0v3.2M356.2 610.1h3.2M357.8 608.5v3.2M374.4 590.6h3.2M376.0 589.0v3.2M348.7 613.0h3.2M350.3 611.4v3.2M331.9 632.3h3.2M333.5 630.7v3.2M347.1 618.8h3.2M348.7 617.2v3.2M345.9 620.3h3.2M347.5 618.7v3.2M366.6 598.0h3.2M368.2 596.4v3.2M372.3 592.7h3.2M373.9 591.1v3.2M357.5 609.9h3.2M359.1 608.3v3.2M374.8 593.1h3.2M376.4 591.5v3.2M342.2 626.1h3.2M343.8 624.5v3.2M340.9 623.4h3.2M342.5 621.8v3.2M330.1 637.4h3.2M331.7 635.8v3.2M333.1 629.9h3.2M334.7 628.3v3.2M370.8 595.0h3.2M372.4 593.4v3.2M373.0 590.1h3.2M374.6 588.5v3.2M381.7 582.2h3.2M383.3 580.6v3.2M380.4 587.9h3.2M382.0 586.3v3.2M345.5 618.9h3.2M347.1 617.3v3.2M373.9 589.2h3.2M375.5 587.6v3.2M359.7 605.5h3.2M361.3 603.9v3.2M359.1 607.6h3.2M360.7 606.0v3.2M337.5 630.2h3.2M339.1 628.6v3.2M340.8 621.9h3.2M342.4 620.3v3.2M366.6 598.4h3.2M368.2 596.8v3.2M370.9 593.8h3.2M372.5 592.2v3.2M370.5 594.7h3.2M372.1 593.1v3.2M344.7 621.5h3.2M346.3 619.9v3.2M369.3 593.0h3.2M370.9 591.4v3.2M338.0 628.0h3.2M339.6 626.4v3.2M333.8 629.6h3.2M335.4 628.0v3.2M339.2 629.0h3.2M340.8 627.4v3.2M333.0 632.4h3.2M334.6 630.8v3.2M364.9 599.8h3.2M366.5 598.2v3.2M333.6 631.9h3.2M335.2 630.3v3.2M377.7 590.3h3.2M379.3 588.7v3.2M351.0 614.0h3.2M352.6 612.4v3.2M347.6 618.0h3.2M349.2 616.4v3.2M342.5 623.6h3.2M344.1 622.0v3.2M370.3 592.6h3.2M371.9 591.0v3.2M357.7 607.4h3.2M359.3 605.8v3.2M349.5 615.1h3.2M351.1 613.5v3.2M344.6 620.2h3.2M346.2 618.6v3.2M342.0 626.1h3.2M343.6 624.5v3.2M346.3 618.4h3.2M347.9 616.8v3.2M365.3 603.4h3.2M366.9 601.8v3.2M353.7 608.9h3.2M355.3 607.3v3.2M381.3 586.8h3.2M382.9 585.2v3.2M351.9 610.5h3.2M353.5 608.9v3.2M342.2 621.8h3.2M343.8 620.2v3.2M343.8 623.2h3.2M345.4 621.6v3.2M371.3 595.3h3.2M372.9 593.7v3.2M335.1 625.5h3.2M336.7 623.9v3.2M356.2 611.4h3.2M357.8 609.8v3.2M350.7 616.6h3.2M352.3 615.0v3.2M347.9 614.5h3.2M349.5 612.9v3.2M334.8 628.8h3.2M336.4 627.2v3.2M378.0 585.3h3.2M379.6 583.7v3.2M364.5 600.2h3.2M366.1 598.6v3.2M345.6 621.7h3.2M347.2 620.1v3.2M351.4 610.4h3.2M353.0 608.8v3.2M378.5 587.6h3.2M380.1 586.0v3.2M377.1 584.0h3.2M378.7 582.4v3.2M336.8 629.1h3.2M338.4 627.5v3.2M377.9 585.4h3.2M379.5 583.8v3.2M350.1 612.6h3.2M351.7 611.0v3.2M384.4 584.3h3.2M386.0 582.7v3.2M373.7 592.2h3.2M375.3 590.6v3.2M349.6 616.4h3.2M351.2 614.8v3.2M369.3 595.1h3.2M370.9 593.5v3.2M353.9 610.5h3.2M355.5 608.9v3.2M372.7 593.3h3.2M374.3 591.7v3.2M370.7 598.7h3.2M372.3 597.1v3.2M342.3 625.6h3.2M343.9 624.0v3.2M348.4 615.1h3.2M350.0 613.5v3.2M377.9 588.7h3.2M379.5 587.1v3.2M379.7 584.6h3.2M381.3 583.0v3.2M334.2 630.0h3.2M335.8 628.4v3.2M331.6 631.5h3.2M333.2 629.9v3.2M353.1 612.0h3.2M354.7 610.4v3.2M381.6 582.4h3.2M383.2 580.8v3.2M352.1 614.1h3.2M353.7 612.5v3.2M339.4 628.1h3.2M341.0 626.5v3.2M358.0 606.5h3.2M359.6 604.9v3.2M352.1 613.3h3.2M353.7 611.7v3.2M356.5 610.4h3.2M358.1 608.8v3.2M354.3 613.3h3.2M355.9 611.7v3.2M340.1 625.0h3.2M341.7 623.4v3.2M332.3 633.9h3.2M333.9 632.3v3.2M372.1 594.6h3.2M373.7 593.0v3.2M377.4 588.3h3.2M379.0 586.7v3.2M354.4 613.9h3.2M356.0 612.3v3.2M357.9 607.0h3.2M359.5 605.4v3.2M332.5 632.7h3.2M334.1 631.1v3.2M364.9 599.9h3.2M366.5 598.3v3.2M378.1 585.8h3.2M379.7 584.2v3.2M373.4 591.8h3.2M375.0 590.2v3.2M359.3 606.7h3.2M360.9 605.1v3.2M364.5 600.9h3.2M366.1 599.3v3.2M355.7 610.2h3.2M357.3 608.6v3.2M330.8 634.4h3.2M332.4 632.8v3.2M343.0 620.1h3.2M344.6 618.5v3.2M353.2 612.3h3.2M354.8 610.7v3.2M339.4 627.1h3.2M341.0 625.5v3.2M372.0 590.9h3.2M373.6 589.3v3.2M348.3 617.9h3.2M349.9 616.3v3.2M371.8 591.6h3.2M373.4 590.0v3.2M349.6 614.4h3.2M351.2 612.8v3.2M360.3 606.8h3.2M361.9 605.2v3.2M367.6 602.1h3.2M369.2 600.5v3.2M357.6 607.3h3.2M359.2 605.7v3.2M346.9 617.9h3.2M348.5 616.3v3.2M341.6 623.9h3.2M343.2 622.3v3.2M353.0 612.2h3.2M354.6 610.6v3.2M376.4 589.6h3.2M378.0 588.0v3.2M344.0 618.7h3.2M345.6 617.1v3.2M341.4 623.6h3.2M343.0 622.0v3.2M367.6 596.5h3.2M369.2 594.9v3.2M348.1 617.5h3.2M349.7 615.9v3.2M372.1 591.1h3.2M373.7 589.5v3.2M380.7 581.1h3.2M382.3 579.5v3.2M331.3 637.6h3.2M332.9 636.0v3.2M377.7 589.9h3.2M379.3 588.3v3.2M350.3 615.5h3.2M351.9 613.9v3.2M370.5 594.4h3.2M372.1 592.8v3.2M372.1 594.4h3.2M373.7 592.8v3.2M358.9 606.6h3.2M360.5 605.0v3.2M330.0 633.4h3.2M331.6 631.8v3.2M371.0 594.8h3.2M372.6 593.2v3.2M330.0 637.3h3.2M331.6 635.7v3.2M342.3 621.6h3.2M343.9 620.0v3.2M362.3 600.6h3.2M363.9 599.0v3.2M352.9 612.2h3.2M354.5 610.6v3.2M338.9 624.0h3.2M340.5 622.4v3.2M356.9 606.2h3.2M358.5 604.6v3.2M338.9 624.9h3.2M340.5 623.3v3.2M345.7 619.3h3.2M347.3 617.7v3.2M348.2 617.8h3.2M349.8 616.2v3.2M368.1 596.4h3.2M369.7 594.8v3.2M368.5 596.5h3.2M370.1 594.9v3.2M335.3 630.0h3.2M336.9 628.4v3.2M333.8 630.7h3.2M335.4 629.1v3.2M342.0 622.1h3.2M343.6 620.5v3.2M376.9 588.4h3.2M378.5 586.8v3.2M379.6 585.2h3.2M381.2 583.6v3.2M368.1 600.1h3.2M369.7 598.5v3.2M359.4 605.9h3.2M361.0 604.3v3.2M383.0 586.6h3.2M384.6 585.0v3.2M329.4 635.3h3.2M331.0 633.7v3.2M340.4 626.3h3.2M342.0 624.7v3.2M352.5 613.2h3.2M354.1 611.6v3.2M374.2 591.0h3.2M375.8 589.4v3.2M347.6 621.4h3.2M349.2 619.8v3.2M343.9 621.8h3.2M345.5 620.2v3.2M341.1 625.5h3.2M342.7 623.9v3.2M336.0 630.4h3.2M337.6 628.8v3.2M338.8 626.6h3.2M340.4 625.0v3.2M354.3 613.3h3.2M355.9 611.7v3.2M344.1 618.4h3.2M345.7 616.8v3.2M368.1 596.9h3.2M369.7 595.3v3.2M348.9 619.1h3.2M350.5 617.5v3.2M358.7 605.2h3.2M360.3 603.6v3.2M354.6 610.4h3.2M356.2 608.8v3.2M377.5 588.8h3.2M379.1 587.2v3.2M363.6 605.0h3.2M365.2 603.4v3.2M378.3 589.4h3.2M379.9 587.8v3.2M330.6 634.4h3.2M332.2 632.8v3.2M357.5 606.7h3.2M359.1 605.1v3.2M373.7 590.6h3.2M375.3 589.0v3.2M365.9 601.1h3.2M367.5 599.5v3.2M338.8 625.3h3.2M340.4 623.7v3.2M381.7 582.5h3.2M383.3 580.9v3.2M339.1 626.1h3.2M340.7 624.5v3.2M343.6 621.3h3.2M345.2 619.7v3.2M336.0 630.6h3.2M337.6 629.0v3.2M339.3 627.8h3.2M340.9 626.2v3.2M373.1 594.3h3.2M374.7 592.7v3.2M376.4 590.4h3.2M378.0 588.8v3.2M336.2 629.8h3.2M337.8 628.2v3.2M355.9 612.3h3.2M357.5 610.7v3.2M379.1 585.4h3.2M380.7 583.8v3.2M381.7 585.2h3.2M383.3 583.6v3.2M349.4 619.5h3.2M351.0 617.9v3.2M339.5 625.1h3.2M341.1 623.5v3.2M359.0 607.2h3.2M360.6 605.6v3.2M374.9 590.2h3.2M376.5 588.6v3.2M371.0 594.4h3.2M372.6 592.8v3.2M333.3 629.8h3.2M334.9 628.2v3.2M382.2 585.6h3.2M383.8 584.0v3.2M369.1 598.1h3.2M370.7 596.5v3.2M345.9 618.8h3.2M347.5 617.2v3.2M368.9 594.9h3.2M370.5 593.3v3.2M332.1 634.8h3.2M333.7 633.2v3.2M372.2 592.5h3.2M373.8 590.9v3.2M354.9 611.1h3.2M356.5 609.5v3.2M357.9 606.2h3.2M359.5 604.6v3.2M330.0 634.7h3.2M331.6 633.1v3.2M375.7 589.8h3.2M377.3 588.2v3.2M363.7 597.6h3.2M365.3 596.0v3.2M381.4 586.1h3.2M383.0 584.5v3.2M382.1 585.7h3.2M383.7 584.1v3.2M369.1 597.6h3.2M370.7 596.0v3.2M363.8 605.4h3.2M365.4 603.8v3.2M353.0 612.8h3.2M354.6 611.2v3.2M361.6 604.4h3.2M363.2 602.8v3.2M330.0 634.2h3.2M331.6 632.6v3.2M379.1 586.3h3.2M380.7 584.7v3.2M336.7 629.2h3.2M338.3 627.6v3.2M382.9 582.4h3.2M384.5 580.8v3.2M336.4 627.9h3.2M338.0 626.3v3.2M377.1 587.1h3.2M378.7 585.5v3.2M335.2 628.3h3.2M336.8 626.7v3.2M351.5 614.0h3.2M353.1 612.4v3.2M351.7 613.6h3.2M353.3 612.0v3.2M332.5 633.7h3.2M334.1 632.1v3.2M380.7 584.7h3.2M382.3 583.1v3.2M374.6 590.7h3.2M376.2 589.1v3.2M366.5 598.4h3.2M368.1 596.8v3.2M355.3 609.2h3.2M356.9 607.6v3.2M356.8 608.6h3.2M358.4 607.0v3.2M373.7 594.1h3.2M375.3 592.5v3.2M353.1 614.9h3.2M354.7 613.3v3.2M343.5 622.0h3.2M345.1 620.4v3.2M365.1 602.2h3.2M366.7 600.6v3.2M360.7 606.3h3.2M362.3 604.7v3.2M356.2 607.9h3.2M357.8 606.3v3.2M382.7 582.8h3.2M384.3 581.2v3.2M347.0 618.7h3.2M348.6 617.1v3.2M346.6 620.0h3.2M348.2 618.4v3.2M331.5 635.1h3.2M333.1 633.5v3.2M377.2 584.7h3.2M378.8 583.1v3.2M367.0 598.7h3.2M368.6 597.1v3.2M368.6 596.9h3.2M370.2 595.3v3.2M367.8 596.1h3.2M369.4 594.5v3.2M339.1 624.1h3.2M340.7 622.5v3.2M370.7 594.0h3.2M372.3 592.4v3.2M337.2 626.4h3.2M338.8 624.8v3.2M374.0 594.1h3.2M375.6 592.5v3.2M382.5 583.8h3.2M384.1 582.2v3.2M335.2 631.0h3.2M336.8 629.4v3.2M368.2 597.1h3.2M369.8 595.5v3.2M370.1 592.9h3.2M371.7 591.3v3.2M355.2 606.6h3.2M356.8 605.0v3.2M363.5 600.5h3.2M365.1 598.9v3.2M363.8 600.0h3.2M365.4 598.4v3.2M369.5 594.8h3.2M371.1 593.2v3.2M360.7 606.0h3.2M362.3 604.4v3.2M352.5 614.2h3.2M354.1 612.6v3.2M351.7 612.2h3.2M353.3 610.6v3.2M349.9 614.9h3.2M351.5 613.3v3.2M350.6 611.7h3.2M352.2 610.1v3.2M335.5 633.1h3.2M337.1 631.5v3.2M329.8 635.3h3.2M331.4 633.7v3.2M352.5 611.2h3.2M354.1 609.6v3.2M360.7 603.9h3.2M362.3 602.3v3.2M330.3 636.0h3.2M331.9 634.4v3.2M377.1 589.7h3.2M378.7 588.1v3.2M354.0 610.9h3.2M355.6 609.3v3.2M348.2 620.5h3.2M349.8 618.9v3.2M375.0 591.7h3.2M376.6 590.1v3.2M342.0 623.3h3.2M343.6 621.7v3.2M373.5 594.5h3.2M375.1 592.9v3.2M354.0 610.4h3.2M355.6 608.8v3.2M372.7 593.5h3.2M374.3 591.9v3.2M376.1 589.8h3.2M377.7 588.2v3.2M360.9 603.9h3.2M362.5 602.3v3.2M382.3 582.8h3.2M383.9 581.2v3.2M336.0 627.6h3.2M337.6 626.0v3.2M332.2 633.1h3.2M333.8 631.5v3.2M372.6 592.2h3.2M374.2 590.6v3.2M363.4 598.5h3.2M365.0 596.9v3.2M379.9 586.1h3.2M381.5 584.5v3.2M363.4 603.9h3.2M365.0 602.3v3.2M352.5 614.2h3.2M354.1 612.6v3.2M343.8 624.1h3.2M345.4 622.5v3.2M335.0 629.2h3.2M336.6 627.6v3.2M340.8 623.4h3.2M342.4 621.8v3.2M347.5 619.7h3.2M349.1 618.1v3.2M353.1 612.8h3.2M354.7 611.2v3.2M367.6 596.8h3.2M369.2 595.2v3.2M348.9 620.4h3.2M350.5 618.8v3.2M346.1 617.9h3.2M347.7 616.3v3.2M362.6 604.2h3.2M364.2 602.6v3.2M363.4 603.1h3.2M365.0 601.5v3.2M363.5 601.7h3.2M365.1 600.1v3.2M335.9 629.8h3.2M337.5 628.2v3.2M359.8 606.3h3.2M361.4 604.7v3.2M363.2 603.5h3.2M364.8 601.9v3.2M377.2 586.9h3.2M378.8 585.3v3.2M360.7 604.6h3.2M362.3 603.0v3.2M344.1 621.5h3.2M345.7 619.9v3.2M342.7 621.7h3.2M344.3 620.1v3.2M353.2 613.0h3.2M354.8 611.4v3.2M339.2 625.7h3.2M340.8 624.1v3.2M336.3 629.4h3.2M337.9 627.8v3.2M351.2 615.7h3.2M352.8 614.1v3.2M369.4 594.4h3.2M371.0 592.8v3.2M351.1 615.4h3.2M352.7 613.8v3.2M371.7 595.1h3.2M373.3 593.5v3.2M378.5 585.9h3.2M380.1 584.3v3.2M343.6 623.8h3.2M345.2 622.2v3.2M365.9 599.3h3.2M367.5 597.7v3.2M349.6 615.6h3.2M351.2 614.0v3.2M377.5 588.8h3.2M379.1 587.2v3.2M348.2 616.6h3.2M349.8 615.0v3.2M356.7 606.9h3.2M358.3 605.3v3.2M340.6 625.5h3.2M342.2 623.9v3.2M366.7 600.1h3.2M368.3 598.5v3.2M359.8 608.3h3.2M361.4 606.7v3.2M352.5 612.9h3.2M354.1 611.3v3.2M332.7 632.6h3.2M334.3 631.0v3.2M374.2 592.4h3.2M375.8 590.8v3.2M358.5 606.3h3.2M360.1 604.7v3.2M345.4 621.2h3.2M347.0 619.6v3.2M343.3 620.3h3.2M344.9 618.7v3.2M373.0 594.9h3.2M374.6 593.3v3.2M367.8 599.5h3.2M369.4 597.9v3.2M334.3 629.4h3.2M335.9 627.8v3.2M331.8 634.3h3.2M333.4 632.7v3.2M358.2 608.3h3.2M359.8 606.7v3.2M372.8 591.0h3.2M374.4 589.4v3.2M341.7 622.8h3.2M343.3 621.2v3.2M382.3 583.2h3.2M383.9 581.6v3.2M330.7 633.1h3.2M332.3 631.5v3.2M382.2 583.1h3.2M383.8 581.5v3.2M337.0 631.7h3.2M338.6 630.1v3.2M363.3 599.9h3.2M364.9 598.3v3.2M346.5 621.7h3.2M348.1 620.1v3.2M335.0 631.4h3.2M336.6 629.8v3.2M383.6 584.8h3.2M385.2 583.2v3.2M363.6 601.2h3.2M365.2 599.6v3.2M343.2 621.0h3.2M344.8 619.4v3.2M334.0 631.9h3.2M335.6 630.3v3.2M362.2 603.2h3.2M363.8 601.6v3.2M348.3 617.8h3.2M349.9 616.2v3.2M380.3 586.8h3.2M381.9 585.2v3.2M343.1 623.6h3.2M344.7 622.0v3.2M365.7 601.8h3.2M367.3 600.2v3.2M357.5 609.4h3.2M359.1 607.8v3.2M336.6 631.9h3.2M338.2 630.3v3.2M338.5 627.0h3.2M340.1 625.4v3.2M355.9 611.6h3.2M357.5 610.0v3.2M358.8 606.1h3.2M360.4 604.5v3.2M352.6 609.2h3.2M354.2 607.6v3.2M331.4 634.2h3.2M333.0 632.6v3.2M346.1 619.0h3.2M347.7 617.4v3.2M335.6 627.4h3.2M337.2 625.8v3.2M335.1 628.5h3.2M336.7 626.9v3.2M345.7 621.2h3.2M347.3 619.6v3.2M333.8 629.5h3.2M335.4 627.9v3.2M366.5 599.4h3.2M368.1 597.8v3.2M336.6 627.1h3.2M338.2 625.5v3.2M364.6 600.5h3.2M366.2 598.9v3.2M338.4 627.9h3.2M340.0 626.3v3.2M351.4 615.1h3.2M353.0 613.5v3.2M359.5 607.1h3.2M361.1 605.5v3.2M357.7 605.2h3.2M359.3 603.6v3.2M334.6 632.5h3.2M336.2 630.9v3.2M348.4 620.0h3.2M350.0 618.4v3.2M378.3 585.8h3.2M379.9 584.2v3.2M369.1 593.4h3.2M370.7 591.8v3.2M359.7 605.0h3.2M361.3 603.4v3.2M335.4 630.0h3.2M337.0 628.4v3.2M376.9 589.3h3.2M378.5 587.7v3.2M345.6 618.0h3.2M347.2 616.4v3.2M335.1 631.5h3.2M336.7 629.9v3.2M367.7 598.5h3.2M369.3 596.9v3.2M375.4 587.2h3.2M377.0 585.6v3.2M347.1 620.1h3.2M348.7 618.5v3.2M367.8 599.9h3.2M369.4 598.3v3.2M348.9 616.0h3.2M350.5 614.4v3.2M374.6 591.7h3.2M376.2 590.1v3.2M354.3 611.7h3.2M355.9 610.1v3.2M345.7 618.2h3.2M347.3 616.6v3.2M356.8 608.5h3.2M358.4 606.9v3.2M346.4 615.5h3.2M348.0 613.9v3.2M365.2 597.4h3.2M366.8 595.8v3.2M371.2 596.1h3.2M372.8 594.5v3.2M358.7 605.8h3.2M360.3 604.2v3.2M377.5 588.9h3.2M379.1 587.3v3.2M372.3 592.8h3.2M373.9 591.2v3.2M339.9 626.1h3.2M341.5 624.5v3.2M382.8 585.6h3.2M384.4 584.0v3.2M358.1 608.1h3.2M359.7 606.5v3.2M358.2 605.5h3.2M359.8 603.9v3.2M359.0 606.0h3.2M360.6 604.4v3.2M334.2 631.8h3.2M335.8 630.2v3.2M336.3 628.7h3.2M337.9 627.1v3.2M364.5 598.9h3.2M366.1 597.3v3.2M365.4 597.6h3.2M367.0 596.0v3.2M379.6 586.0h3.2M381.2 584.4v3.2M341.9 623.6h3.2M343.5 622.0v3.2M371.9 594.8h3.2M373.5 593.2v3.2M371.7 595.5h3.2M373.3 593.9v3.2M335.7 626.1h3.2M337.3 624.5v3.2M369.2 595.5h3.2M370.8 593.9v3.2M349.9 614.1h3.2M351.5 612.5v3.2M381.2 584.4h3.2M382.8 582.8v3.2M371.2 593.6h3.2M372.8 592.0v3.2M368.1 596.1h3.2M369.7 594.5v3.2M355.7 610.2h3.2M357.3 608.6v3.2M376.1 587.8h3.2M377.7 586.2v3.2M365.1 598.2h3.2M366.7 596.6v3.2M373.0 593.1h3.2M374.6 591.5v3.2M357.8 607.8h3.2M359.4 606.2v3.2M377.7 587.7h3.2M379.3 586.1v3.2M366.1 596.0h3.2M367.7 594.4v3.2M337.2 628.4h3.2M338.8 626.8v3.2M347.0 617.7h3.2M348.6 616.1v3.2M347.7 614.6h3.2M349.3 613.0v3.2M382.8 582.3h3.2M384.4 580.7v3.2M335.5 629.5h3.2M337.1 627.9v3.2M332.5 631.6h3.2M334.1 630.0v3.2M342.9 621.9h3.2M344.5 620.3v3.2M354.9 613.8h3.2M356.5 612.2v3.2M375.4 591.8h3.2M377.0 590.2v3.2M358.6 605.4h3.2M360.2 603.8v3.2M362.0 604.0h3.2M363.6 602.4v3.2M349.9 619.7h3.2M351.5 618.1v3.2M368.1 596.7h3.2M369.7 595.1v3.2M374.2 592.0h3.2M375.8 590.4v3.2M348.0 617.8h3.2M349.6 616.2v3.2M333.7 627.3h3.2M335.3 625.7v3.2M375.4 592.3h3.2M377.0 590.7v3.2M381.1 584.5h3.2M382.7 582.9v3.2M330.9 635.7h3.2M332.5 634.1v3.2M344.8 622.5h3.2M346.4 620.9v3.2M345.7 620.4h3.2M347.3 618.8v3.2M364.5 598.8h3.2M366.1 597.2v3.2M344.8 619.7h3.2M346.4 618.1v3.2M368.4 596.0h3.2M370.0 594.4v3.2M353.3 609.6h3.2M354.9 608.0v3.2M354.1 611.2h3.2M355.7 609.6v3.2M354.5 611.4h3.2M356.1 609.8v3.2M363.1 603.6h3.2M364.7 602.0v3.2M378.2 590.3h3.2M379.8 588.7v3.2M375.7 590.5h3.2M377.3 588.9v3.2M337.6 626.0h3.2M339.2 624.4v3.2M343.5 621.5h3.2M345.1 619.9v3.2M332.6 627.9h3.2M334.2 626.3v3.2M328.9 635.6h3.2M330.5 634.0v3.2M362.1 604.6h3.2M363.7 603.0v3.2M335.5 630.7h3.2M337.1 629.1v3.2M377.7 586.5h3.2M379.3 584.9v3.2M346.7 618.3h3.2M348.3 616.7v3.2M381.9 584.5h3.2M383.5 582.9v3.2M361.1 604.6h3.2M362.7 603.0v3.2M358.2 606.7h3.2M359.8 605.1v3.2M370.8 598.6h3.2M372.4 597.0v3.2M334.4 630.5h3.2M336.0 628.9v3.2M350.3 617.2h3.2M351.9 615.6v3.2M380.9 584.5h3.2M382.5 582.9v3.2M344.8 624.7h3.2M346.4 623.1v3.2M343.6 622.4h3.2M345.2 620.8v3.2M358.7 605.3h3.2M360.3 603.7v3.2M380.5 586.6h3.2M382.1 585.0v3.2M380.9 585.5h3.2M382.5 583.9v3.2M373.1 591.4h3.2M374.7 589.8v3.2M328.2 633.6h3.2M329.8 632.0v3.2M343.8 623.6h3.2M345.4 622.0v3.2M348.4 615.9h3.2M350.0 614.3v3.2M367.1 597.7h3.2M368.7 596.1v3.2M366.0 602.6h3.2M367.6 601.0v3.2M334.0 633.6h3.2M335.6 632.0v3.2M366.5 598.3h3.2M368.1 596.7v3.2M333.6 632.5h3.2M335.2 630.9v3.2M383.4 582.6h3.2M385.0 581.0v3.2M371.2 592.4h3.2M372.8 590.8v3.2M382.6 584.7h3.2M384.2 583.1v3.2M343.5 621.0h3.2M345.1 619.4v3.2M358.5 609.6h3.2M360.1 608.0v3.2M365.2 599.9h3.2M366.8 598.3v3.2M373.8 589.8h3.2M375.4 588.2v3.2M375.6 591.0h3.2M377.2 589.4v3.2M339.9 625.7h3.2M341.5 624.1v3.2M358.0 607.1h3.2M359.6 605.5v3.2M361.4 606.4h3.2M363.0 604.8v3.2M354.4 614.1h3.2M356.0 612.5v3.2M338.1 625.4h3.2M339.7 623.8v3.2M352.9 613.7h3.2M354.5 612.1v3.2M330.3 637.3h3.2M331.9 635.7v3.2M336.9 630.0h3.2M338.5 628.4v3.2M343.5 623.1h3.2M345.1 621.5v3.2M375.3 587.0h3.2M376.9 585.4v3.2M339.9 628.3h3.2M341.5 626.7v3.2M361.5 604.0h3.2M363.1 602.4v3.2M349.7 617.5h3.2M351.3 615.9v3.2M342.0 623.6h3.2M343.6 622.0v3.2M361.5 605.1h3.2M363.1 603.5v3.2M333.0 632.2h3.2M334.6 630.6v3.2M367.2 599.2h3.2M368.8 597.6v3.2M353.2 612.9h3.2M354.8 611.3v3.2M382.2 582.6h3.2M383.8 581.0v3.2M355.4 611.3h3.2M357.0 609.7v3.2M336.7 626.5h3.2M338.3 624.9v3.2M347.3 619.6h3.2M348.9 618.0v3.2M372.4 593.4h3.2M374.0 591.8v3.2M363.4 602.7h3.2M365.0 601.1v3.2M353.9 612.2h3.2M355.5 610.6v3.2M369.3 595.7h3.2M370.9 594.1v3.2M365.0 599.8h3.2M366.6 598.2v3.2M362.5 603.5h3.2M364.1 601.9v3.2M369.2 594.3h3.2M370.8 592.7v3.2M366.4 599.4h3.2M368.0 597.8v3.2M361.6 602.9h3.2M363.2 601.3v3.2M354.4 611.5h3.2M356.0 609.9v3.2M361.0 608.8h3.2M362.6 607.2v3.2M357.5 604.5h3.2M359.1 602.9v3.2M347.0 618.8h3.2M348.6 617.2v3.2M370.3 597.5h3.2M371.9 595.9v3.2M341.3 621.8h3.2M342.9 620.2v3.2M347.3 612.2h3.2M348.9 610.6v3.2M378.8 584.3h3.2M380.4 582.7v3.2M376.5 589.9h3.2M378.1 588.3v3.2M338.7 624.0h3.2M340.3 622.4v3.2M334.6 634.9h3.2M336.2 633.3v3.2M317.8 645.5h3.2M319.4 643.9v3.2M323.7 641.9h3.2M325.3 640.3v3.2M328.0 637.4h3.2M329.6 635.8v3.2M315.3 649.9h3.2M316.9 648.3v3.2M314.7 650.4h3.2M316.3 648.8v3.2M322.1 643.4h3.2M323.7 641.8v3.2M324.0 642.1h3.2M325.6 640.5v3.2M321.6 646.2h3.2M323.2 644.6v3.2M327.9 636.4h3.2M329.5 634.8v3.2M323.0 643.8h3.2M324.6 642.2v3.2M318.2 647.2h3.2M319.8 645.6v3.2M317.9 647.3h3.2M319.5 645.7v3.2M319.6 646.9h3.2M321.2 645.3v3.2M314.4 650.0h3.2M316.0 648.4v3.2M317.8 645.7h3.2M319.4 644.1v3.2M315.2 648.7h3.2M316.8 647.1v3.2M325.2 639.0h3.2M326.8 637.4v3.2M321.0 645.3h3.2M322.6 643.7v3.2M322.2 646.0h3.2M323.8 644.4v3.2M327.7 637.5h3.2M329.3 635.9v3.2M325.0 640.1h3.2M326.6 638.5v3.2M314.5 650.2h3.2M316.1 648.6v3.2M326.1 638.4h3.2M327.7 636.8v3.2M318.1 645.6h3.2M319.7 644.0v3.2M318.9 647.8h3.2M320.5 646.2v3.2M314.2 650.4h3.2M315.8 648.8v3.2M319.2 645.9h3.2M320.8 644.3v3.2M328.9 636.9h3.2M330.5 635.3v3.2M327.6 637.8h3.2M329.2 636.2v3.2M320.4 644.9h3.2M322.0 643.3v3.2M315.8 649.2h3.2M317.4 647.6v3.2M324.8 638.3h3.2M326.4 636.7v3.2M326.0 639.5h3.2M327.6 637.9v3.2M315.8 649.7h3.2M317.4 648.1v3.2M327.1 639.1h3.2M328.7 637.5v3.2M317.1 646.9h3.2M318.7 645.3v3.2M327.3 638.9h3.2M328.9 637.3v3.2M314.7 651.4h3.2M316.3 649.8v3.2M327.8 635.7h3.2M329.4 634.1v3.2M326.6 639.8h3.2M328.2 638.2v3.2M323.9 643.6h3.2M325.5 642.0v3.2M327.8 637.4h3.2M329.4 635.8v3.2M329.4 637.8h3.2M331.0 636.2v3.2M318.2 648.2h3.2M319.8 646.6v3.2M318.1 645.2h3.2M319.7 643.6v3.2M316.8 651.7h3.2M318.4 650.1v3.2M322.2 646.2h3.2M323.8 644.6v3.2M323.2 645.3h3.2M324.8 643.7v3.2M323.5 639.7h3.2M325.1 638.1v3.2M319.1 646.0h3.2M320.7 644.4v3.2M320.4 644.9h3.2M322.0 643.3v3.2M326.4 637.0h3.2M328.0 635.4v3.2M319.5 647.1h3.2M321.1 645.5v3.2M321.9 641.8h3.2M323.5 640.2v3.2M320.1 644.8h3.2M321.7 643.2v3.2M315.7 649.5h3.2M317.3 647.9v3.2M319.0 646.6h3.2M320.6 645.0v3.2M325.0 640.7h3.2M326.6 639.1v3.2M324.7 640.0h3.2M326.3 638.4v3.2M324.6 640.2h3.2M326.2 638.6v3.2M326.1 638.6h3.2M327.7 637.0v3.2M322.3 642.4h3.2M323.9 640.8v3.2M320.1 645.2h3.2M321.7 643.6v3.2M327.4 638.7h3.2M329.0 637.1v3.2M324.0 642.1h3.2M325.6 640.5v3.2M318.0 647.0h3.2M319.6 645.4v3.2M322.3 644.1h3.2M323.9 642.5v3.2M322.5 643.3h3.2M324.1 641.7v3.2M322.1 644.7h3.2M323.7 643.1v3.2M323.2 641.2h3.2M324.8 639.6v3.2M323.0 642.6h3.2M324.6 641.0v3.2M313.7 650.4h3.2M315.3 648.8v3.2M328.8 636.7h3.2M330.4 635.1v3.2M315.7 649.1h3.2M317.3 647.5v3.2M317.4 647.6h3.2M319.0 646.0v3.2M314.3 650.4h3.2M315.9 648.8v3.2M322.1 644.3h3.2M323.7 642.7v3.2M320.0 645.4h3.2M321.6 643.8v3.2M317.8 648.5h3.2M319.4 646.9v3.2M317.9 647.5h3.2M319.5 645.9v3.2M318.6 645.8h3.2M320.2 644.2v3.2M319.4 646.6h3.2M321.0 645.0v3.2M315.2 651.3h3.2M316.8 649.7v3.2M320.7 642.9h3.2M322.3 641.3v3.2M314.5 651.1h3.2M316.1 649.5v3.2M322.4 645.7h3.2M324.0 644.1v3.2M317.9 648.6h3.2M319.5 647.0v3.2M314.9 648.0h3.2M316.5 646.4v3.2M321.4 643.4h3.2M323.0 641.8v3.2M318.9 646.2h3.2M320.5 644.6v3.2M323.0 641.6h3.2M324.6 640.0v3.2M322.6 641.1h3.2M324.2 639.5v3.2M320.0 645.6h3.2M321.6 644.0v3.2M326.7 638.8h3.2M328.3 637.2v3.2M327.2 638.6h3.2M328.8 637.0v3.2M325.5 639.6h3.2M327.1 638.0v3.2M316.6 648.3h3.2M318.2 646.7v3.2M327.3 638.8h3.2M328.9 637.2v3.2M326.7 639.3h3.2M328.3 637.7v3.2M327.5 636.8h3.2M329.1 635.2v3.2M386.2 577.5h3.2M387.8 575.9v3.2M386.3 578.3h3.2M387.9 576.7v3.2M389.8 577.5h3.2M391.4 575.9v3.2M386.6 580.1h3.2M388.2 578.5v3.2M385.1 580.0h3.2M386.7 578.4v3.2M393.5 573.7h3.2M395.1 572.1v3.2M391.6 575.1h3.2M393.2 573.5v3.2M385.5 578.3h3.2M387.1 576.7v3.2M391.3 574.6h3.2M392.9 573.0v3.2M385.8 580.4h3.2M387.4 578.8v3.2M383.6 580.3h3.2M385.2 578.7v3.2M394.0 573.6h3.2M395.6 572.0v3.2M384.7 581.0h3.2M386.3 579.4v3.2M391.9 575.2h3.2M393.5 573.6v3.2M384.3 582.5h3.2M385.9 580.9v3.2M392.5 573.8h3.2M394.1 572.2v3.2M384.5 581.1h3.2M386.1 579.5v3.2M391.4 573.1h3.2M393.0 571.5v3.2M390.2 573.6h3.2M391.8 572.0v3.2M390.4 577.7h3.2M392.0 576.1v3.2M388.3 574.8h3.2M389.9 573.2v3.2M397.4 567.4h3.2M399.0 565.8v3.2M393.6 569.9h3.2M395.2 568.3v3.2M392.4 572.6h3.2M394.0 571.0v3.2M398.4 569.2h3.2M400.0 567.6v3.2M386.2 578.8h3.2M387.8 577.2v3.2M391.2 573.4h3.2M392.8 571.8v3.2M394.9 570.9h3.2M396.5 569.3v3.2M386.3 578.7h3.2M387.9 577.1v3.2M388.8 575.2h3.2M390.4 573.6v3.2M393.3 571.5h3.2M394.9 569.9v3.2M396.0 565.6h3.2M397.6 564.0v3.2M394.9 570.4h3.2M396.5 568.8v3.2M391.5 575.9h3.2M393.1 574.3v3.2M396.5 567.8h3.2M398.1 566.2v3.2M383.8 582.0h3.2M385.4 580.4v3.2M389.6 574.7h3.2M391.2 573.1v3.2M384.7 580.5h3.2M386.3 578.9v3.2M390.7 575.4h3.2M392.3 573.8v3.2M389.9 575.8h3.2M391.5 574.2v3.2M387.6 576.3h3.2M389.2 574.7v3.2M389.0 576.5h3.2M390.6 574.9v3.2M386.0 581.0h3.2M387.6 579.4v3.2M397.6 568.1h3.2M399.2 566.5v3.2M387.1 577.7h3.2M388.7 576.1v3.2M394.6 571.7h3.2M396.2 570.1v3.2M390.5 575.0h3.2M392.1 573.4v3.2M385.2 580.2h3.2M386.8 578.6v3.2M385.9 578.7h3.2M387.5 577.1v3.2M389.4 577.0h3.2M391.0 575.4v3.2M396.7 567.2h3.2M398.3 565.6v3.2M397.7 568.4h3.2M399.3 566.8v3.2M391.7 571.8h3.2M393.3 570.2v3.2M387.5 576.6h3.2M389.1 575.0v3.2M384.6 582.4h3.2M386.2 580.8v3.2M391.6 573.4h3.2M393.2 571.8v3.2M384.2 581.2h3.2M385.8 579.6v3.2M392.1 572.1h3.2M393.7 570.5v3.2M388.0 578.5h3.2M389.6 576.9v3.2M387.0 577.8h3.2M388.6 576.2v3.2M396.5 569.2h3.2M398.1 567.6v3.2M390.9 575.5h3.2M392.5 573.9v3.2M398.0 568.1h3.2M399.6 566.5v3.2M395.2 570.8h3.2M396.8 569.2v3.2M383.4 580.1h3.2M385.0 578.5v3.2M394.3 572.3h3.2M395.9 570.7v3.2M395.9 571.5h3.2M397.5 569.9v3.2M389.4 577.8h3.2M391.0 576.2v3.2M393.9 568.9h3.2M395.5 567.3v3.2M390.5 575.4h3.2M392.1 573.8v3.2M387.5 578.8h3.2M389.1 577.2v3.2M384.6 582.0h3.2M386.2 580.4v3.2M386.3 580.4h3.2M387.9 578.8v3.2M395.3 568.9h3.2M396.9 567.3v3.2M384.8 579.2h3.2M386.4 577.6v3.2M384.9 580.7h3.2M386.5 579.1v3.2M388.0 579.2h3.2M389.6 577.6v3.2M390.3 574.2h3.2M391.9 572.6v3.2M393.2 574.3h3.2M394.8 572.7v3.2M390.8 572.2h3.2M392.4 570.6v3.2M384.3 581.7h3.2M385.9 580.1v3.2M386.5 578.4h3.2M388.1 576.8v3.2M384.4 579.3h3.2M386.0 577.7v3.2M390.0 575.4h3.2M391.6 573.8v3.2M390.8 575.9h3.2M392.4 574.3v3.2M391.9 575.1h3.2M393.5 573.5v3.2M388.6 578.4h3.2M390.2 576.8v3.2M395.5 567.4h3.2M397.1 565.8v3.2M398.3 568.3h3.2M399.9 566.7v3.2M390.1 575.8h3.2M391.7 574.2v3.2M387.0 578.4h3.2M388.6 576.8v3.2M383.9 578.8h3.2M385.5 577.2v3.2M392.0 576.1h3.2M393.6 574.5v3.2M389.6 575.3h3.2M391.2 573.7v3.2M384.1 579.9h3.2M385.7 578.3v3.2M395.0 570.9h3.2M396.6 569.3v3.2M385.7 579.1h3.2M387.3 577.5v3.2M385.2 583.8h3.2M386.8 582.2v3.2M393.1 574.1h3.2M394.7 572.5v3.2M390.1 576.6h3.2M391.7 575.0v3.2M313.2 652.7h3.2M314.8 651.1v3.2M301.3 667.5h3.2M302.9 665.9v3.2M296.5 669.5h3.2M298.1 667.9v3.2M302.9 662.8h3.2M304.5 661.2v3.2M313.0 650.7h3.2M314.6 649.1v3.2M297.0 670.5h3.2M298.6 668.9v3.2M304.7 659.9h3.2M306.3 658.3v3.2M306.2 658.9h3.2M307.8 657.3v3.2M303.0 660.8h3.2M304.6 659.2v3.2M309.9 658.3h3.2M311.5 656.7v3.2M297.8 668.0h3.2M299.4 666.4v3.2M300.5 665.2h3.2M302.1 663.6v3.2M309.6 660.1h3.2M311.2 658.5v3.2M311.3 653.2h3.2M312.9 651.6v3.2M298.0 668.1h3.2M299.6 666.5v3.2M302.9 659.7h3.2M304.5 658.1v3.2M313.9 650.8h3.2M315.5 649.2v3.2M299.1 665.7h3.2M300.7 664.1v3.2M296.8 666.7h3.2M298.4 665.1v3.2M310.9 653.0h3.2M312.5 651.4v3.2M297.7 672.1h3.2M299.3 670.5v3.2M300.4 665.2h3.2M302.0 663.6v3.2M300.6 665.3h3.2M302.2 663.7v3.2M310.1 654.7h3.2M311.7 653.1v3.2M311.3 651.9h3.2M312.9 650.3v3.2M294.9 669.5h3.2M296.5 667.9v3.2M305.7 657.4h3.2M307.3 655.8v3.2M304.2 659.3h3.2M305.8 657.7v3.2M297.7 668.1h3.2M299.3 666.5v3.2M298.0 669.8h3.2M299.6 668.2v3.2M399.8 565.6h3.2M401.4 564.0v3.2M408.9 559.3h3.2M410.5 557.7v3.2M405.2 562.2h3.2M406.8 560.6v3.2M401.9 563.1h3.2M403.5 561.5v3.2M408.3 558.0h3.2M409.9 556.4v3.2M405.0 559.3h3.2M406.6 557.7v3.2M409.2 558.5h3.2M410.8 556.9v3.2M401.0 564.2h3.2M402.6 562.6v3.2M407.8 556.9h3.2M409.4 555.3v3.2M411.3 555.8h3.2M412.9 554.2v3.2M397.6 566.5h3.2M399.2 564.9v3.2M408.4 557.0h3.2M410.0 555.4v3.2M411.3 552.0h3.2M412.9 550.4v3.2M403.2 562.7h3.2M404.8 561.1v3.2M401.5 562.1h3.2M403.1 560.5v3.2M401.8 563.5h3.2M403.4 561.9v3.2M410.7 553.3h3.2M412.3 551.7v3.2M402.4 563.1h3.2M404.0 561.5v3.2M414.2 554.3h3.2M415.8 552.7v3.2M401.2 562.1h3.2M402.8 560.5v3.2M399.1 566.2h3.2M400.7 564.6v3.2M412.9 552.3h3.2M414.5 550.7v3.2M409.4 555.1h3.2M411.0 553.5v3.2M410.7 556.2h3.2M412.3 554.6v3.2M399.8 563.8h3.2M401.4 562.2v3.2M410.9 556.6h3.2M412.5 555.0v3.2M408.7 557.7h3.2M410.3 556.1v3.2M402.8 563.3h3.2M404.4 561.7v3.2M397.8 566.3h3.2M399.4 564.7v3.2M413.4 550.5h3.2M415.0 548.9v3.2M359.2 608.3h3.2M360.8 606.7v3.2M352.7 611.5h3.2M354.3 609.9v3.2M319.7 640.8h3.2M321.3 639.2v3.2M349.9 616.6h3.2M351.5 615.0v3.2M284.9 679.6h3.2M286.5 678.0v3.2M367.9 598.7h3.2M369.5 597.1v3.2M349.8 610.8h3.2M351.4 609.2v3.2M386.0 580.2h3.2M387.6 578.6v3.2M298.1 670.4h3.2M299.7 668.8v3.2M364.1 602.0h3.2M365.7 600.4v3.2M370.8 594.0h3.2M372.4 592.4v3.2M344.6 620.8h3.2M346.2 619.2v3.2M395.0 569.9h3.2M396.6 568.3v3.2M301.2 663.7h3.2M302.8 662.1v3.2M403.8 560.4h3.2M405.4 558.8v3.2M378.1 587.0h3.2M379.7 585.4v3.2M408.1 559.4h3.2M409.7 557.8v3.2M390.4 572.8h3.2M392.0 571.2v3.2M294.7 666.9h3.2M296.3 665.3v3.2M330.5 635.7h3.2M332.1 634.1v3.2M305.1 662.5h3.2M306.7 660.9v3.2M284.7 678.1h3.2M286.3 676.5v3.2M290.9 669.5h3.2M292.5 667.9v3.2M365.6 598.0h3.2M367.2 596.4v3.2M401.7 565.9h3.2M403.3 564.3v3.2M309.8 657.2h3.2M311.4 655.6v3.2M329.5 637.3h3.2M331.1 635.7v3.2M292.1 675.2h3.2M293.7 673.6v3.2M370.3 592.4h3.2M371.9 590.8v3.2M384.6 577.2h3.2M386.2 575.6v3.2M295.9 671.3h3.2M297.5 669.7v3.2M407.6 555.9h3.2M409.2 554.3v3.2M351.4 616.9h3.2M353.0 615.3v3.2M308.7 658.3h3.2M310.3 656.7v3.2M412.7 548.4h3.2M414.3 546.8v3.2M349.5 614.8h3.2M351.1 613.2v3.2M327.2 636.4h3.2M328.8 634.8v3.2M344.3 618.2h3.2M345.9 616.6v3.2M319.9 642.5h3.2M321.5 640.9v3.2M316.0 651.0h3.2M317.6 649.4v3.2M304.3 658.0h3.2M305.9 656.4v3.2M294.0 671.7h3.2M295.6 670.1v3.2M321.7 645.4h3.2M323.3 643.8v3.2M386.7 578.4h3.2M388.3 576.8v3.2M326.4 641.1h3.2M328.0 639.5v3.2M400.4 566.3h3.2M402.0 564.7v3.2M389.2 579.4h3.2M390.8 577.8v3.2M367.4 599.0h3.2M369.0 597.4v3.2M348.0 616.1h3.2M349.6 614.5v3.2M308.0 655.1h3.2M309.6 653.5v3.2M273.6 688.2h3.2M275.2 686.6v3.2M274.4 687.2h3.2M276.0 685.6v3.2M275.9 696.1h3.2M277.5 694.5v3.2M286.1 679.0h3.2M287.7 677.4v3.2M290.0 675.3h3.2M291.6 673.7v3.2M297.6 663.9h3.2M299.2 662.3v3.2M308.1 662.3h3.2M309.7 660.7v3.2M313.0 657.3h3.2M314.6 655.7v3.2M316.3 645.5h3.2M317.9 643.9v3.2M431.4 528.6h3.2M433.0 527.0v3.2M428.1 536.3h3.2M429.7 534.7v3.2M424.8 542.9h3.2M426.4 541.3v3.2M423.4 540.5h3.2M425.0 538.9v3.2M418.8 548.0h3.2M420.4 546.4v3.2M411.5 552.3h3.2M413.1 550.7v3.2M407.5 554.2h3.2M409.1 552.6v3.2M411.9 557.3h3.2M413.5 555.7v3.2M389.3 569.2h3.2M390.9 567.6v3.2M392.9 575.5h3.2M394.5 573.9v3.2M383.6 576.8h3.2M385.2 575.2v3.2" stroke="#0c2cff" stroke-width="1.3" fill="none"/>
<path d="M544.8 655.9h3.2M546.4 654.3v3.2M549.5 651.2h3.2M551.1 649.6v3.2M540.3 658.9h3.2M541.9 657.3v3.2M538.5 661.7h3.2M540.1 660.1v3.2M535.2 664.9h3.2M536.8 663.3v3.2M534.3 665.9h3.2M535.9 664.3v3.2M525.8 675.9h3.2M527.4 674.3v3.2M543.3 656.9h3.2M544.9 655.3v3.2M528.8 671.8h3.2M530.4 670.2v3.2M547.6 652.2h3.2M549.2 650.6v3.2M542.8 656.5h3.2M544.4 654.9v3.2M531.5 668.0h3.2M533.1 666.4v3.2M548.2 651.0h3.2M549.8 649.4v3.2M548.7 651.2h3.2M550.3 649.6v3.2M531.2 668.5h3.2M532.8 666.9v3.2M526.4 674.2h3.2M528.0 672.6v3.2M549.8 650.1h3.2M551.4 648.5v3.2M539.7 659.8h3.2M541.3 658.2v3.2M550.4 650.5h3.2M552.0 648.9v3.2M544.5 656.1h3.2M546.1 654.5v3.2M539.5 660.2h3.2M541.1 658.6v3.2M530.5 669.7h3.2M532.1 668.1v3.2M543.4 656.0h3.2M545.0 654.4v3.2M551.4 650.2h3.2M553.0 648.6v3.2M552.7 647.4h3.2M554.3 645.8v3.2M527.4 673.7h3.2M529.0 672.1v3.2M535.0 666.0h3.2M536.6 664.4v3.2M552.6 648.1h3.2M554.2 646.5v3.2M546.4 653.5h3.2M548.0 651.9v3.2M551.8 648.9h3.2M553.4 647.3v3.2M525.8 675.2h3.2M527.4 673.6v3.2M525.4 673.7h3.2M527.0 672.1v3.2M552.0 647.8h3.2M553.6 646.2v3.2M536.3 663.4h3.2M537.9 661.8v3.2M541.3 657.5h3.2M542.9 655.9v3.2M550.4 649.6h3.2M552.0 648.0v3.2M534.2 667.2h3.2M535.8 665.6v3.2M543.2 657.1h3.2M544.8 655.5v3.2M543.5 657.0h3.2M545.1 655.4v3.2M550.7 649.7h3.2M552.3 648.1v3.2M533.8 664.6h3.2M535.4 663.0v3.2M529.9 670.7h3.2M531.5 669.1v3.2M543.2 657.9h3.2M544.8 656.3v3.2M546.1 654.5h3.2M547.7 652.9v3.2M528.6 671.7h3.2M530.2 670.1v3.2M547.6 650.8h3.2M549.2 649.2v3.2M548.0 653.4h3.2M549.6 651.8v3.2M540.0 659.9h3.2M541.6 658.3v3.2M548.6 652.0h3.2M550.2 650.4v3.2M543.3 656.0h3.2M544.9 654.4v3.2M529.0 670.9h3.2M530.6 669.3v3.2M549.7 651.1h3.2M551.3 649.5v3.2M546.9 652.8h3.2M548.5 651.2v3.2M526.7 675.7h3.2M528.3 674.1v3.2M525.7 674.4h3.2M527.3 672.8v3.2M552.3 648.2h3.2M553.9 646.6v3.2M534.0 665.1h3.2M535.6 663.5v3.2M540.2 660.9h3.2M541.8 659.3v3.2M542.3 657.2h3.2M543.9 655.6v3.2M552.5 648.0h3.2M554.1 646.4v3.2M531.7 667.7h3.2M533.3 666.1v3.2M528.0 672.1h3.2M529.6 670.5v3.2M527.6 671.4h3.2M529.2 669.8v3.2M536.7 663.5h3.2M538.3 661.9v3.2M525.8 674.8h3.2M527.4 673.2v3.2M550.1 650.0h3.2M551.7 648.4v3.2M525.1 674.9h3.2M526.7 673.3v3.2M531.5 668.4h3.2M533.1 666.8v3.2M536.5 663.8h3.2M538.1 662.2v3.2M536.0 663.5h3.2M537.6 661.9v3.2M535.6 664.1h3.2M537.2 662.5v3.2M552.2 648.0h3.2M553.8 646.4v3.2M529.9 671.0h3.2M531.5 669.4v3.2M534.7 666.2h3.2M536.3 664.6v3.2M545.9 655.4h3.2M547.5 653.8v3.2M534.9 665.6h3.2M536.5 664.0v3.2M551.4 648.6h3.2M553.0 647.0v3.2M533.7 667.3h3.2M535.3 665.7v3.2M539.7 660.4h3.2M541.3 658.8v3.2M536.7 664.6h3.2M538.3 663.0v3.2M544.9 655.2h3.2M546.5 653.6v3.2M540.9 660.2h3.2M542.5 658.6v3.2M545.1 654.8h3.2M546.7 653.2v3.2M526.1 673.5h3.2M527.7 671.9v3.2M527.4 673.1h3.2M529.0 671.5v3.2M529.5 671.1h3.2M531.1 669.5v3.2M543.2 656.2h3.2M544.8 654.6v3.2M531.5 670.0h3.2M533.1 668.4v3.2M531.3 669.1h3.2M532.9 667.5v3.2M544.4 656.2h3.2M546.0 654.6v3.2M541.1 659.1h3.2M542.7 657.5v3.2M544.7 656.9h3.2M546.3 655.3v3.2M536.2 663.2h3.2M537.8 661.6v3.2M536.7 662.9h3.2M538.3 661.3v3.2M526.0 673.1h3.2M527.6 671.5v3.2M535.6 665.9h3.2M537.2 664.3v3.2M543.4 657.9h3.2M545.0 656.3v3.2M549.9 651.0h3.2M551.5 649.4v3.2M534.7 665.0h3.2M536.3 663.4v3.2M531.7 669.1h3.2M533.3 667.5v3.2M530.5 670.5h3.2M532.1 668.9v3.2M539.4 661.6h3.2M541.0 660.0v3.2M553.1 648.6h3.2M554.7 647.0v3.2M551.8 648.1h3.2M553.4 646.5v3.2M549.0 651.6h3.2M550.6 650.0v3.2M553.0 647.3h3.2M554.6 645.7v3.2M549.5 650.0h3.2M551.1 648.4v3.2M536.6 663.0h3.2M538.2 661.4v3.2M536.8 664.0h3.2M538.4 662.4v3.2M532.4 668.5h3.2M534.0 666.9v3.2M527.8 673.0h3.2M529.4 671.4v3.2M549.6 649.9h3.2M551.2 648.3v3.2M532.4 667.4h3.2M534.0 665.8v3.2M548.5 651.5h3.2M550.1 649.9v3.2M529.8 669.9h3.2M531.4 668.3v3.2M533.2 666.3h3.2M534.8 664.7v3.2M525.8 673.5h3.2M527.4 671.9v3.2M548.3 652.0h3.2M549.9 650.4v3.2M530.1 670.4h3.2M531.7 668.8v3.2M548.1 652.8h3.2M549.7 651.2v3.2M530.7 669.4h3.2M532.3 667.8v3.2M526.3 673.8h3.2M527.9 672.2v3.2M544.8 655.1h3.2M546.4 653.5v3.2M538.0 662.3h3.2M539.6 660.7v3.2M551.5 648.0h3.2M553.1 646.4v3.2M536.7 664.1h3.2M538.3 662.5v3.2M539.6 662.0h3.2M541.2 660.4v3.2M541.3 659.3h3.2M542.9 657.7v3.2M534.2 666.0h3.2M535.8 664.4v3.2M551.9 648.8h3.2M553.5 647.2v3.2M548.6 651.0h3.2M550.2 649.4v3.2M540.7 660.2h3.2M542.3 658.6v3.2M530.4 671.0h3.2M532.0 669.4v3.2M528.8 671.6h3.2M530.4 670.0v3.2M540.8 659.6h3.2M542.4 658.0v3.2M528.8 671.5h3.2M530.4 669.9v3.2M542.5 656.1h3.2M544.1 654.5v3.2M542.8 656.0h3.2M544.4 654.4v3.2M540.3 661.7h3.2M541.9 660.1v3.2M538.5 661.9h3.2M540.1 660.3v3.2M550.1 651.5h3.2M551.7 649.9v3.2M538.2 662.4h3.2M539.8 660.8v3.2M530.2 669.8h3.2M531.8 668.2v3.2M541.3 659.1h3.2M542.9 657.5v3.2M530.3 669.8h3.2M531.9 668.2v3.2M544.2 655.6h3.2M545.8 654.0v3.2M542.1 657.8h3.2M543.7 656.2v3.2M531.8 666.7h3.2M533.4 665.1v3.2M543.6 655.4h3.2M545.2 653.8v3.2M548.9 652.3h3.2M550.5 650.7v3.2M546.4 653.4h3.2M548.0 651.8v3.2M550.8 649.2h3.2M552.4 647.6v3.2M553.0 647.8h3.2M554.6 646.2v3.2M548.3 651.8h3.2M549.9 650.2v3.2M544.4 656.5h3.2M546.0 654.9v3.2M536.9 662.3h3.2M538.5 660.7v3.2M535.8 664.7h3.2M537.4 663.1v3.2M539.5 659.8h3.2M541.1 658.2v3.2M550.0 650.4h3.2M551.6 648.8v3.2M537.7 662.5h3.2M539.3 660.9v3.2M526.9 673.5h3.2M528.5 671.9v3.2M550.0 650.0h3.2M551.6 648.4v3.2M531.0 670.0h3.2M532.6 668.4v3.2M544.5 656.6h3.2M546.1 655.0v3.2M535.7 663.8h3.2M537.3 662.2v3.2M551.9 647.9h3.2M553.5 646.3v3.2M538.6 660.9h3.2M540.2 659.3v3.2M536.1 664.0h3.2M537.7 662.4v3.2M544.8 656.2h3.2M546.4 654.6v3.2M551.9 649.1h3.2M553.5 647.5v3.2M546.2 653.4h3.2M547.8 651.8v3.2M526.7 673.4h3.2M528.3 671.8v3.2M525.9 672.9h3.2M527.5 671.3v3.2M549.5 650.4h3.2M551.1 648.8v3.2M529.3 670.9h3.2M530.9 669.3v3.2M537.5 661.4h3.2M539.1 659.8v3.2M549.6 650.9h3.2M551.2 649.3v3.2M539.5 661.3h3.2M541.1 659.7v3.2M545.2 654.4h3.2M546.8 652.8v3.2M549.8 650.7h3.2M551.4 649.1v3.2M535.3 664.5h3.2M536.9 662.9v3.2M538.4 662.1h3.2M540.0 660.5v3.2M544.6 655.0h3.2M546.2 653.4v3.2M539.0 662.1h3.2M540.6 660.5v3.2M524.5 676.3h3.2M526.1 674.7v3.2M540.1 660.0h3.2M541.7 658.4v3.2M552.5 647.9h3.2M554.1 646.3v3.2M530.1 670.4h3.2M531.7 668.8v3.2M528.7 672.1h3.2M530.3 670.5v3.2M524.8 674.8h3.2M526.4 673.2v3.2M531.8 668.1h3.2M533.4 666.5v3.2M533.0 667.2h3.2M534.6 665.6v3.2M550.6 649.2h3.2M552.2 647.6v3.2M541.8 658.7h3.2M543.4 657.1v3.2M526.7 672.5h3.2M528.3 670.9v3.2M526.5 673.6h3.2M528.1 672.0v3.2M540.0 659.8h3.2M541.6 658.2v3.2M542.8 658.6h3.2M544.4 657.0v3.2M550.8 649.1h3.2M552.4 647.5v3.2M529.3 670.7h3.2M530.9 669.1v3.2M574.7 625.7h3.2M576.3 624.1v3.2M565.9 634.0h3.2M567.5 632.4v3.2M560.9 637.0h3.2M562.5 635.4v3.2M570.6 630.2h3.2M572.2 628.6v3.2M575.9 624.5h3.2M577.5 622.9v3.2M571.6 627.7h3.2M573.2 626.1v3.2M564.1 634.7h3.2M565.7 633.1v3.2M573.7 626.9h3.2M575.3 625.3v3.2M558.9 641.8h3.2M560.5 640.2v3.2M562.7 637.0h3.2M564.3 635.4v3.2M579.5 621.9h3.2M581.1 620.3v3.2M582.0 618.2h3.2M583.6 616.6v3.2M555.2 645.9h3.2M556.8 644.3v3.2M554.6 645.4h3.2M556.2 643.8v3.2M576.9 624.5h3.2M578.5 622.9v3.2M554.7 647.2h3.2M556.3 645.6v3.2M557.2 642.8h3.2M558.8 641.2v3.2M567.9 632.8h3.2M569.5 631.2v3.2M563.9 636.3h3.2M565.5 634.7v3.2M581.7 617.2h3.2M583.3 615.6v3.2M579.4 622.1h3.2M581.0 620.5v3.2M581.5 621.2h3.2M583.1 619.6v3.2M570.1 629.4h3.2M571.7 627.8v3.2M563.2 637.0h3.2M564.8 635.4v3.2M560.5 640.3h3.2M562.1 638.7v3.2M564.1 637.7h3.2M565.7 636.1v3.2M575.5 622.8h3.2M577.1 621.2v3.2M555.8 643.5h3.2M557.4 641.9v3.2M578.0 620.5h3.2M579.6 618.9v3.2M560.7 639.5h3.2M562.3 637.9v3.2M573.6 625.1h3.2M575.2 623.5v3.2M571.6 629.8h3.2M573.2 628.2v3.2M557.5 642.1h3.2M559.1 640.5v3.2M555.1 647.1h3.2M556.7 645.5v3.2M571.6 626.9h3.2M573.2 625.3v3.2M563.2 636.5h3.2M564.8 634.9v3.2M566.9 631.4h3.2M568.5 629.8v3.2M556.0 644.6h3.2M557.6 643.0v3.2M568.8 631.4h3.2M570.4 629.8v3.2M562.2 639.7h3.2M563.8 638.1v3.2M560.0 640.6h3.2M561.6 639.0v3.2M565.8 637.1h3.2M567.4 635.5v3.2M579.8 620.4h3.2M581.4 618.8v3.2M569.7 629.6h3.2M571.3 628.0v3.2M554.7 647.1h3.2M556.3 645.5v3.2M556.7 642.9h3.2M558.3 641.3v3.2M568.2 630.3h3.2M569.8 628.7v3.2M562.3 638.0h3.2M563.9 636.4v3.2M580.6 619.4h3.2M582.2 617.8v3.2M577.9 622.1h3.2M579.5 620.5v3.2M579.7 620.0h3.2M581.3 618.4v3.2M580.2 621.9h3.2M581.8 620.3v3.2M581.0 621.4h3.2M582.6 619.8v3.2M561.6 639.7h3.2M563.2 638.1v3.2M577.3 622.5h3.2M578.9 620.9v3.2M579.9 619.1h3.2M581.5 617.5v3.2M579.1 624.2h3.2M580.7 622.6v3.2M570.7 629.5h3.2M572.3 627.9v3.2M575.3 624.4h3.2M576.9 622.8v3.2M568.0 631.2h3.2M569.6 629.6v3.2M568.9 631.6h3.2M570.5 630.0v3.2M579.3 621.9h3.2M580.9 620.3v3.2M578.6 621.1h3.2M580.2 619.5v3.2M568.0 630.6h3.2M569.6 629.0v3.2M570.7 629.5h3.2M572.3 627.9v3.2M566.8 633.3h3.2M568.4 631.7v3.2M582.7 617.9h3.2M584.3 616.3v3.2M556.6 644.9h3.2M558.2 643.3v3.2M561.3 639.1h3.2M562.9 637.5v3.2M577.3 622.7h3.2M578.9 621.1v3.2M577.7 623.2h3.2M579.3 621.6v3.2M581.1 618.5h3.2M582.7 616.9v3.2M563.3 634.1h3.2M564.9 632.5v3.2M570.3 630.9h3.2M571.9 629.3v3.2M574.0 626.4h3.2M575.6 624.8v3.2M561.6 638.8h3.2M563.2 637.2v3.2M557.0 643.7h3.2M558.6 642.1v3.2M581.8 617.7h3.2M583.4 616.1v3.2M574.2 626.8h3.2M575.8 625.2v3.2M564.0 638.0h3.2M565.6 636.4v3.2M570.4 631.9h3.2M572.0 630.3v3.2M577.6 623.7h3.2M579.2 622.1v3.2M570.8 629.1h3.2M572.4 627.5v3.2M557.0 642.3h3.2M558.6 640.7v3.2M563.3 636.9h3.2M564.9 635.3v3.2M556.9 641.8h3.2M558.5 640.2v3.2M560.7 639.3h3.2M562.3 637.7v3.2M555.0 645.3h3.2M556.6 643.7v3.2M567.9 634.1h3.2M569.5 632.5v3.2M558.4 643.7h3.2M560.0 642.1v3.2M576.1 624.5h3.2M577.7 622.9v3.2M569.3 630.0h3.2M570.9 628.4v3.2M582.8 616.6h3.2M584.4 615.0v3.2M582.3 617.2h3.2M583.9 615.6v3.2M561.9 639.4h3.2M563.5 637.8v3.2M566.1 633.9h3.2M567.7 632.3v3.2M562.3 636.5h3.2M563.9 634.9v3.2M573.2 625.1h3.2M574.8 623.5v3.2M560.0 642.1h3.2M561.6 640.5v3.2M568.7 631.5h3.2M570.3 629.9v3.2M579.6 622.0h3.2M581.2 620.4v3.2M577.6 623.7h3.2M579.2 622.1v3.2M576.7 623.4h3.2M578.3 621.8v3.2M567.7 632.2h3.2M569.3 630.6v3.2M561.2 638.1h3.2M562.8 636.5v3.2M566.9 632.7h3.2M568.5 631.1v3.2M568.6 629.5h3.2M570.2 627.9v3.2M561.4 637.5h3.2M563.0 635.9v3.2M562.0 638.5h3.2M563.6 636.9v3.2M579.2 621.6h3.2M580.8 620.0v3.2M581.5 619.6h3.2M583.1 618.0v3.2M581.0 620.1h3.2M582.6 618.5v3.2M581.3 622.8h3.2M582.9 621.2v3.2M562.5 637.3h3.2M564.1 635.7v3.2M555.6 644.6h3.2M557.2 643.0v3.2M554.8 646.9h3.2M556.4 645.3v3.2M560.3 638.2h3.2M561.9 636.6v3.2M558.4 642.2h3.2M560.0 640.6v3.2M557.2 642.8h3.2M558.8 641.2v3.2M557.5 643.2h3.2M559.1 641.6v3.2M557.1 643.9h3.2M558.7 642.3v3.2M553.8 644.2h3.2M555.4 642.6v3.2M578.1 623.2h3.2M579.7 621.6v3.2M561.9 637.0h3.2M563.5 635.4v3.2M578.3 622.4h3.2M579.9 620.8v3.2M582.2 618.3h3.2M583.8 616.7v3.2M561.1 640.9h3.2M562.7 639.3v3.2M554.6 644.7h3.2M556.2 643.1v3.2M556.3 643.6h3.2M557.9 642.0v3.2M573.2 626.5h3.2M574.8 624.9v3.2M573.8 626.7h3.2M575.4 625.1v3.2M560.7 641.0h3.2M562.3 639.4v3.2M579.0 620.1h3.2M580.6 618.5v3.2M571.5 627.4h3.2M573.1 625.8v3.2M556.3 645.6h3.2M557.9 644.0v3.2M568.3 630.6h3.2M569.9 629.0v3.2M570.2 628.0h3.2M571.8 626.4v3.2M569.6 630.8h3.2M571.2 629.2v3.2M561.5 637.9h3.2M563.1 636.3v3.2M553.8 646.4h3.2M555.4 644.8v3.2M569.8 631.8h3.2M571.4 630.2v3.2M559.2 639.7h3.2M560.8 638.1v3.2M568.1 630.8h3.2M569.7 629.2v3.2M567.0 632.5h3.2M568.6 630.9v3.2M568.4 631.0h3.2M570.0 629.4v3.2M567.9 630.1h3.2M569.5 628.5v3.2M576.9 623.1h3.2M578.5 621.5v3.2M561.1 638.6h3.2M562.7 637.0v3.2M562.6 636.8h3.2M564.2 635.2v3.2M563.0 638.4h3.2M564.6 636.8v3.2M583.3 616.9h3.2M584.9 615.3v3.2M573.9 625.2h3.2M575.5 623.6v3.2M581.7 619.5h3.2M583.3 617.9v3.2M582.9 618.8h3.2M584.5 617.2v3.2M565.6 636.2h3.2M567.2 634.6v3.2M562.4 636.3h3.2M564.0 634.7v3.2M558.2 642.5h3.2M559.8 640.9v3.2M563.5 635.6h3.2M565.1 634.0v3.2M567.3 632.6h3.2M568.9 631.0v3.2M579.7 618.1h3.2M581.3 616.5v3.2M576.8 624.1h3.2M578.4 622.5v3.2M554.4 646.9h3.2M556.0 645.3v3.2M559.4 640.4h3.2M561.0 638.8v3.2M568.2 632.8h3.2M569.8 631.2v3.2M557.2 642.3h3.2M558.8 640.7v3.2M560.5 638.7h3.2M562.1 637.1v3.2M574.0 626.1h3.2M575.6 624.5v3.2M578.8 621.8h3.2M580.4 620.2v3.2M576.5 624.5h3.2M578.1 622.9v3.2M561.2 638.4h3.2M562.8 636.8v3.2M575.4 626.8h3.2M577.0 625.2v3.2M574.4 628.4h3.2M576.0 626.8v3.2M570.5 630.8h3.2M572.1 629.2v3.2M566.4 634.2h3.2M568.0 632.6v3.2M583.4 617.9h3.2M585.0 616.3v3.2M556.6 644.9h3.2M558.2 643.3v3.2M582.6 617.7h3.2M584.2 616.1v3.2M574.9 623.2h3.2M576.5 621.6v3.2M559.0 641.3h3.2M560.6 639.7v3.2M570.3 630.4h3.2M571.9 628.8v3.2M556.2 644.3h3.2M557.8 642.7v3.2M581.4 619.6h3.2M583.0 618.0v3.2M576.8 622.8h3.2M578.4 621.2v3.2M560.0 643.4h3.2M561.6 641.8v3.2M557.1 641.6h3.2M558.7 640.0v3.2M557.3 644.4h3.2M558.9 642.8v3.2M576.1 622.1h3.2M577.7 620.5v3.2M563.4 636.3h3.2M565.0 634.7v3.2M555.7 646.1h3.2M557.3 644.5v3.2M569.3 632.1h3.2M570.9 630.5v3.2M576.6 624.0h3.2M578.2 622.4v3.2M560.4 640.8h3.2M562.0 639.2v3.2M578.9 621.2h3.2M580.5 619.6v3.2M574.9 624.7h3.2M576.5 623.1v3.2M554.4 645.0h3.2M556.0 643.4v3.2M576.5 623.9h3.2M578.1 622.3v3.2M574.9 625.1h3.2M576.5 623.5v3.2M554.6 645.0h3.2M556.2 643.4v3.2M572.7 627.5h3.2M574.3 625.9v3.2M578.6 621.6h3.2M580.2 620.0v3.2M579.9 619.4h3.2M581.5 617.8v3.2M573.6 627.8h3.2M575.2 626.2v3.2M580.8 618.6h3.2M582.4 617.0v3.2M576.0 623.1h3.2M577.6 621.5v3.2M569.0 632.8h3.2M570.6 631.2v3.2M566.1 634.4h3.2M567.7 632.8v3.2M563.3 636.3h3.2M564.9 634.7v3.2M563.2 637.6h3.2M564.8 636.0v3.2M576.4 624.9h3.2M578.0 623.3v3.2M578.4 621.0h3.2M580.0 619.4v3.2M556.4 641.9h3.2M558.0 640.3v3.2M576.8 623.3h3.2M578.4 621.7v3.2M566.0 635.8h3.2M567.6 634.2v3.2M573.1 629.8h3.2M574.7 628.2v3.2M573.0 627.0h3.2M574.6 625.4v3.2M570.9 629.9h3.2M572.5 628.3v3.2M566.4 635.2h3.2M568.0 633.6v3.2M575.6 623.6h3.2M577.2 622.0v3.2M570.6 629.7h3.2M572.2 628.1v3.2M583.0 616.6h3.2M584.6 615.0v3.2M570.6 629.0h3.2M572.2 627.4v3.2M556.2 643.7h3.2M557.8 642.1v3.2M574.5 625.5h3.2M576.1 623.9v3.2M560.4 638.1h3.2M562.0 636.5v3.2M568.3 632.2h3.2M569.9 630.6v3.2M579.9 618.7h3.2M581.5 617.1v3.2M556.3 644.0h3.2M557.9 642.4v3.2M572.2 627.9h3.2M573.8 626.3v3.2M570.1 631.3h3.2M571.7 629.7v3.2M573.8 627.0h3.2M575.4 625.4v3.2M580.1 621.4h3.2M581.7 619.8v3.2M577.7 623.3h3.2M579.3 621.7v3.2M558.3 644.2h3.2M559.9 642.6v3.2M563.0 635.5h3.2M564.6 633.9v3.2M560.1 640.6h3.2M561.7 639.0v3.2M566.5 634.5h3.2M568.1 632.9v3.2M575.4 626.3h3.2M577.0 624.7v3.2M581.8 617.9h3.2M583.4 616.3v3.2M566.4 633.9h3.2M568.0 632.3v3.2M566.1 634.1h3.2M567.7 632.5v3.2M555.1 646.7h3.2M556.7 645.1v3.2M557.9 644.0h3.2M559.5 642.4v3.2M561.9 637.0h3.2M563.5 635.4v3.2M554.5 645.6h3.2M556.1 644.0v3.2M556.7 643.0h3.2M558.3 641.4v3.2M555.9 643.3h3.2M557.5 641.7v3.2M566.3 630.7h3.2M567.9 629.1v3.2M556.8 646.9h3.2M558.4 645.3v3.2M559.7 641.9h3.2M561.3 640.3v3.2M582.6 618.4h3.2M584.2 616.8v3.2M577.4 624.0h3.2M579.0 622.4v3.2M564.8 636.4h3.2M566.4 634.8v3.2M582.6 617.3h3.2M584.2 615.7v3.2M560.5 638.2h3.2M562.1 636.6v3.2M566.1 633.0h3.2M567.7 631.4v3.2M570.4 629.7h3.2M572.0 628.1v3.2M554.8 642.4h3.2M556.4 640.8v3.2M566.4 635.6h3.2M568.0 634.0v3.2M568.8 631.6h3.2M570.4 630.0v3.2M574.5 623.6h3.2M576.1 622.0v3.2M564.9 635.2h3.2M566.5 633.6v3.2M571.7 627.9h3.2M573.3 626.3v3.2M554.3 646.3h3.2M555.9 644.7v3.2M564.5 636.5h3.2M566.1 634.9v3.2M576.9 625.9h3.2M578.5 624.3v3.2M556.6 644.0h3.2M558.2 642.4v3.2M582.8 619.1h3.2M584.4 617.5v3.2M578.4 621.3h3.2M580.0 619.7v3.2M580.6 617.5h3.2M582.2 615.9v3.2M555.1 645.9h3.2M556.7 644.3v3.2M576.3 622.7h3.2M577.9 621.1v3.2M557.3 641.3h3.2M558.9 639.7v3.2M555.3 643.3h3.2M556.9 641.7v3.2M574.0 626.0h3.2M575.6 624.4v3.2M557.6 639.8h3.2M559.2 638.2v3.2M560.5 638.4h3.2M562.1 636.8v3.2M579.0 623.1h3.2M580.6 621.5v3.2M566.6 633.3h3.2M568.2 631.7v3.2M565.8 633.9h3.2M567.4 632.3v3.2M556.0 644.4h3.2M557.6 642.8v3.2M562.6 638.9h3.2M564.2 637.3v3.2M565.6 637.0h3.2M567.2 635.4v3.2M578.6 619.4h3.2M580.2 617.8v3.2M579.9 619.4h3.2M581.5 617.8v3.2M574.4 625.0h3.2M576.0 623.4v3.2M570.6 630.0h3.2M572.2 628.4v3.2M563.0 637.4h3.2M564.6 635.8v3.2M572.5 627.5h3.2M574.1 625.9v3.2M563.1 635.9h3.2M564.7 634.3v3.2M583.3 617.7h3.2M584.9 616.1v3.2M582.3 616.1h3.2M583.9 614.5v3.2M583.3 619.3h3.2M584.9 617.7v3.2M569.0 630.6h3.2M570.6 629.0v3.2M577.0 623.0h3.2M578.6 621.4v3.2M568.2 632.3h3.2M569.8 630.7v3.2M570.9 626.7h3.2M572.5 625.1v3.2M574.1 625.6h3.2M575.7 624.0v3.2M567.2 632.8h3.2M568.8 631.2v3.2M556.2 645.5h3.2M557.8 643.9v3.2M566.5 636.8h3.2M568.1 635.2v3.2M557.5 642.4h3.2M559.1 640.8v3.2M571.8 628.6h3.2M573.4 627.0v3.2M560.6 640.0h3.2M562.2 638.4v3.2M582.1 619.9h3.2M583.7 618.3v3.2M553.9 646.0h3.2M555.5 644.4v3.2M567.4 631.3h3.2M569.0 629.7v3.2M566.8 634.6h3.2M568.4 633.0v3.2M569.3 631.1h3.2M570.9 629.5v3.2M564.2 637.2h3.2M565.8 635.6v3.2M578.8 621.4h3.2M580.4 619.8v3.2M578.0 622.7h3.2M579.6 621.1v3.2M567.9 631.1h3.2M569.5 629.5v3.2M579.1 621.8h3.2M580.7 620.2v3.2M554.3 646.5h3.2M555.9 644.9v3.2M566.9 630.5h3.2M568.5 628.9v3.2M581.8 619.3h3.2M583.4 617.7v3.2M565.5 634.2h3.2M567.1 632.6v3.2M576.1 624.2h3.2M577.7 622.6v3.2M569.7 631.8h3.2M571.3 630.2v3.2M556.0 646.4h3.2M557.6 644.8v3.2M557.4 638.8h3.2M559.0 637.2v3.2M558.1 642.8h3.2M559.7 641.2v3.2M561.7 638.8h3.2M563.3 637.2v3.2M580.8 618.4h3.2M582.4 616.8v3.2M554.3 646.1h3.2M555.9 644.5v3.2M579.4 621.9h3.2M581.0 620.3v3.2M556.1 643.0h3.2M557.7 641.4v3.2M581.6 616.5h3.2M583.2 614.9v3.2M578.3 623.3h3.2M579.9 621.7v3.2M560.4 640.3h3.2M562.0 638.7v3.2M557.3 643.0h3.2M558.9 641.4v3.2M571.8 630.5h3.2M573.4 628.9v3.2M557.5 642.7h3.2M559.1 641.1v3.2M581.5 619.3h3.2M583.1 617.7v3.2M574.6 622.7h3.2M576.2 621.1v3.2M583.1 617.8h3.2M584.7 616.2v3.2M559.8 640.4h3.2M561.4 638.8v3.2M572.8 628.3h3.2M574.4 626.7v3.2M570.4 627.9h3.2M572.0 626.3v3.2M569.3 630.7h3.2M570.9 629.1v3.2M562.3 636.5h3.2M563.9 634.9v3.2M553.9 643.8h3.2M555.5 642.2v3.2M568.8 632.8h3.2M570.4 631.2v3.2M567.3 634.5h3.2M568.9 632.9v3.2M577.9 620.9h3.2M579.5 619.3v3.2M569.6 628.0h3.2M571.2 626.4v3.2M572.5 629.9h3.2M574.1 628.3v3.2M563.6 636.4h3.2M565.2 634.8v3.2M556.9 643.7h3.2M558.5 642.1v3.2M581.1 619.0h3.2M582.7 617.4v3.2M636.3 561.9h3.2M637.9 560.3v3.2M616.9 580.1h3.2M618.5 578.5v3.2M626.1 573.3h3.2M627.7 571.7v3.2M587.7 612.0h3.2M589.3 610.4v3.2M626.0 573.6h3.2M627.6 572.0v3.2M615.9 584.7h3.2M617.5 583.1v3.2M598.6 601.4h3.2M600.2 599.8v3.2M620.8 582.8h3.2M622.4 581.2v3.2M627.0 574.0h3.2M628.6 572.4v3.2M608.7 590.0h3.2M610.3 588.4v3.2M607.5 591.0h3.2M609.1 589.4v3.2M635.7 566.9h3.2M637.3 565.3v3.2M600.5 599.5h3.2M602.1 597.9v3.2M583.4 615.8h3.2M585.0 614.2v3.2M623.2 577.4h3.2M624.8 575.8v3.2M640.2 558.7h3.2M641.8 557.1v3.2M624.4 574.8h3.2M626.0 573.2v3.2M633.4 569.4h3.2M635.0 567.8v3.2M592.3 609.5h3.2M593.9 607.9v3.2M598.8 600.6h3.2M600.4 599.0v3.2M604.3 594.1h3.2M605.9 592.5v3.2M600.3 599.7h3.2M601.9 598.1v3.2M586.0 612.5h3.2M587.6 610.9v3.2M622.7 575.8h3.2M624.3 574.2v3.2M606.5 594.1h3.2M608.1 592.5v3.2M590.8 609.3h3.2M592.4 607.7v3.2M583.6 614.9h3.2M585.2 613.3v3.2M596.3 603.4h3.2M597.9 601.8v3.2M614.0 586.7h3.2M615.6 585.1v3.2M639.1 561.3h3.2M640.7 559.7v3.2M635.7 566.8h3.2M637.3 565.2v3.2M613.3 588.0h3.2M614.9 586.4v3.2M615.2 586.4h3.2M616.8 584.8v3.2M636.8 561.6h3.2M638.4 560.0v3.2M623.2 577.9h3.2M624.8 576.3v3.2M630.8 569.2h3.2M632.4 567.6v3.2M603.2 599.7h3.2M604.8 598.1v3.2M638.6 560.4h3.2M640.2 558.8v3.2M626.3 572.5h3.2M627.9 570.9v3.2M629.3 572.3h3.2M630.9 570.7v3.2M585.8 612.5h3.2M587.4 610.9v3.2M624.7 575.2h3.2M626.3 573.6v3.2M602.2 596.1h3.2M603.8 594.5v3.2M604.7 594.0h3.2M606.3 592.4v3.2M623.5 578.2h3.2M625.1 576.6v3.2M613.4 586.0h3.2M615.0 584.4v3.2M611.8 589.3h3.2M613.4 587.7v3.2M599.4 599.8h3.2M601.0 598.2v3.2M605.9 593.9h3.2M607.5 592.3v3.2M639.6 560.0h3.2M641.2 558.4v3.2M612.4 587.7h3.2M614.0 586.1v3.2M584.2 614.4h3.2M585.8 612.8v3.2M605.4 594.3h3.2M607.0 592.7v3.2M639.9 560.1h3.2M641.5 558.5v3.2M617.2 582.8h3.2M618.8 581.2v3.2M597.7 602.7h3.2M599.3 601.1v3.2M602.6 597.1h3.2M604.2 595.5v3.2M611.1 588.4h3.2M612.7 586.8v3.2M598.0 600.1h3.2M599.6 598.5v3.2M612.9 586.5h3.2M614.5 584.9v3.2M626.6 573.3h3.2M628.2 571.7v3.2M621.2 578.7h3.2M622.8 577.1v3.2M611.5 589.0h3.2M613.1 587.4v3.2M601.9 594.6h3.2M603.5 593.0v3.2M632.7 567.9h3.2M634.3 566.3v3.2M584.9 617.7h3.2M586.5 616.1v3.2M630.3 568.4h3.2M631.9 566.8v3.2M612.5 588.4h3.2M614.1 586.8v3.2M605.1 595.5h3.2M606.7 593.9v3.2M620.9 581.9h3.2M622.5 580.3v3.2M586.4 613.5h3.2M588.0 611.9v3.2M601.7 602.4h3.2M603.3 600.8v3.2M599.7 599.2h3.2M601.3 597.6v3.2M637.8 561.8h3.2M639.4 560.2v3.2M640.6 560.5h3.2M642.2 558.9v3.2M593.8 607.4h3.2M595.4 605.8v3.2M608.9 590.9h3.2M610.5 589.3v3.2M635.8 566.9h3.2M637.4 565.3v3.2M588.0 613.1h3.2M589.6 611.5v3.2M601.4 599.0h3.2M603.0 597.4v3.2M590.5 608.4h3.2M592.1 606.8v3.2M625.8 575.2h3.2M627.4 573.6v3.2M640.2 561.9h3.2M641.8 560.3v3.2M620.5 579.6h3.2M622.1 578.0v3.2M589.8 607.9h3.2M591.4 606.3v3.2M633.5 564.7h3.2M635.1 563.1v3.2M592.4 609.6h3.2M594.0 608.0v3.2M625.3 578.1h3.2M626.9 576.5v3.2M628.5 573.9h3.2M630.1 572.3v3.2M585.2 616.0h3.2M586.8 614.4v3.2M626.2 574.5h3.2M627.8 572.9v3.2M582.9 616.0h3.2M584.5 614.4v3.2M626.9 575.7h3.2M628.5 574.1v3.2M604.6 595.7h3.2M606.2 594.1v3.2M603.3 598.7h3.2M604.9 597.1v3.2M602.6 593.8h3.2M604.2 592.2v3.2M597.1 605.0h3.2M598.7 603.4v3.2M609.0 591.3h3.2M610.6 589.7v3.2M601.0 598.5h3.2M602.6 596.9v3.2M608.3 587.5h3.2M609.9 585.9v3.2M632.2 566.8h3.2M633.8 565.2v3.2M630.3 571.1h3.2M631.9 569.5v3.2M639.6 560.9h3.2M641.2 559.3v3.2M630.0 567.8h3.2M631.6 566.2v3.2M637.5 564.8h3.2M639.1 563.2v3.2M605.6 594.2h3.2M607.2 592.6v3.2M583.1 615.7h3.2M584.7 614.1v3.2M583.3 616.7h3.2M584.9 615.1v3.2M640.2 558.9h3.2M641.8 557.3v3.2M586.1 617.7h3.2M587.7 616.1v3.2M604.5 596.3h3.2M606.1 594.7v3.2M621.1 576.8h3.2M622.7 575.2v3.2M612.9 590.0h3.2M614.5 588.4v3.2M628.3 573.8h3.2M629.9 572.2v3.2M609.7 587.9h3.2M611.3 586.3v3.2M611.5 587.8h3.2M613.1 586.2v3.2M609.6 588.1h3.2M611.2 586.5v3.2M626.1 574.5h3.2M627.7 572.9v3.2M602.9 597.7h3.2M604.5 596.1v3.2M621.6 577.2h3.2M623.2 575.6v3.2M606.8 596.6h3.2M608.4 595.0v3.2M627.2 570.8h3.2M628.8 569.2v3.2M605.0 594.3h3.2M606.6 592.7v3.2M619.1 582.6h3.2M620.7 581.0v3.2M583.6 613.1h3.2M585.2 611.5v3.2M586.6 612.6h3.2M588.2 611.0v3.2M632.4 562.9h3.2M634.0 561.3v3.2M624.0 573.9h3.2M625.6 572.3v3.2M625.0 575.4h3.2M626.6 573.8v3.2M589.4 609.2h3.2M591.0 607.6v3.2M633.8 568.5h3.2M635.4 566.9v3.2M595.1 603.4h3.2M596.7 601.8v3.2M611.5 587.3h3.2M613.1 585.7v3.2M611.7 588.5h3.2M613.3 586.9v3.2M611.0 591.6h3.2M612.6 590.0v3.2M639.7 560.4h3.2M641.3 558.8v3.2M636.6 565.0h3.2M638.2 563.4v3.2M606.7 596.1h3.2M608.3 594.5v3.2M616.7 581.1h3.2M618.3 579.5v3.2M600.3 599.0h3.2M601.9 597.4v3.2M621.6 576.8h3.2M623.2 575.2v3.2M613.0 589.4h3.2M614.6 587.8v3.2M621.3 580.4h3.2M622.9 578.8v3.2M583.7 616.6h3.2M585.3 615.0v3.2M634.0 564.0h3.2M635.6 562.4v3.2M631.3 568.7h3.2M632.9 567.1v3.2M633.1 563.6h3.2M634.7 562.0v3.2M607.6 595.9h3.2M609.2 594.3v3.2M625.8 575.3h3.2M627.4 573.7v3.2M607.0 591.9h3.2M608.6 590.3v3.2M604.2 595.2h3.2M605.8 593.6v3.2M633.1 568.6h3.2M634.7 567.0v3.2M588.4 614.8h3.2M590.0 613.2v3.2M615.7 584.5h3.2M617.3 582.9v3.2M620.1 579.4h3.2M621.7 577.8v3.2M635.3 567.7h3.2M636.9 566.1v3.2M604.9 594.2h3.2M606.5 592.6v3.2M597.9 602.4h3.2M599.5 600.8v3.2M632.1 567.1h3.2M633.7 565.5v3.2M619.8 579.2h3.2M621.4 577.6v3.2M594.9 606.9h3.2M596.5 605.3v3.2M616.7 583.7h3.2M618.3 582.1v3.2M593.4 605.5h3.2M595.0 603.9v3.2M598.4 601.5h3.2M600.0 599.9v3.2M625.4 573.3h3.2M627.0 571.7v3.2M627.8 574.6h3.2M629.4 573.0v3.2M606.7 596.7h3.2M608.3 595.1v3.2M615.6 585.3h3.2M617.2 583.7v3.2M616.6 583.0h3.2M618.2 581.4v3.2M634.9 563.6h3.2M636.5 562.0v3.2M585.1 617.4h3.2M586.7 615.8v3.2M606.8 593.1h3.2M608.4 591.5v3.2M636.7 565.4h3.2M638.3 563.8v3.2M583.3 615.6h3.2M584.9 614.0v3.2M618.6 580.0h3.2M620.2 578.4v3.2M632.0 569.5h3.2M633.6 567.9v3.2M591.5 609.6h3.2M593.1 608.0v3.2M597.4 601.8h3.2M599.0 600.2v3.2M586.1 615.2h3.2M587.7 613.6v3.2M614.4 586.7h3.2M616.0 585.1v3.2M638.1 562.9h3.2M639.7 561.3v3.2M605.6 595.9h3.2M607.2 594.3v3.2M619.7 579.2h3.2M621.3 577.6v3.2M593.1 609.1h3.2M594.7 607.5v3.2M584.8 613.2h3.2M586.4 611.6v3.2M590.6 608.5h3.2M592.2 606.9v3.2M586.1 613.9h3.2M587.7 612.3v3.2M636.7 563.2h3.2M638.3 561.6v3.2M623.8 577.4h3.2M625.4 575.8v3.2M587.4 614.3h3.2M589.0 612.7v3.2M587.5 610.8h3.2M589.1 609.2v3.2M637.3 565.7h3.2M638.9 564.1v3.2M626.3 572.7h3.2M627.9 571.1v3.2M612.1 586.5h3.2M613.7 584.9v3.2M620.5 578.2h3.2M622.1 576.6v3.2M631.8 568.6h3.2M633.4 567.0v3.2M599.8 598.5h3.2M601.4 596.9v3.2M639.8 561.9h3.2M641.4 560.3v3.2M602.6 596.2h3.2M604.2 594.6v3.2M595.9 605.1h3.2M597.5 603.5v3.2M604.1 596.5h3.2M605.7 594.9v3.2M610.5 588.8h3.2M612.1 587.2v3.2M598.6 599.2h3.2M600.2 597.6v3.2M589.5 609.5h3.2M591.1 607.9v3.2M612.0 589.2h3.2M613.6 587.6v3.2M623.7 578.8h3.2M625.3 577.2v3.2M596.3 604.2h3.2M597.9 602.6v3.2M603.1 598.6h3.2M604.7 597.0v3.2M636.0 566.3h3.2M637.6 564.7v3.2M605.2 593.1h3.2M606.8 591.5v3.2M610.1 590.7h3.2M611.7 589.1v3.2M639.3 562.8h3.2M640.9 561.2v3.2M588.3 611.2h3.2M589.9 609.6v3.2M632.6 568.4h3.2M634.2 566.8v3.2M600.6 599.2h3.2M602.2 597.6v3.2M623.4 577.0h3.2M625.0 575.4v3.2M613.6 587.6h3.2M615.2 586.0v3.2M625.2 572.7h3.2M626.8 571.1v3.2M598.6 601.7h3.2M600.2 600.1v3.2M587.4 615.1h3.2M589.0 613.5v3.2M637.4 562.6h3.2M639.0 561.0v3.2M603.4 595.1h3.2M605.0 593.5v3.2M586.6 611.1h3.2M588.2 609.5v3.2M589.8 609.6h3.2M591.4 608.0v3.2M588.8 610.8h3.2M590.4 609.2v3.2M628.3 570.3h3.2M629.9 568.7v3.2M608.9 594.7h3.2M610.5 593.1v3.2M601.8 598.1h3.2M603.4 596.5v3.2M613.7 585.1h3.2M615.3 583.5v3.2M630.2 569.2h3.2M631.8 567.6v3.2M624.5 576.4h3.2M626.1 574.8v3.2M612.1 587.1h3.2M613.7 585.5v3.2M614.7 585.4h3.2M616.3 583.8v3.2M630.3 569.9h3.2M631.9 568.3v3.2M610.2 591.9h3.2M611.8 590.3v3.2M616.9 586.1h3.2M618.5 584.5v3.2M626.2 574.0h3.2M627.8 572.4v3.2M635.1 563.0h3.2M636.7 561.4v3.2M586.4 613.4h3.2M588.0 611.8v3.2M620.6 580.6h3.2M622.2 579.0v3.2M596.6 604.6h3.2M598.2 603.0v3.2M593.6 606.9h3.2M595.2 605.3v3.2M613.8 584.8h3.2M615.4 583.2v3.2M584.4 616.4h3.2M586.0 614.8v3.2M614.0 586.4h3.2M615.6 584.8v3.2M587.1 613.9h3.2M588.7 612.3v3.2M591.8 607.7h3.2M593.4 606.1v3.2M610.5 590.4h3.2M612.1 588.8v3.2M592.7 607.3h3.2M594.3 605.7v3.2M600.5 596.5h3.2M602.1 594.9v3.2M587.9 613.0h3.2M589.5 611.4v3.2M620.9 579.3h3.2M622.5 577.7v3.2M625.5 571.5h3.2M627.1 569.9v3.2M592.1 608.5h3.2M593.7 606.9v3.2M626.5 576.7h3.2M628.1 575.1v3.2M631.6 566.9h3.2M633.2 565.3v3.2M607.1 590.1h3.2M608.7 588.5v3.2M605.3 594.8h3.2M606.9 593.2v3.2M598.7 602.7h3.2M600.3 601.1v3.2M591.7 608.8h3.2M593.3 607.2v3.2M636.9 562.9h3.2M638.5 561.3v3.2M640.5 561.3h3.2M642.1 559.7v3.2M623.0 576.6h3.2M624.6 575.0v3.2M604.7 595.9h3.2M606.3 594.3v3.2M601.1 600.9h3.2M602.7 599.3v3.2M639.4 560.4h3.2M641.0 558.8v3.2M600.7 602.9h3.2M602.3 601.3v3.2M588.3 613.0h3.2M589.9 611.4v3.2M628.4 570.8h3.2M630.0 569.2v3.2M631.3 568.3h3.2M632.9 566.7v3.2M609.3 593.1h3.2M610.9 591.5v3.2M637.9 562.3h3.2M639.5 560.7v3.2M636.3 562.3h3.2M637.9 560.7v3.2M626.4 575.7h3.2M628.0 574.1v3.2M622.5 580.3h3.2M624.1 578.7v3.2M627.6 573.1h3.2M629.2 571.5v3.2M594.9 605.9h3.2M596.5 604.3v3.2M615.1 585.6h3.2M616.7 584.0v3.2M590.1 611.2h3.2M591.7 609.6v3.2M640.3 558.7h3.2M641.9 557.1v3.2M625.4 574.0h3.2M627.0 572.4v3.2M608.3 592.5h3.2M609.9 590.9v3.2M619.6 582.9h3.2M621.2 581.3v3.2M600.9 596.8h3.2M602.5 595.2v3.2M584.2 614.9h3.2M585.8 613.3v3.2M619.8 578.4h3.2M621.4 576.8v3.2M630.3 570.9h3.2M631.9 569.3v3.2M629.9 568.4h3.2M631.5 566.8v3.2M591.8 610.8h3.2M593.4 609.2v3.2M588.5 611.0h3.2M590.1 609.4v3.2M592.7 606.7h3.2M594.3 605.1v3.2M637.1 562.2h3.2M638.7 560.6v3.2M598.6 599.8h3.2M600.2 598.2v3.2M637.9 562.7h3.2M639.5 561.1v3.2M602.0 600.3h3.2M603.6 598.7v3.2M615.5 583.2h3.2M617.1 581.6v3.2M639.1 563.3h3.2M640.7 561.7v3.2M614.1 584.5h3.2M615.7 582.9v3.2M586.2 614.5h3.2M587.8 612.9v3.2M591.4 611.3h3.2M593.0 609.7v3.2M620.2 579.3h3.2M621.8 577.7v3.2M631.6 570.0h3.2M633.2 568.4v3.2M632.0 568.3h3.2M633.6 566.7v3.2M613.5 585.0h3.2M615.1 583.4v3.2M641.4 561.0h3.2M643.0 559.4v3.2M587.5 611.8h3.2M589.1 610.2v3.2M635.9 565.2h3.2M637.5 563.6v3.2M621.6 578.9h3.2M623.2 577.3v3.2M594.8 605.5h3.2M596.4 603.9v3.2M591.8 606.1h3.2M593.4 604.5v3.2M637.1 565.6h3.2M638.7 564.0v3.2M640.2 560.2h3.2M641.8 558.6v3.2M628.2 569.1h3.2M629.8 567.5v3.2M637.9 562.9h3.2M639.5 561.3v3.2M624.3 577.4h3.2M625.9 575.8v3.2M624.5 576.6h3.2M626.1 575.0v3.2M605.0 596.2h3.2M606.6 594.6v3.2M592.4 609.5h3.2M594.0 607.9v3.2M611.9 590.5h3.2M613.5 588.9v3.2M596.5 605.3h3.2M598.1 603.7v3.2M638.4 563.7h3.2M640.0 562.1v3.2M621.3 580.4h3.2M622.9 578.8v3.2M594.2 604.7h3.2M595.8 603.1v3.2M618.3 580.6h3.2M619.9 579.0v3.2M592.6 604.6h3.2M594.2 603.0v3.2M619.4 581.4h3.2M621.0 579.8v3.2M596.7 601.9h3.2M598.3 600.3v3.2M588.0 615.2h3.2M589.6 613.6v3.2M610.2 588.4h3.2M611.8 586.8v3.2M583.5 616.6h3.2M585.1 615.0v3.2M590.1 611.2h3.2M591.7 609.6v3.2M599.6 599.3h3.2M601.2 597.7v3.2M609.9 591.1h3.2M611.5 589.5v3.2M631.4 569.1h3.2M633.0 567.5v3.2M627.6 573.2h3.2M629.2 571.6v3.2M588.6 613.1h3.2M590.2 611.5v3.2M600.5 597.2h3.2M602.1 595.6v3.2M612.5 587.5h3.2M614.1 585.9v3.2M633.5 569.0h3.2M635.1 567.4v3.2M585.9 614.3h3.2M587.5 612.7v3.2M591.0 608.9h3.2M592.6 607.3v3.2M635.0 564.6h3.2M636.6 563.0v3.2M589.1 616.2h3.2M590.7 614.6v3.2M607.9 594.3h3.2M609.5 592.7v3.2M615.2 584.5h3.2M616.8 582.9v3.2M602.6 597.3h3.2M604.2 595.7v3.2M604.7 595.5h3.2M606.3 593.9v3.2M622.2 575.3h3.2M623.8 573.7v3.2M592.1 604.7h3.2M593.7 603.1v3.2M594.0 607.2h3.2M595.6 605.6v3.2M601.6 594.7h3.2M603.2 593.1v3.2M583.1 613.6h3.2M584.7 612.0v3.2M622.4 576.0h3.2M624.0 574.4v3.2M632.3 568.6h3.2M633.9 567.0v3.2M588.4 610.7h3.2M590.0 609.1v3.2M626.7 572.8h3.2M628.3 571.2v3.2M624.3 575.2h3.2M625.9 573.6v3.2M627.9 573.0h3.2M629.5 571.4v3.2M622.7 575.2h3.2M624.3 573.6v3.2M637.8 561.6h3.2M639.4 560.0v3.2M597.0 602.2h3.2M598.6 600.6v3.2M597.4 600.1h3.2M599.0 598.5v3.2M634.8 563.9h3.2M636.4 562.3v3.2M619.0 585.1h3.2M620.6 583.5v3.2M640.7 561.8h3.2M642.3 560.2v3.2M603.9 594.5h3.2M605.5 592.9v3.2M608.7 589.1h3.2M610.3 587.5v3.2M606.7 592.1h3.2M608.3 590.5v3.2M635.6 565.2h3.2M637.2 563.6v3.2M592.8 609.4h3.2M594.4 607.8v3.2M593.3 606.9h3.2M594.9 605.3v3.2M616.6 584.2h3.2M618.2 582.6v3.2M618.1 579.9h3.2M619.7 578.3v3.2M615.9 586.2h3.2M617.5 584.6v3.2M623.6 578.0h3.2M625.2 576.4v3.2M585.0 616.0h3.2M586.6 614.4v3.2M592.9 607.9h3.2M594.5 606.3v3.2M617.5 582.1h3.2M619.1 580.5v3.2M604.5 594.3h3.2M606.1 592.7v3.2M629.9 567.5h3.2M631.5 565.9v3.2M640.0 562.0h3.2M641.6 560.4v3.2M640.4 559.6h3.2M642.0 558.0v3.2M627.4 572.7h3.2M629.0 571.1v3.2M614.4 587.3h3.2M616.0 585.7v3.2M633.7 569.4h3.2M635.3 567.8v3.2M623.2 579.2h3.2M624.8 577.6v3.2M617.0 582.0h3.2M618.6 580.4v3.2M607.3 593.9h3.2M608.9 592.3v3.2M623.6 574.3h3.2M625.2 572.7v3.2M634.5 566.7h3.2M636.1 565.1v3.2M590.4 613.8h3.2M592.0 612.2v3.2M594.9 605.9h3.2M596.5 604.3v3.2M630.0 569.4h3.2M631.6 567.8v3.2M584.5 616.5h3.2M586.1 614.9v3.2M608.0 591.9h3.2M609.6 590.3v3.2M584.0 616.0h3.2M585.6 614.4v3.2M601.0 601.3h3.2M602.6 599.7v3.2M597.3 601.1h3.2M598.9 599.5v3.2M605.7 592.5h3.2M607.3 590.9v3.2M600.6 601.0h3.2M602.2 599.4v3.2M603.4 595.8h3.2M605.0 594.2v3.2M608.2 592.1h3.2M609.8 590.5v3.2M626.4 573.4h3.2M628.0 571.8v3.2M603.6 596.7h3.2M605.2 595.1v3.2M616.5 584.0h3.2M618.1 582.4v3.2M616.6 585.4h3.2M618.2 583.8v3.2M605.2 596.5h3.2M606.8 594.9v3.2M588.7 614.6h3.2M590.3 613.0v3.2M636.7 565.4h3.2M638.3 563.8v3.2M615.5 586.0h3.2M617.1 584.4v3.2M605.9 592.0h3.2M607.5 590.4v3.2M600.7 597.2h3.2M602.3 595.6v3.2M587.4 613.9h3.2M589.0 612.3v3.2M619.6 583.9h3.2M621.2 582.3v3.2M626.5 572.8h3.2M628.1 571.2v3.2M623.8 577.5h3.2M625.4 575.9v3.2M616.7 584.5h3.2M618.3 582.9v3.2M603.0 596.8h3.2M604.6 595.2v3.2M624.2 577.7h3.2M625.8 576.1v3.2M628.5 570.9h3.2M630.1 569.3v3.2M589.3 610.1h3.2M590.9 608.5v3.2M623.0 576.3h3.2M624.6 574.7v3.2M600.9 599.9h3.2M602.5 598.3v3.2M625.9 575.7h3.2M627.5 574.1v3.2M625.3 576.5h3.2M626.9 574.9v3.2M586.8 612.6h3.2M588.4 611.0v3.2M630.1 570.1h3.2M631.7 568.5v3.2M613.0 589.9h3.2M614.6 588.3v3.2M609.7 591.8h3.2M611.3 590.2v3.2M626.8 573.8h3.2M628.4 572.2v3.2M611.1 591.4h3.2M612.7 589.8v3.2M613.3 585.0h3.2M614.9 583.4v3.2M641.1 560.9h3.2M642.7 559.3v3.2M614.3 586.1h3.2M615.9 584.5v3.2M586.9 614.1h3.2M588.5 612.5v3.2M616.6 583.0h3.2M618.2 581.4v3.2M598.4 600.5h3.2M600.0 598.9v3.2M600.8 600.8h3.2M602.4 599.2v3.2M592.8 606.4h3.2M594.4 604.8v3.2M587.1 611.2h3.2M588.7 609.6v3.2M640.1 561.1h3.2M641.7 559.5v3.2M600.1 601.0h3.2M601.7 599.4v3.2M602.8 594.1h3.2M604.4 592.5v3.2M589.4 611.1h3.2M591.0 609.5v3.2M616.2 583.3h3.2M617.8 581.7v3.2M603.5 595.9h3.2M605.1 594.3v3.2M610.2 592.2h3.2M611.8 590.6v3.2M610.3 588.2h3.2M611.9 586.6v3.2M586.5 611.9h3.2M588.1 610.3v3.2M609.7 593.0h3.2M611.3 591.4v3.2M605.9 594.1h3.2M607.5 592.5v3.2M620.7 579.3h3.2M622.3 577.7v3.2M623.7 577.9h3.2M625.3 576.3v3.2M633.5 568.0h3.2M635.1 566.4v3.2M597.9 601.0h3.2M599.5 599.4v3.2M615.2 584.8h3.2M616.8 583.2v3.2M605.0 593.3h3.2M606.6 591.7v3.2M625.0 578.4h3.2M626.6 576.8v3.2M640.7 558.7h3.2M642.3 557.1v3.2M605.4 596.5h3.2M607.0 594.9v3.2M632.7 566.0h3.2M634.3 564.4v3.2M594.6 607.6h3.2M596.2 606.0v3.2M614.6 585.3h3.2M616.2 583.7v3.2M606.4 597.5h3.2M608.0 595.9v3.2M637.8 561.2h3.2M639.4 559.6v3.2M615.0 584.7h3.2M616.6 583.1v3.2M636.7 562.6h3.2M638.3 561.0v3.2M614.8 582.7h3.2M616.4 581.1v3.2M620.2 582.1h3.2M621.8 580.5v3.2M621.6 581.1h3.2M623.2 579.5v3.2M620.5 579.0h3.2M622.1 577.4v3.2M615.2 587.7h3.2M616.8 586.1v3.2M603.4 599.8h3.2M605.0 598.2v3.2M622.6 577.6h3.2M624.2 576.0v3.2M631.7 568.1h3.2M633.3 566.5v3.2M637.9 561.0h3.2M639.5 559.4v3.2M635.4 564.2h3.2M637.0 562.6v3.2M611.6 587.2h3.2M613.2 585.6v3.2M587.3 615.4h3.2M588.9 613.8v3.2M616.8 581.5h3.2M618.4 579.9v3.2M610.4 590.0h3.2M612.0 588.4v3.2M606.4 593.6h3.2M608.0 592.0v3.2M597.3 601.8h3.2M598.9 600.2v3.2M618.0 581.3h3.2M619.6 579.7v3.2M635.0 564.7h3.2M636.6 563.1v3.2M584.4 616.3h3.2M586.0 614.7v3.2M630.9 567.8h3.2M632.5 566.2v3.2M585.4 615.3h3.2M587.0 613.7v3.2M591.1 612.6h3.2M592.7 611.0v3.2M586.2 614.1h3.2M587.8 612.5v3.2M601.0 597.2h3.2M602.6 595.6v3.2M596.5 604.2h3.2M598.1 602.6v3.2M619.3 578.1h3.2M620.9 576.5v3.2M587.1 609.6h3.2M588.7 608.0v3.2M601.1 600.3h3.2M602.7 598.7v3.2M596.2 604.9h3.2M597.8 603.3v3.2M585.4 615.3h3.2M587.0 613.7v3.2M625.9 573.3h3.2M627.5 571.7v3.2M630.5 569.9h3.2M632.1 568.3v3.2M617.2 582.8h3.2M618.8 581.2v3.2M631.9 567.0h3.2M633.5 565.4v3.2M607.2 591.5h3.2M608.8 589.9v3.2M630.2 568.6h3.2M631.8 567.0v3.2M611.9 588.1h3.2M613.5 586.5v3.2M611.2 590.1h3.2M612.8 588.5v3.2M632.8 569.8h3.2M634.4 568.2v3.2M622.0 579.9h3.2M623.6 578.3v3.2M627.8 572.7h3.2M629.4 571.1v3.2M589.8 608.1h3.2M591.4 606.5v3.2M614.3 586.0h3.2M615.9 584.4v3.2M603.8 599.0h3.2M605.4 597.4v3.2M593.2 607.4h3.2M594.8 605.8v3.2M616.9 580.9h3.2M618.5 579.3v3.2M589.7 610.2h3.2M591.3 608.6v3.2M639.7 560.6h3.2M641.3 559.0v3.2M592.5 604.5h3.2M594.1 602.9v3.2M624.2 574.4h3.2M625.8 572.8v3.2M624.7 577.4h3.2M626.3 575.8v3.2M607.9 594.1h3.2M609.5 592.5v3.2M610.1 589.6h3.2M611.7 588.0v3.2M625.8 576.6h3.2M627.4 575.0v3.2M604.1 599.1h3.2M605.7 597.5v3.2M635.0 565.9h3.2M636.6 564.3v3.2M617.9 583.1h3.2M619.5 581.5v3.2M596.8 602.5h3.2M598.4 600.9v3.2M625.5 575.3h3.2M627.1 573.7v3.2M625.9 574.1h3.2M627.5 572.5v3.2M585.8 613.7h3.2M587.4 612.1v3.2M618.3 584.3h3.2M619.9 582.7v3.2M615.7 585.9h3.2M617.3 584.3v3.2M637.8 563.5h3.2M639.4 561.9v3.2M630.2 568.0h3.2M631.8 566.4v3.2M612.7 587.5h3.2M614.3 585.9v3.2M624.4 576.5h3.2M626.0 574.9v3.2M621.3 577.8h3.2M622.9 576.2v3.2M609.0 589.9h3.2M610.6 588.3v3.2M636.2 563.5h3.2M637.8 561.9v3.2M638.7 562.3h3.2M640.3 560.7v3.2M629.3 574.8h3.2M630.9 573.2v3.2M607.2 590.2h3.2M608.8 588.6v3.2M591.5 606.9h3.2M593.1 605.3v3.2M605.9 594.5h3.2M607.5 592.9v3.2M628.9 571.5h3.2M630.5 569.9v3.2M597.9 606.8h3.2M599.5 605.2v3.2M600.1 600.8h3.2M601.7 599.2v3.2M624.8 574.5h3.2M626.4 572.9v3.2M598.5 600.3h3.2M600.1 598.7v3.2M598.2 603.1h3.2M599.8 601.5v3.2M632.7 571.1h3.2M634.3 569.5v3.2M592.0 607.0h3.2M593.6 605.4v3.2M583.7 614.1h3.2M585.3 612.5v3.2M615.6 585.8h3.2M617.2 584.2v3.2M640.2 562.6h3.2M641.8 561.0v3.2M598.4 601.7h3.2M600.0 600.1v3.2M607.4 594.4h3.2M609.0 592.8v3.2M627.2 573.8h3.2M628.8 572.2v3.2M602.1 599.0h3.2M603.7 597.4v3.2M636.2 566.1h3.2M637.8 564.5v3.2M621.4 580.2h3.2M623.0 578.6v3.2M597.2 604.2h3.2M598.8 602.6v3.2M629.6 569.2h3.2M631.2 567.6v3.2M634.6 566.6h3.2M636.2 565.0v3.2M598.4 597.6h3.2M600.0 596.0v3.2M601.9 599.9h3.2M603.5 598.3v3.2M614.2 585.3h3.2M615.8 583.7v3.2M619.2 580.0h3.2M620.8 578.4v3.2M608.3 593.0h3.2M609.9 591.4v3.2M624.5 574.0h3.2M626.1 572.4v3.2M616.3 583.5h3.2M617.9 581.9v3.2M591.2 607.6h3.2M592.8 606.0v3.2M604.4 595.8h3.2M606.0 594.2v3.2M628.0 572.6h3.2M629.6 571.0v3.2M612.5 585.3h3.2M614.1 583.7v3.2M587.4 613.2h3.2M589.0 611.6v3.2M590.7 609.6h3.2M592.3 608.0v3.2M633.4 566.5h3.2M635.0 564.9v3.2M614.4 589.1h3.2M616.0 587.5v3.2M606.7 593.0h3.2M608.3 591.4v3.2M602.0 595.7h3.2M603.6 594.1v3.2M610.7 590.8h3.2M612.3 589.2v3.2M626.4 576.6h3.2M628.0 575.0v3.2M613.0 587.1h3.2M614.6 585.5v3.2M625.3 572.9h3.2M626.9 571.3v3.2M607.8 592.6h3.2M609.4 591.0v3.2M638.5 563.9h3.2M640.1 562.3v3.2M615.6 584.5h3.2M617.2 582.9v3.2M587.7 609.2h3.2M589.3 607.6v3.2M596.7 602.1h3.2M598.3 600.5v3.2M628.2 572.1h3.2M629.8 570.5v3.2M601.0 601.9h3.2M602.6 600.3v3.2M617.9 582.5h3.2M619.5 580.9v3.2M631.8 568.2h3.2M633.4 566.6v3.2M613.7 586.7h3.2M615.3 585.1v3.2M616.2 585.5h3.2M617.8 583.9v3.2M626.4 574.2h3.2M628.0 572.6v3.2M597.1 603.8h3.2M598.7 602.2v3.2M619.0 579.1h3.2M620.6 577.5v3.2M626.3 575.7h3.2M627.9 574.1v3.2M604.3 595.2h3.2M605.9 593.6v3.2M618.4 581.4h3.2M620.0 579.8v3.2M621.0 579.6h3.2M622.6 578.0v3.2M592.7 610.0h3.2M594.3 608.4v3.2M637.8 559.0h3.2M639.4 557.4v3.2M621.5 577.7h3.2M623.1 576.1v3.2M595.7 604.3h3.2M597.3 602.7v3.2M604.2 593.9h3.2M605.8 592.3v3.2M623.6 576.9h3.2M625.2 575.3v3.2M594.8 603.0h3.2M596.4 601.4v3.2M640.0 561.9h3.2M641.6 560.3v3.2M636.5 562.9h3.2M638.1 561.3v3.2M640.6 559.2h3.2M642.2 557.6v3.2M598.0 603.2h3.2M599.6 601.6v3.2M612.1 589.0h3.2M613.7 587.4v3.2M626.2 575.1h3.2M627.8 573.5v3.2M583.9 615.1h3.2M585.5 613.5v3.2M623.9 575.3h3.2M625.5 573.7v3.2M597.8 601.4h3.2M599.4 599.8v3.2M584.4 616.0h3.2M586.0 614.4v3.2M632.9 566.5h3.2M634.5 564.9v3.2M638.0 563.4h3.2M639.6 561.8v3.2M604.4 595.1h3.2M606.0 593.5v3.2M607.1 593.0h3.2M608.7 591.4v3.2M634.7 567.0h3.2M636.3 565.4v3.2M635.0 562.7h3.2M636.6 561.1v3.2M597.2 603.9h3.2M598.8 602.3v3.2M621.2 579.4h3.2M622.8 577.8v3.2M614.1 584.5h3.2M615.7 582.9v3.2M597.1 605.1h3.2M598.7 603.5v3.2M618.2 581.4h3.2M619.8 579.8v3.2M628.5 572.3h3.2M630.1 570.7v3.2M594.5 606.6h3.2M596.1 605.0v3.2M607.4 590.3h3.2M609.0 588.7v3.2M609.8 590.8h3.2M611.4 589.2v3.2M624.1 577.1h3.2M625.7 575.5v3.2M604.2 594.7h3.2M605.8 593.1v3.2M598.5 601.2h3.2M600.1 599.6v3.2M592.9 607.5h3.2M594.5 605.9v3.2M591.4 607.2h3.2M593.0 605.6v3.2M634.2 566.8h3.2M635.8 565.2v3.2M593.0 608.3h3.2M594.6 606.7v3.2M615.8 584.6h3.2M617.4 583.0v3.2M636.7 563.3h3.2M638.3 561.7v3.2M624.5 576.7h3.2M626.1 575.1v3.2M607.9 590.9h3.2M609.5 589.3v3.2M588.7 611.3h3.2M590.3 609.7v3.2M601.6 602.0h3.2M603.2 600.4v3.2M636.4 565.8h3.2M638.0 564.2v3.2M590.0 607.2h3.2M591.6 605.6v3.2M608.2 592.8h3.2M609.8 591.2v3.2M597.0 602.1h3.2M598.6 600.5v3.2M583.6 614.7h3.2M585.2 613.1v3.2M595.5 604.4h3.2M597.1 602.8v3.2M598.1 601.6h3.2M599.7 600.0v3.2M628.5 571.1h3.2M630.1 569.5v3.2M633.5 566.1h3.2M635.1 564.5v3.2M616.6 584.1h3.2M618.2 582.5v3.2M601.5 600.8h3.2M603.1 599.2v3.2M616.5 585.4h3.2M618.1 583.8v3.2M599.2 601.2h3.2M600.8 599.6v3.2M637.7 565.2h3.2M639.3 563.6v3.2M603.3 596.1h3.2M604.9 594.5v3.2M610.0 589.7h3.2M611.6 588.1v3.2M616.6 583.0h3.2M618.2 581.4v3.2M615.8 586.6h3.2M617.4 585.0v3.2M586.6 615.0h3.2M588.2 613.4v3.2M592.6 608.9h3.2M594.2 607.3v3.2M614.1 584.4h3.2M615.7 582.8v3.2M634.0 565.1h3.2M635.6 563.5v3.2M618.6 581.8h3.2M620.2 580.2v3.2M633.5 566.1h3.2M635.1 564.5v3.2M635.9 561.9h3.2M637.5 560.3v3.2M614.4 584.3h3.2M616.0 582.7v3.2M609.1 592.3h3.2M610.7 590.7v3.2M625.5 576.5h3.2M627.1 574.9v3.2M630.1 571.8h3.2M631.7 570.2v3.2M637.4 561.7h3.2M639.0 560.1v3.2M605.8 596.2h3.2M607.4 594.6v3.2M614.8 585.7h3.2M616.4 584.1v3.2M628.1 572.3h3.2M629.7 570.7v3.2M625.4 575.3h3.2M627.0 573.7v3.2M595.1 606.4h3.2M596.7 604.8v3.2M590.5 608.2h3.2M592.1 606.6v3.2M613.6 586.9h3.2M615.2 585.3v3.2M638.1 561.1h3.2M639.7 559.5v3.2M587.4 614.2h3.2M589.0 612.6v3.2M623.4 578.7h3.2M625.0 577.1v3.2M618.7 582.6h3.2M620.3 581.0v3.2M585.9 613.9h3.2M587.5 612.3v3.2M614.0 585.4h3.2M615.6 583.8v3.2M607.0 594.7h3.2M608.6 593.1v3.2M634.2 565.7h3.2M635.8 564.1v3.2M617.5 585.3h3.2M619.1 583.7v3.2M600.4 601.0h3.2M602.0 599.4v3.2M600.5 599.2h3.2M602.1 597.6v3.2M594.2 605.4h3.2M595.8 603.8v3.2M603.4 594.6h3.2M605.0 593.0v3.2M589.6 609.5h3.2M591.2 607.9v3.2M614.8 584.7h3.2M616.4 583.1v3.2M621.6 579.3h3.2M623.2 577.7v3.2M630.8 569.6h3.2M632.4 568.0v3.2M634.1 567.3h3.2M635.7 565.7v3.2M608.4 592.5h3.2M610.0 590.9v3.2M630.8 568.0h3.2M632.4 566.4v3.2M590.6 613.5h3.2M592.2 611.9v3.2M636.8 565.6h3.2M638.4 564.0v3.2M640.0 561.2h3.2M641.6 559.6v3.2M625.8 575.8h3.2M627.4 574.2v3.2M638.2 561.3h3.2M639.8 559.7v3.2M635.4 564.5h3.2M637.0 562.9v3.2M637.9 565.3h3.2M639.5 563.7v3.2M594.7 603.4h3.2M596.3 601.8v3.2M617.5 584.6h3.2M619.1 583.0v3.2M635.7 563.1h3.2M637.3 561.5v3.2M593.5 607.5h3.2M595.1 605.9v3.2M599.8 601.5h3.2M601.4 599.9v3.2M634.8 564.7h3.2M636.4 563.1v3.2M629.2 569.9h3.2M630.8 568.3v3.2M583.2 616.5h3.2M584.8 614.9v3.2M591.2 611.0h3.2M592.8 609.4v3.2M637.2 559.5h3.2M638.8 557.9v3.2M600.4 601.5h3.2M602.0 599.9v3.2M604.4 595.3h3.2M606.0 593.7v3.2M636.5 564.9h3.2M638.1 563.3v3.2M598.9 599.2h3.2M600.5 597.6v3.2M589.9 610.9h3.2M591.5 609.3v3.2M595.1 606.4h3.2M596.7 604.8v3.2M616.2 583.7h3.2M617.8 582.1v3.2M634.6 566.8h3.2M636.2 565.2v3.2M604.9 595.7h3.2M606.5 594.1v3.2M615.3 585.0h3.2M616.9 583.4v3.2M585.0 615.0h3.2M586.6 613.4v3.2M610.5 589.7h3.2M612.1 588.1v3.2M618.7 580.6h3.2M620.3 579.0v3.2M631.8 568.3h3.2M633.4 566.7v3.2M640.4 561.5h3.2M642.0 559.9v3.2M637.9 559.0h3.2M639.5 557.4v3.2M603.9 594.8h3.2M605.5 593.2v3.2M628.7 571.2h3.2M630.3 569.6v3.2M593.3 607.3h3.2M594.9 605.7v3.2M615.8 586.3h3.2M617.4 584.7v3.2M640.7 559.6h3.2M642.3 558.0v3.2M605.9 594.5h3.2M607.5 592.9v3.2M634.9 567.1h3.2M636.5 565.5v3.2M618.7 582.8h3.2M620.3 581.2v3.2M631.4 567.9h3.2M633.0 566.3v3.2M639.5 562.9h3.2M641.1 561.3v3.2M639.0 560.1h3.2M640.6 558.5v3.2M620.7 579.0h3.2M622.3 577.4v3.2M625.1 574.2h3.2M626.7 572.6v3.2M604.6 593.5h3.2M606.2 591.9v3.2M624.5 575.2h3.2M626.1 573.6v3.2M589.7 611.6h3.2M591.3 610.0v3.2M615.7 585.2h3.2M617.3 583.6v3.2M601.2 600.3h3.2M602.8 598.7v3.2M603.0 593.5h3.2M604.6 591.9v3.2M615.0 587.6h3.2M616.6 586.0v3.2M614.3 584.3h3.2M615.9 582.7v3.2M631.1 570.5h3.2M632.7 568.9v3.2M612.9 585.9h3.2M614.5 584.3v3.2M594.1 606.1h3.2M595.7 604.5v3.2M596.3 605.1h3.2M597.9 603.5v3.2M586.1 614.9h3.2M587.7 613.3v3.2M607.1 592.5h3.2M608.7 590.9v3.2M626.9 573.1h3.2M628.5 571.5v3.2M608.9 590.2h3.2M610.5 588.6v3.2M628.7 570.4h3.2M630.3 568.8v3.2M623.5 578.4h3.2M625.1 576.8v3.2M599.5 602.3h3.2M601.1 600.7v3.2M626.2 573.4h3.2M627.8 571.8v3.2M585.8 615.3h3.2M587.4 613.7v3.2M640.9 560.4h3.2M642.5 558.8v3.2M637.7 563.5h3.2M639.3 561.9v3.2M585.7 613.2h3.2M587.3 611.6v3.2M623.2 578.0h3.2M624.8 576.4v3.2M629.4 572.4h3.2M631.0 570.8v3.2M588.2 611.9h3.2M589.8 610.3v3.2M596.5 605.1h3.2M598.1 603.5v3.2M619.3 581.1h3.2M620.9 579.5v3.2M635.6 565.8h3.2M637.2 564.2v3.2M635.2 565.9h3.2M636.8 564.3v3.2M617.1 582.7h3.2M618.7 581.1v3.2M586.9 613.8h3.2M588.5 612.2v3.2M595.8 604.1h3.2M597.4 602.5v3.2M612.3 587.6h3.2M613.9 586.0v3.2M631.4 570.3h3.2M633.0 568.7v3.2M607.3 593.0h3.2M608.9 591.4v3.2M618.6 581.5h3.2M620.2 579.9v3.2M607.3 590.6h3.2M608.9 589.0v3.2M602.3 596.7h3.2M603.9 595.1v3.2M636.5 562.6h3.2M638.1 561.0v3.2M613.0 585.3h3.2M614.6 583.7v3.2M610.7 588.4h3.2M612.3 586.8v3.2M611.3 587.9h3.2M612.9 586.3v3.2M640.2 558.3h3.2M641.8 556.7v3.2M598.9 597.0h3.2M600.5 595.4v3.2M630.6 569.9h3.2M632.2 568.3v3.2M615.3 584.7h3.2M616.9 583.1v3.2M608.0 593.3h3.2M609.6 591.7v3.2M607.5 591.7h3.2M609.1 590.1v3.2M611.5 589.4h3.2M613.1 587.8v3.2M617.6 584.7h3.2M619.2 583.1v3.2M625.2 576.6h3.2M626.8 575.0v3.2M594.7 605.6h3.2M596.3 604.0v3.2M610.9 589.9h3.2M612.5 588.3v3.2M621.5 577.0h3.2M623.1 575.4v3.2M619.0 582.5h3.2M620.6 580.9v3.2M586.9 615.2h3.2M588.5 613.6v3.2M637.2 563.8h3.2M638.8 562.2v3.2M623.7 575.5h3.2M625.3 573.9v3.2M591.3 609.4h3.2M592.9 607.8v3.2M620.9 579.6h3.2M622.5 578.0v3.2M587.6 611.1h3.2M589.2 609.5v3.2M599.1 600.5h3.2M600.7 598.9v3.2M605.2 592.4h3.2M606.8 590.8v3.2M634.6 565.5h3.2M636.2 563.9v3.2M595.4 605.2h3.2M597.0 603.6v3.2M634.8 565.4h3.2M636.4 563.8v3.2M599.7 600.0h3.2M601.3 598.4v3.2M606.1 593.9h3.2M607.7 592.3v3.2M636.7 563.7h3.2M638.3 562.1v3.2M614.1 586.2h3.2M615.7 584.6v3.2M616.7 584.1h3.2M618.3 582.5v3.2M637.0 562.7h3.2M638.6 561.1v3.2M632.3 564.9h3.2M633.9 563.3v3.2M622.5 579.1h3.2M624.1 577.5v3.2M617.3 583.5h3.2M618.9 581.9v3.2M607.6 592.9h3.2M609.2 591.3v3.2M633.8 567.2h3.2M635.4 565.6v3.2M621.7 578.1h3.2M623.3 576.5v3.2M634.7 567.4h3.2M636.3 565.8v3.2M591.4 608.1h3.2M593.0 606.5v3.2M635.3 564.2h3.2M636.9 562.6v3.2M630.5 571.4h3.2M632.1 569.8v3.2M612.5 587.3h3.2M614.1 585.7v3.2M600.8 597.1h3.2M602.4 595.5v3.2M641.1 562.5h3.2M642.7 560.9v3.2M641.7 560.3h3.2M643.3 558.7v3.2M621.1 578.2h3.2M622.7 576.6v3.2M634.3 562.8h3.2M635.9 561.2v3.2M630.3 571.6h3.2M631.9 570.0v3.2M599.1 599.7h3.2M600.7 598.1v3.2M593.9 608.3h3.2M595.5 606.7v3.2M598.4 602.2h3.2M600.0 600.6v3.2M636.3 564.8h3.2M637.9 563.2v3.2M641.5 559.7h3.2M643.1 558.1v3.2M625.7 572.9h3.2M627.3 571.3v3.2M622.2 576.3h3.2M623.8 574.7v3.2M591.2 609.8h3.2M592.8 608.2v3.2M597.0 602.5h3.2M598.6 600.9v3.2M622.2 579.4h3.2M623.8 577.8v3.2M597.5 603.0h3.2M599.1 601.4v3.2M630.3 573.4h3.2M631.9 571.8v3.2M637.4 563.1h3.2M639.0 561.5v3.2M611.1 588.2h3.2M612.7 586.6v3.2M631.8 568.9h3.2M633.4 567.3v3.2M610.8 588.5h3.2M612.4 586.9v3.2M618.1 583.5h3.2M619.7 581.9v3.2M626.3 574.1h3.2M627.9 572.5v3.2M621.0 577.4h3.2M622.6 575.8v3.2M614.3 586.7h3.2M615.9 585.1v3.2M604.6 598.0h3.2M606.2 596.4v3.2M628.8 572.9h3.2M630.4 571.3v3.2M608.8 591.9h3.2M610.4 590.3v3.2M621.9 575.4h3.2M623.5 573.8v3.2M630.4 570.4h3.2M632.0 568.8v3.2M637.8 562.4h3.2M639.4 560.8v3.2M609.8 591.0h3.2M611.4 589.4v3.2M587.8 609.9h3.2M589.4 608.3v3.2M618.5 584.1h3.2M620.1 582.5v3.2M603.7 598.0h3.2M605.3 596.4v3.2M605.0 594.9h3.2M606.6 593.3v3.2M621.9 581.3h3.2M623.5 579.7v3.2M600.7 599.6h3.2M602.3 598.0v3.2M629.3 570.0h3.2M630.9 568.4v3.2M618.5 582.1h3.2M620.1 580.5v3.2M639.3 558.8h3.2M640.9 557.2v3.2M622.6 575.7h3.2M624.2 574.1v3.2M616.4 584.4h3.2M618.0 582.8v3.2M599.4 599.9h3.2M601.0 598.3v3.2M632.1 571.0h3.2M633.7 569.4v3.2M638.8 560.8h3.2M640.4 559.2v3.2M605.4 593.2h3.2M607.0 591.6v3.2M623.0 575.0h3.2M624.6 573.4v3.2M625.1 572.1h3.2M626.7 570.5v3.2M605.6 594.7h3.2M607.2 593.1v3.2M628.8 572.1h3.2M630.4 570.5v3.2M608.0 591.9h3.2M609.6 590.3v3.2M612.2 588.4h3.2M613.8 586.8v3.2M635.1 564.8h3.2M636.7 563.2v3.2M628.6 574.4h3.2M630.2 572.8v3.2M621.1 578.2h3.2M622.7 576.6v3.2M622.1 577.6h3.2M623.7 576.0v3.2M618.2 584.1h3.2M619.8 582.5v3.2M603.7 596.2h3.2M605.3 594.6v3.2M635.3 564.0h3.2M636.9 562.4v3.2M620.5 578.8h3.2M622.1 577.2v3.2M592.9 608.7h3.2M594.5 607.1v3.2M611.8 591.7h3.2M613.4 590.1v3.2M630.0 570.8h3.2M631.6 569.2v3.2M598.0 604.1h3.2M599.6 602.5v3.2M618.5 580.0h3.2M620.1 578.4v3.2M569.0 629.9h3.2M570.6 628.3v3.2M549.5 651.6h3.2M551.1 650.0v3.2M562.8 640.9h3.2M564.4 639.3v3.2M535.4 663.0h3.2M537.0 661.4v3.2M642.4 559.6h3.2M644.0 558.0v3.2M567.3 628.0h3.2M568.9 626.4v3.2M611.5 592.3h3.2M613.1 590.7v3.2M577.9 621.1h3.2M579.5 619.5v3.2M542.5 658.7h3.2M544.1 657.1v3.2M579.8 619.8h3.2M581.4 618.2v3.2M580.2 619.2h3.2M581.8 617.6v3.2M543.7 654.9h3.2M545.3 653.3v3.2M602.6 596.5h3.2M604.2 594.9v3.2M616.2 582.3h3.2M617.8 580.7v3.2M533.9 667.6h3.2M535.5 666.0v3.2M547.6 649.7h3.2M549.2 648.1v3.2M539.0 658.4h3.2M540.6 656.8v3.2M641.1 561.1h3.2M642.7 559.5v3.2M587.6 611.6h3.2M589.2 610.0v3.2M603.5 595.8h3.2M605.1 594.2v3.2M610.8 591.4h3.2M612.4 589.8v3.2M580.3 617.3h3.2M581.9 615.7v3.2M538.3 663.1h3.2M539.9 661.5v3.2M579.8 620.2h3.2M581.4 618.6v3.2M587.0 614.6h3.2M588.6 613.0v3.2M606.2 591.5h3.2M607.8 589.9v3.2M603.5 596.4h3.2M605.1 594.8v3.2M574.9 627.0h3.2M576.5 625.4v3.2M524.8 675.3h3.2M526.4 673.7v3.2M591.2 608.3h3.2M592.8 606.7v3.2M570.4 627.8h3.2M572.0 626.2v3.2M564.8 635.6h3.2M566.4 634.0v3.2M628.7 575.6h3.2M630.3 574.0v3.2M556.0 642.0h3.2M557.6 640.4v3.2M539.1 660.2h3.2M540.7 658.6v3.2M607.9 585.7h3.2M609.5 584.1v3.2M631.6 567.4h3.2M633.2 565.8v3.2M631.5 568.8h3.2M633.1 567.2v3.2M620.9 580.5h3.2M622.5 578.9v3.2M536.5 663.2h3.2M538.1 661.6v3.2M607.2 591.8h3.2M608.8 590.2v3.2M532.2 671.9h3.2M533.8 670.3v3.2M586.5 616.2h3.2M588.1 614.6v3.2M579.5 624.7h3.2M581.1 623.1v3.2M550.4 649.1h3.2M552.0 647.5v3.2M607.0 591.4h3.2M608.6 589.8v3.2M562.0 639.9h3.2M563.6 638.3v3.2M550.6 649.0h3.2M552.2 647.4v3.2M547.2 654.7h3.2M548.8 653.1v3.2M626.9 571.3h3.2M628.5 569.7v3.2M621.5 580.8h3.2M623.1 579.2v3.2M606.2 597.2h3.2M607.8 595.6v3.2M637.2 567.8h3.2M638.8 566.2v3.2M622.9 575.5h3.2M624.5 573.9v3.2M602.2 601.8h3.2M603.8 600.2v3.2M526.3 671.4h3.2M527.9 669.8v3.2M589.9 612.8h3.2M591.5 611.2v3.2M637.3 564.1h3.2M638.9 562.5v3.2M638.6 557.6h3.2M640.2 556.0v3.2M564.8 635.6h3.2M566.4 634.0v3.2M619.0 581.3h3.2M620.6 579.7v3.2M533.1 664.7h3.2M534.7 663.1v3.2M532.4 667.8h3.2M534.0 666.2v3.2M599.9 600.8h3.2M601.5 599.2v3.2M552.3 646.4h3.2M553.9 644.8v3.2M615.5 584.4h3.2M617.1 582.8v3.2M560.4 639.8h3.2M562.0 638.2v3.2M636.2 563.9h3.2M637.8 562.3v3.2M578.5 623.6h3.2M580.1 622.0v3.2M629.9 571.3h3.2M631.5 569.7v3.2M602.2 596.0h3.2M603.8 594.4v3.2M528.2 674.1h3.2M529.8 672.5v3.2M599.9 601.3h3.2M601.5 599.7v3.2M542.8 661.8h3.2M544.4 660.2v3.2M546.6 654.8h3.2M548.2 653.2v3.2M530.8 670.2h3.2M532.4 668.6v3.2M558.2 642.6h3.2M559.8 641.0v3.2M592.3 607.0h3.2M593.9 605.4v3.2M584.5 614.3h3.2M586.1 612.7v3.2M647.7 552.0h3.2M649.3 550.4v3.2M648.9 551.0h3.2M650.5 549.4v3.2M646.9 553.0h3.2M648.5 551.4v3.2" stroke="#0c2cff" stroke-width="1.3" fill="none"/>
<line x1="45.10" y1="452.30" x2="221.80" y2="276.20" stroke="#151515" stroke-width="1.1"/>
<line x1="267.70" y1="452.30" x2="446.40" y2="274.30" stroke="#151515" stroke-width="1.1"/>
<line x1="500.10" y1="449.30" x2="675.10" y2="274.30" stroke="#151515" stroke-width="1.1"/>
<line x1="46.70" y1="702.30" x2="221.70" y2="527.60" stroke="#151515" stroke-width="1.1"/>
<line x1="264.60" y1="702.30" x2="440.60" y2="526.50" stroke="#151515" stroke-width="1.1"/>
<line x1="495.70" y1="706.10" x2="674.40" y2="527.60" stroke="#151515" stroke-width="1.1"/>
<text id="b1_x0" x="46.45" y="466.85" font-family='"Liberation Serif", serif' font-size="10.00" text-anchor="middle">3.2</text>
<text id="b1_x1" x="66.08" y="466.85" font-family='"Liberation Serif", serif' font-size="10.00" text-anchor="middle">3.4</text>
<text id="b1_x2" x="85.72" y="466.85" font-family='"Liberation Serif", serif' font-size="10.00" text-anchor="middle">3.6</text>
<text id="b1_x3" x="105.35" y="466.85" font-family='"Liberation Serif", serif' font-size="10.00" text-anchor="middle">3.8</text>
<text id="b1_x4" x="124.98" y="466.85" font-family='"Liberation Serif", serif' font-size="10.00" text-anchor="middle">4</text>
<text id="b1_x5" x="144.62" y="466.85" font-family='"Liberation Serif", serif' font-size="10.00" text-anchor="middle">4.2</text>
<text id="b1_x6" x="164.25" y="466.85" font-family='"Liberation Serif", serif' font-size="10.00" text-anchor="middle">4.4</text>
<text id="b1_x7" x="183.88" y="466.85" font-family='"Liberation Serif", serif' font-size="10.00" text-anchor="middle">4.6</text>
<text id="b1_x8" x="203.52" y="466.85" font-family='"Liberation Serif", serif' font-size="10.00" text-anchor="middle">4.8</text>
<text id="b1_x9" x="223.15" y="466.85" font-family='"Liberation Serif", serif' font-size="10.00" text-anchor="middle">5</text>
<text id="b1_y0" x="37.85" y="456.30" font-family='"Liberation Serif", serif' font-size="10.00" text-anchor="end">3.2</text>
<text id="b1_y1" x="37.85" y="436.73" font-family='"Liberation Serif", serif' font-size="10.00" text-anchor="end">3.4</text>
<text id="b1_y2" x="37.85" y="417.17" font-family='"Liberation Serif", serif' font-size="10.00" text-anchor="end">3.6</text>
<text id="b1_y3" x="37.85" y="397.60" font-family='"Liberation Serif", serif' font-size="10.00" text-anchor="end">3.8</text>
<text id="b1_y4" x="37.85" y="378.03" font-family='"Liberation Serif", serif' font-size="10.00" text-anchor="end">4</text>
<text id="b1_y5" x="37.85" y="358.47" font-family='"Liberation Serif", serif' font-size="10.00" text-anchor="end">4.2</text>
<text id="b1_y6" x="37.85" y="338.90" font-family='"Liberation Serif", serif' font-size="10.00" text-anchor="end">4.4</text>
<text id="b1_y7" x="37.85" y="319.33" font-family='"Liberation Serif", serif' font-size="10.00" text-anchor="end">4.6</text>
<text id="b1_y8" x="37.85" y="299.77" font-family='"Liberation Serif", serif' font-size="10.00" text-anchor="end">4.8</text>
<text id="b1_y9" x="37.85" y="280.20" font-family='"Liberation Serif", serif' font-size="10.00" text-anchor="end">5</text>
<text id="b2_x0" x="269.20" y="466.85" font-family='"Liberation Serif", serif' font-size="11.00" text-anchor="middle">-20</text>
<text id="b2_x1" x="291.54" y="466.85" font-family='"Liberation Serif", serif' font-size="11.00" text-anchor="middle">-15</text>
<text id="b2_x2" x="313.88" y="466.85" font-family='"Liberation Serif", serif' font-size="11.00" text-anchor="middle">-10</text>
<text id="b2_x3" x="336.21" y="466.85" font-family='"Liberation Serif", serif' font-size="11.00" text-anchor="middle">-5</text>
<text id="b2_x4" x="358.55" y="466.85" font-family='"Liberation Serif", serif' font-size="11.00" text-anchor="middle">0</text>
<text id="b2_x5" x="380.89" y="466.85" font-family='"Liberation Serif", serif' font-size="11.00" text-anchor="middle">5</text>
<text id="b2_x6" x="403.22" y="466.85" font-family='"Liberation Serif", serif' font-size="11.00" text-anchor="middle">10</text>
<text id="b2_x7" x="425.56" y="466.85" font-family='"Liberation Serif", serif' font-size="11.00" text-anchor="middle">15</text>
<text id="b2_x8" x="447.90" y="466.85" font-family='"Liberation Serif", serif' font-size="11.00" text-anchor="middle">20</text>
<text id="b2_y0" x="261.50" y="455.95" font-family='"Liberation Serif", serif' font-size="11.00" text-anchor="end">-20</text>
<text id="b2_y1" x="261.50" y="433.70" font-family='"Liberation Serif", serif' font-size="11.00" text-anchor="end">-15</text>
<text id="b2_y2" x="261.50" y="411.45" font-family='"Liberation Serif", serif' font-size="11.00" text-anchor="end">-10</text>
<text id="b2_y3" x="261.50" y="389.20" font-family='"Liberation Serif", serif' font-size="11.00" text-anchor="end">-5</text>
<text id="b2_y4" x="261.50" y="366.95" font-family='"Liberation Serif", serif' font-size="11.00" text-anchor="end">0</text>
<text id="b2_y5" x="261.50" y="344.70" font-family='"Liberation Serif", serif' font-size="11.00" text-anchor="end">5</text>
<text id="b2_y6" x="261.50" y="322.45" font-family='"Liberation Serif", serif' font-size="11.00" text-anchor="end">10</text>
<text id="b2_y7" x="261.50" y="300.20" font-family='"Liberation Serif", serif' font-size="11.00" text-anchor="end">15</text>
<text id="b2_y8" x="261.50" y="277.95" font-family='"Liberation Serif", serif' font-size="11.00" text-anchor="end">20</text>
<text id="b3_x0" x="501.05" y="464.55" font-family='"Liberation Serif", serif' font-size="10.90" text-anchor="middle">-140</text>
<text id="b3_x1" x="522.93" y="464.55" font-family='"Liberation Serif", serif' font-size="10.90" text-anchor="middle">-120</text>
<text id="b3_x2" x="544.80" y="464.55" font-family='"Liberation Serif", serif' font-size="10.90" text-anchor="middle">-100</text>
<text id="b3_x3" x="566.68" y="464.55" font-family='"Liberation Serif", serif' font-size="10.90" text-anchor="middle">-80</text>
<text id="b3_x4" x="588.55" y="464.55" font-family='"Liberation Serif", serif' font-size="10.90" text-anchor="middle">-60</text>
<text id="b3_x5" x="610.43" y="464.55" font-family='"Liberation Serif", serif' font-size="10.90" text-anchor="middle">-40</text>
<text id="b3_x6" x="632.30" y="464.55" font-family='"Liberation Serif", serif' font-size="10.90" text-anchor="middle">-20</text>
<text id="b3_x7" x="654.18" y="464.55" font-family='"Liberation Serif", serif' font-size="10.90" text-anchor="middle">0</text>
<text id="b3_x8" x="676.05" y="464.55" font-family='"Liberation Serif", serif' font-size="10.90" text-anchor="middle">20</text>
<text id="b3_y0" x="493.15" y="452.70" font-family='"Liberation Serif", serif' font-size="10.90" text-anchor="end">-140</text>
<text id="b3_y1" x="493.15" y="430.82" font-family='"Liberation Serif", serif' font-size="10.90" text-anchor="end">-120</text>
<text id="b3_y2" x="493.15" y="408.95" font-family='"Liberation Serif", serif' font-size="10.90" text-anchor="end">-100</text>
<text id="b3_y3" x="493.15" y="387.07" font-family='"Liberation Serif", serif' font-size="10.90" text-anchor="end">-80</text>
<text id="b3_y4" x="493.15" y="365.20" font-family='"Liberation Serif", serif' font-size="10.90" text-anchor="end">-60</text>
<text id="b3_y5" x="493.15" y="343.32" font-family='"Liberation Serif", serif' font-size="10.90" text-anchor="end">-40</text>
<text id="b3_y6" x="493.15" y="321.45" font-family='"Liberation Serif", serif' font-size="10.90" text-anchor="end">-20</text>
<text id="b3_y7" x="493.15" y="299.57" font-family='"Liberation Serif", serif' font-size="10.90" text-anchor="end">0</text>
<text id="b3_y8" x="493.15" y="277.70" font-family='"Liberation Serif", serif' font-size="10.90" text-anchor="end">20</text>
<text id="c1_x0" x="46.55" y="716.70" font-family='"Liberation Serif", serif' font-size="10.10" text-anchor="middle">-19.4</text>
<text id="c1_x1" x="90.30" y="716.70" font-family='"Liberation Serif", serif' font-size="10.10" text-anchor="middle">-19.2</text>
<text id="c1_x2" x="134.05" y="716.70" font-family='"Liberation Serif", serif' font-size="10.10" text-anchor="middle">-19</text>
<text id="c1_x3" x="177.80" y="716.70" font-family='"Liberation Serif", serif' font-size="10.10" text-anchor="middle">-18.8</text>
<text id="c1_x4" x="221.55" y="716.70" font-family='"Liberation Serif", serif' font-size="10.10" text-anchor="middle">-18.6</text>
<text id="c1_y0" x="40.45" y="706.25" font-family='"Liberation Serif", serif' font-size="10.10" text-anchor="end">-19.4</text>
<text id="c1_y1" x="40.45" y="662.58" font-family='"Liberation Serif", serif' font-size="10.10" text-anchor="end">-19.2</text>
<text id="c1_y2" x="40.45" y="618.90" font-family='"Liberation Serif", serif' font-size="10.10" text-anchor="end">-19</text>
<text id="c1_y3" x="40.45" y="575.22" font-family='"Liberation Serif", serif' font-size="10.10" text-anchor="end">-18.8</text>
<text id="c1_y4" x="40.45" y="531.55" font-family='"Liberation Serif", serif' font-size="10.10" text-anchor="end">-18.6</text>
<text id="c2_x0" x="265.70" y="716.85" font-family='"Liberation Serif", serif' font-size="10.30" text-anchor="middle">-6</text>
<text id="c2_x1" x="295.03" y="716.85" font-family='"Liberation Serif", serif' font-size="10.30" text-anchor="middle">-4</text>
<text id="c2_x2" x="324.37" y="716.85" font-family='"Liberation Serif", serif' font-size="10.30" text-anchor="middle">-2</text>
<text id="c2_x3" x="353.70" y="716.85" font-family='"Liberation Serif", serif' font-size="10.30" text-anchor="middle">0</text>
<text id="c2_x4" x="383.03" y="716.85" font-family='"Liberation Serif", serif' font-size="10.30" text-anchor="middle">2</text>
<text id="c2_x5" x="412.37" y="716.85" font-family='"Liberation Serif", serif' font-size="10.30" text-anchor="middle">4</text>
<text id="c2_x6" x="441.70" y="716.85" font-family='"Liberation Serif", serif' font-size="10.30" text-anchor="middle">6</text>
<text id="c2_y0" x="257.45" y="705.85" font-family='"Liberation Serif", serif' font-size="10.30" text-anchor="end">-6</text>
<text id="c2_y1" x="257.45" y="676.55" font-family='"Liberation Serif", serif' font-size="10.30" text-anchor="end">-4</text>
<text id="c2_y2" x="257.45" y="647.25" font-family='"Liberation Serif", serif' font-size="10.30" text-anchor="end">-2</text>
<text id="c2_y3" x="257.45" y="617.95" font-family='"Liberation Serif", serif' font-size="10.30" text-anchor="end">0</text>
<text id="c2_y4" x="257.45" y="588.65" font-family='"Liberation Serif", serif' font-size="10.30" text-anchor="end">2</text>
<text id="c2_y5" x="257.45" y="559.35" font-family='"Liberation Serif", serif' font-size="10.30" text-anchor="end">4</text>
<text id="c2_y6" x="257.45" y="530.05" font-family='"Liberation Serif", serif' font-size="10.30" text-anchor="end">6</text>
<text id="c3_x0" x="496.95" y="721.45" font-family='"Liberation Serif", serif' font-size="11.30" text-anchor="middle">-15</text>
<text id="c3_x1" x="526.73" y="721.45" font-family='"Liberation Serif", serif' font-size="11.30" text-anchor="middle">-10</text>
<text id="c3_x2" x="556.52" y="721.45" font-family='"Liberation Serif", serif' font-size="11.30" text-anchor="middle">-5</text>
<text id="c3_x3" x="586.30" y="721.45" font-family='"Liberation Serif", serif' font-size="11.30" text-anchor="middle">0</text>
<text id="c3_x4" x="616.08" y="721.45" font-family='"Liberation Serif", serif' font-size="11.30" text-anchor="middle">5</text>
<text id="c3_x5" x="645.87" y="721.45" font-family='"Liberation Serif", serif' font-size="11.30" text-anchor="middle">10</text>
<text id="c3_x6" x="675.65" y="721.45" font-family='"Liberation Serif", serif' font-size="11.30" text-anchor="middle">15</text>
<text id="c3_y0" x="488.85" y="709.95" font-family='"Liberation Serif", serif' font-size="11.30" text-anchor="end">-15</text>
<text id="c3_y1" x="488.85" y="680.20" font-family='"Liberation Serif", serif' font-size="11.30" text-anchor="end">-10</text>
<text id="c3_y2" x="488.85" y="650.45" font-family='"Liberation Serif", serif' font-size="11.30" text-anchor="end">-5</text>
<text id="c3_y3" x="488.85" y="620.70" font-family='"Liberation Serif", serif' font-size="11.30" text-anchor="end">0</text>
<text id="c3_y4" x="488.85" y="590.95" font-family='"Liberation Serif", serif' font-size="11.30" text-anchor="end">5</text>
<text id="c3_y5" x="488.85" y="561.20" font-family='"Liberation Serif", serif' font-size="11.30" text-anchor="end">10</text>
<text id="c3_y6" x="488.85" y="531.45" font-family='"Liberation Serif", serif' font-size="11.30" text-anchor="end">15</text>
<text id="b1_lg" x="74.59" y="288.12" font-family='"Liberation Serif", serif' font-size="11.14" text-anchor="start">Energy per Atom</text>
<path d="M171.8 284.6h3.2M173.4 283.0v3.2" stroke="#0c2cff" stroke-width="1.3"/>
<text id="b2_lg" x="282.26" y="286.71" font-family='"Liberation Serif", serif' font-size="11.37" text-anchor="start">Force</text>
<path d="M328.3 282.6h3.2M329.9 281.0v3.2" stroke="#0c2cff" stroke-width="1.3"/>
<text id="b3_lg" x="519.26" y="286.45" font-family='"Liberation Serif", serif' font-size="11.46" text-anchor="start">Stress</text>
<path d="M566.0 282.6h3.2M567.6 281.0v3.2" stroke="#0c2cff" stroke-width="1.3"/>
<text id="c1_lg" x="75.78" y="539.56" font-family='"Liberation Serif", serif' font-size="11.06" text-anchor="start">Energy per Atom</text>
<path d="M171.8 535.5h3.2M173.4 533.9v3.2" stroke="#0c2cff" stroke-width="1.3"/>
<text id="c2_lg" x="278.94" y="538.36" font-family='"Liberation Serif", serif' font-size="11.22" text-anchor="start">Force</text>
<path d="M323.7 534.5h3.2M325.3 532.9v3.2" stroke="#0c2cff" stroke-width="1.3"/>
<text id="c3_lg" x="515.52" y="539.64" font-family='"Liberation Serif", serif' font-size="11.34" text-anchor="start">Stress</text>
<path d="M562.5 535.5h3.2M564.1 533.9v3.2" stroke="#0c2cff" stroke-width="1.3"/>
<text id="b1_t" x="72.36" y="258.57" font-family='"Liberation Sans", sans-serif' font-size="11.94" text-anchor="start">MAE<tspan font-size="8.9" dy="1">SC</tspan><tspan dy="-1"> </tspan>(<tspan font-style="italic">E</tspan>) = 1.28 meV/atom</text>
<text id="b2_t" x="287.02" y="258.50" font-family='"Liberation Sans", sans-serif' font-size="12.04" text-anchor="start">MAE<tspan font-size="8.9" dy="1">SC</tspan><tspan dy="-1"> </tspan>(<tspan font-style="italic">F</tspan>) = 69.0 meV/&#197;</text>
<text id="b3_t" x="517.78" y="258.24" font-family='"Liberation Sans", sans-serif' font-size="11.98" text-anchor="start">MAE<tspan font-size="8.9" dy="1">SC</tspan><tspan dy="-1"> </tspan>(<tspan font-style="italic">&#963;</tspan>) = 107.3 MPa</text>
<text id="c1_t" x="66.88" y="519.04" font-family='"Liberation Sans", sans-serif' font-size="12.08" text-anchor="start">MAE (<tspan font-style="italic">E</tspan>) = 1.28 meV/atom</text>
<text id="c2_t" x="293.80" y="520.71" font-family='"Liberation Sans", sans-serif' font-size="12.20" text-anchor="start">MAE (<tspan font-style="italic">F</tspan>) = 69.0 meV/&#197;</text>
<text id="c3_t" x="525.82" y="518.44" font-family='"Liberation Sans", sans-serif' font-size="12.01" text-anchor="start">MAE (<tspan font-style="italic">&#963;</tspan>) = 107.3 MPa</text>
<text id="b1_xl" x="131.15" y="489.56" font-family='"Liberation Sans", sans-serif' font-size="16.09" text-anchor="middle"><tspan font-style="italic">E</tspan><tspan font-style="italic" font-size="11" dy="2">Buck</tspan><tspan dy="-2"> (eV/atom)</tspan></text>
<text id="b2_xl" x="348.82" y="490.55" font-family='"Liberation Sans", sans-serif' font-size="16.19" text-anchor="middle"><tspan font-style="italic">F</tspan><tspan font-style="italic" font-size="11" dy="2">Buck</tspan><tspan dy="-2"> (eV/&#197;)</tspan></text>
<text id="b3_xl" x="581.35" y="490.54" font-family='"Liberation Sans", sans-serif' font-size="16.05" text-anchor="middle"><tspan font-style="italic">&#963;</tspan><tspan font-style="italic" font-size="11" dy="2">Buck</tspan><tspan dy="-2"> (GPa)</tspan></text>
<text id="c1_xl" x="130.00" y="740.35" font-family='"Liberation Sans", sans-serif' font-size="15.98" text-anchor="middle"><tspan font-style="italic">E</tspan><tspan font-style="italic" font-size="11" dy="2">Buck+Coul</tspan><tspan dy="-2"> (eV/atom)</tspan></text>
<text id="c2_xl" x="347.48" y="741.40" font-family='"Liberation Sans", sans-serif' font-size="15.67" text-anchor="middle"><tspan font-style="italic">F</tspan><tspan font-style="italic" font-size="11" dy="2">Buck+Coul</tspan><tspan dy="-2"> (eV/&#197;)</tspan></text>
<text id="c3_xl" x="580.22" y="740.53" font-family='"Liberation Sans", sans-serif' font-size="16.15" text-anchor="middle"><tspan font-style="italic">&#963;</tspan><tspan font-style="italic" font-size="11" dy="2">Buck+Coul</tspan><tspan dy="-2"> (GPa)</tspan></text>
<text id="b1_yl" transform="translate(14.88 364.32) rotate(-90)" font-family='"Liberation Sans", sans-serif' font-size="16.10" text-anchor="middle"><tspan font-style="italic">E</tspan><tspan font-style="italic" font-size="11" dy="2">NNP</tspan><tspan dy="-2"> (eV/atom)</tspan></text>
<text id="b2_yl" transform="translate(244.13 364.69) rotate(-90)" font-family='"Liberation Sans", sans-serif' font-size="15.97" text-anchor="middle"><tspan font-style="italic">F</tspan><tspan font-style="italic" font-size="11" dy="2">NNP</tspan><tspan dy="-2"> (eV/&#197;)</tspan></text>
<text id="b3_yl" transform="translate(467.01 364.25) rotate(-90)" font-family='"Liberation Sans", sans-serif' font-size="15.82" text-anchor="middle"><tspan font-style="italic">&#963;</tspan><tspan font-style="italic" font-size="11" dy="2">NNP</tspan><tspan dy="-2"> (GPa)</tspan></text>
<text id="c1_yl" transform="translate(13.94 617.70) rotate(-90)" font-family='"Liberation Sans", sans-serif' font-size="15.82" text-anchor="middle"><tspan font-style="italic">E</tspan><tspan font-style="italic" font-size="11" dy="2">NNP+Coul</tspan><tspan dy="-2"> (eV/atom)</tspan></text>
<text id="c2_yl" transform="translate(242.42 604.75) rotate(-90)" font-family='"Liberation Sans", sans-serif' font-size="15.90" text-anchor="middle"><tspan font-style="italic">F</tspan><tspan font-style="italic" font-size="11" dy="2">NNP+Coul</tspan><tspan dy="-2"> (eV/&#197;)</tspan></text>
<text id="c3_yl" transform="translate(465.54 604.96) rotate(-90)" font-family='"Liberation Sans", sans-serif' font-size="15.76" text-anchor="middle"><tspan font-style="italic">&#963;</tspan><tspan font-style="italic" font-size="11" dy="2">NNP+Coul</tspan><tspan dy="-2"> (GPa)</tspan></text>
</svg>
</body></html>
